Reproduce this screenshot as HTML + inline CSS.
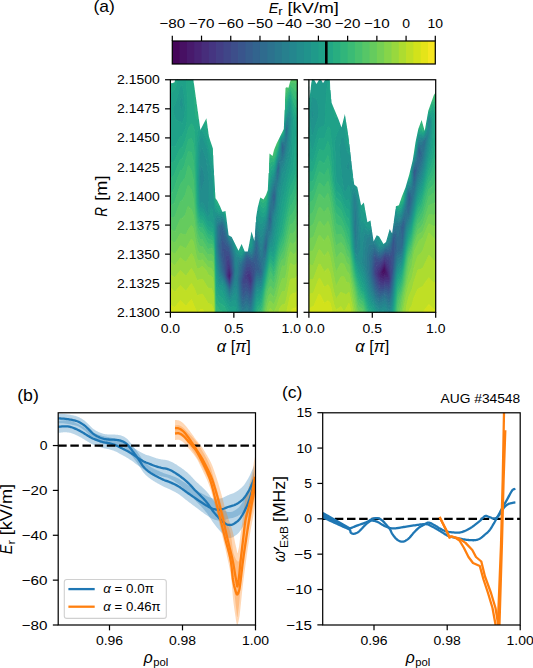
<!DOCTYPE html><html><head><meta charset="utf-8"><style>html,body{margin:0;padding:0;background:#fff;width:533px;height:668px;overflow:hidden}svg{display:block}text{font-family:"Liberation Sans", sans-serif;fill:#000}</style></head><body><svg width="533" height="668" viewBox="0 0 533 668"><defs><clipPath id="ca"><rect x="170.4" y="79.75" width="126.9" height="232.55"/></clipPath><clipPath id="cb"><rect x="308.9" y="79.75" width="126.8" height="232.55"/></clipPath><clipPath id="cpb"><rect x="58.2" y="412.8" width="197.3" height="212.2"/></clipPath><clipPath id="cpc"><rect x="322.7" y="412.8" width="197.5" height="212.2"/></clipPath></defs><g clip-path="url(#ca)"><path d="M229.4 274.8 229.4 277.3 229.4 274.8Z" fill="#471063" stroke="#471063" stroke-width="1"/><path d="M229.4 271.8 230.1 275.8 229.4 278.5 228.5 275.8 229.4 271.8ZM229.2 275.8 229.4 277.3 229.6 275.8 229.4 274.8 229.2 275.8Z" fill="#481a6c" stroke="#481a6c" stroke-width="1"/><path d="M229.4 268.8 230.6 275.8 229.4 279.7 228.2 276.8 228.0 274.8 229.4 268.8ZM229.1 272.8 228.5 275.8 229.4 278.5 230.1 275.8 229.4 271.8 229.1 272.8Z" fill="#482374" stroke="#482374" stroke-width="1"/><path d="M229.4 265.8 231.0 274.8 230.4 278.7 229.4 280.8 227.7 276.8 227.3 274.8 228.1 268.8 229.4 265.8ZM229.0 269.8 228.0 275.8 229.4 279.7 230.6 275.8 229.4 268.8 229.0 269.8ZM249.4 276.7 250.4 276.4 250.7 277.8 250.9 280.8 250.4 282.3 248.8 277.8 249.4 276.7Z" fill="#472d7b" stroke="#472d7b" stroke-width="1"/><path d="M229.4 262.7 231.5 274.8 230.4 280.0 229.4 281.9 227.1 276.8 226.7 274.8 227.4 266.2 228.4 263.4 229.4 262.7ZM228.8 266.8 227.9 269.8 227.3 274.8 227.7 276.8 229.4 280.8 230.4 278.7 231.0 274.8 229.4 265.8 228.8 266.8ZM248.4 273.6 250.4 273.0 251.2 276.8 251.7 280.8 250.4 285.1 246.5 275.8 246.6 274.8 248.4 273.6ZM249.2 276.8 248.8 277.8 249.0 278.8 250.4 282.3 251.0 279.8 250.5 276.8 250.4 276.4 249.2 276.8Z" fill="#453581" stroke="#453581" stroke-width="1"/><path d="M227.4 259.7 229.4 259.0 231.9 273.8 230.9 279.8 229.4 283.0 226.5 276.8 226.2 274.8 226.4 261.7 227.4 259.7ZM229.4 262.8 228.4 263.4 227.4 266.2 226.7 274.8 227.1 276.8 229.4 281.9 230.4 280.0 231.5 274.8 229.4 262.8ZM250.4 269.7 251.8 274.8 252.4 280.8 250.4 288.0 246.4 279.7 244.4 279.6 244.0 278.8 246.4 270.7 250.4 269.7ZM247.8 273.8 246.6 274.8 246.5 275.8 250.4 285.1 251.7 280.8 250.9 274.8 250.4 273.0 247.8 273.8Z" fill="#433e85" stroke="#433e85" stroke-width="1"/><path d="M226.4 255.4 229.4 255.2 232.3 272.8 231.2 279.8 230.4 282.6 229.4 284.2 226.4 277.7 225.6 274.8 225.1 258.8 225.4 257.0 226.4 255.4ZM227.3 259.8 226.4 261.7 226.2 275.8 229.4 283.0 230.9 279.8 231.9 273.8 229.4 259.0 227.3 259.8ZM248.4 266.7 250.4 266.4 252.9 272.8 253.0 280.8 251.4 288.4 250.4 290.8 246.4 283.5 243.4 284.4 242.4 280.8 243.4 275.9 246.4 267.2 248.4 266.7ZM250.1 269.8 246.4 270.7 244.0 278.8 244.4 279.6 246.4 279.7 250.4 288.0 252.4 280.8 251.6 273.8 250.4 269.7 250.1 269.8Z" fill="#404688" stroke="#404688" stroke-width="1"/><path d="M222.4 248.5 224.4 248.6 226.4 250.4 229.4 251.5 231.4 261.8 232.8 273.8 231.1 281.8 230.4 283.9 229.4 285.3 226.4 278.9 225.1 274.8 223.6 252.8 223.4 251.6 222.4 251.4 222.4 248.5ZM226.1 255.8 225.1 258.8 225.6 274.8 226.4 277.7 229.4 284.2 230.4 282.6 231.7 277.8 232.4 273.8 232.2 271.8 229.4 255.2 227.4 255.2 226.1 255.8ZM246.4 263.6 250.4 263.0 253.4 268.0 254.4 270.8 253.5 280.8 251.5 290.8 250.4 293.7 246.4 287.3 243.4 289.5 241.7 282.8 241.9 279.8 243.2 272.8 246.4 263.6ZM248.1 266.8 246.4 267.2 243.4 275.9 242.4 280.8 243.4 284.4 246.4 283.5 250.4 290.8 251.4 288.4 253.0 280.8 252.9 272.8 250.4 266.4 248.1 266.8Z" fill="#3d4e8a" stroke="#3d4e8a" stroke-width="1"/><path d="M222.4 239.0 226.4 245.5 229.4 247.9 232.2 262.8 233.2 273.8 231.6 281.8 230.4 285.2 229.4 286.4 226.4 280.2 224.9 275.8 221.2 252.8 221.3 244.8 222.4 239.0ZM222.4 248.8 222.4 251.4 223.4 251.6 223.6 252.8 225.1 274.8 226.4 278.9 229.4 285.3 230.4 283.9 231.1 281.8 232.8 273.8 231.9 264.8 229.4 251.5 226.4 250.4 224.4 248.6 222.4 248.8ZM246.4 260.1 250.4 259.9 252.4 262.1 253.4 262.0 254.4 262.6 255.3 264.8 256.1 268.8 252.4 290.0 250.4 296.6 246.4 291.1 243.4 294.5 242.4 292.1 240.9 282.8 242.8 270.8 246.4 260.1ZM246.4 263.8 243.2 272.8 241.9 279.8 241.7 282.8 243.4 289.5 246.4 287.3 250.4 293.7 251.5 290.8 253.5 280.8 254.4 270.8 253.4 268.0 250.4 263.0 246.4 263.8Z" fill="#39558c" stroke="#39558c" stroke-width="1"/><path d="M282.4 145.5 282.4 147.8 282.4 145.5ZM278.4 168.4 278.4 169.0 278.4 168.4ZM274.4 194.6 274.8 196.8 274.4 200.3 273.4 200.1 273.1 197.8 273.4 195.5 274.4 194.6ZM270.4 218.3 270.4 220.4 270.4 218.3ZM221.4 231.3 222.4 230.8 227.0 242.8 229.7 246.8 232.6 260.8 233.6 273.8 231.7 282.8 230.4 286.5 229.4 287.5 226.4 281.4 224.1 274.8 222.9 269.8 220.3 252.8 220.1 245.8 221.4 231.3ZM222.2 239.8 221.4 243.6 221.0 250.8 223.7 268.8 225.4 277.4 229.4 286.4 230.4 285.2 231.6 281.8 233.2 273.8 232.1 261.8 229.4 247.9 226.4 245.5 222.4 239.0 222.2 239.8ZM266.4 244.1 266.4 245.1 265.4 246.7 265.4 244.8 266.4 244.1ZM255.4 254.4 256.4 254.2 257.9 263.8 259.7 269.8 259.4 270.5 257.4 270.4 256.2 272.8 252.4 292.9 250.4 299.8 246.4 294.4 243.4 297.9 242.4 296.9 241.0 289.8 240.1 280.8 242.8 266.8 246.4 257.3 249.4 257.9 251.4 259.5 252.4 259.6 254.5 256.8 255.4 254.4ZM246.2 260.8 242.8 270.8 240.9 282.8 242.4 292.1 243.4 294.5 246.4 291.1 250.4 296.6 252.4 290.0 256.1 268.8 255.3 264.8 254.4 262.6 253.4 262.0 252.4 262.1 250.4 259.9 246.4 260.1 246.2 260.8Z" fill="#365d8d" stroke="#365d8d" stroke-width="1"/><path d="M286.4 129.6 286.4 131.0 286.4 129.6ZM282.4 144.4 283.5 147.8 282.4 151.2 281.6 145.8 282.4 144.4ZM282.2 145.8 282.4 147.8 282.6 146.8 282.2 145.8ZM278.4 166.0 278.9 167.8 278.4 172.5 277.4 172.2 277.2 169.7 278.4 166.0ZM278.3 168.8 278.4 168.4 278.3 168.8ZM274.4 191.7 275.3 196.8 274.4 203.2 273.4 203.6 272.5 196.8 273.4 192.8 274.4 191.7ZM274.3 194.8 273.4 195.5 273.1 197.8 273.4 200.1 274.4 200.3 274.8 196.8 274.3 194.8ZM270.4 213.5 271.0 219.8 270.4 223.8 269.4 222.3 269.0 218.8 269.4 215.3 270.4 213.5ZM270.1 218.8 270.4 220.4 270.4 218.3 270.1 218.8ZM222.4 224.7 223.4 229.4 225.4 233.6 227.0 239.8 230.7 247.8 233.3 260.8 234.1 270.8 233.8 275.8 231.9 283.8 230.4 287.7 229.4 288.7 226.0 281.8 221.9 269.8 219.4 252.8 218.9 246.8 219.8 228.8 220.9 225.8 221.4 225.0 222.4 224.7ZM221.3 231.8 220.1 245.8 220.3 252.8 222.9 269.8 224.1 274.8 226.4 281.4 229.4 287.5 230.4 286.5 231.7 282.8 233.6 273.8 232.6 260.8 229.7 246.8 227.0 242.8 222.4 230.8 221.3 231.8ZM266.4 239.8 266.9 244.8 266.4 248.1 265.4 250.0 264.4 246.8 265.4 241.3 266.4 239.8ZM265.6 244.8 265.4 246.7 266.4 244.8 266.4 244.1 265.6 244.8ZM256.4 242.9 258.5 257.8 261.5 271.8 260.4 273.6 257.4 273.3 256.4 275.2 252.4 295.9 250.4 303.1 246.4 297.7 243.4 301.1 242.4 300.3 241.0 295.8 239.3 279.8 241.8 266.8 243.3 261.8 246.4 255.4 249.4 256.5 251.4 258.0 252.4 257.6 254.5 252.8 256.4 242.9ZM255.3 254.8 253.9 257.8 252.4 259.6 251.4 259.5 249.4 257.9 246.4 257.3 242.8 266.8 240.1 280.8 241.0 289.8 242.4 296.9 243.4 297.9 246.4 294.4 250.4 299.8 252.4 292.9 256.2 272.8 257.4 270.4 259.4 270.5 259.7 269.8 257.9 263.8 256.4 254.2 255.3 254.8Z" fill="#32648e" stroke="#32648e" stroke-width="1"/><path d="M286.4 127.3 287.1 129.8 286.4 136.1 285.7 131.8 286.4 127.3ZM286.4 129.8 286.4 131.0 286.4 129.8ZM282.4 143.4 283.8 145.8 284.4 148.8 282.4 154.6 281.6 150.8 281.2 145.8 281.4 144.1 282.4 143.4ZM282.0 144.8 281.6 145.8 282.4 151.2 283.5 147.8 282.6 144.8 282.4 144.4 282.0 144.8ZM278.4 164.0 279.3 165.8 279.5 167.8 278.4 175.6 277.4 176.6 276.8 169.8 278.4 164.0ZM278.1 166.8 277.4 168.4 277.2 170.8 277.4 172.2 278.4 172.5 278.9 167.8 278.4 166.0 278.1 166.8ZM274.4 188.7 275.4 192.1 275.8 196.8 274.4 206.0 273.4 207.1 272.2 202.8 271.9 196.8 273.2 190.8 274.4 188.7ZM274.4 191.8 273.4 192.8 272.5 196.8 273.4 203.6 274.4 203.2 275.3 196.8 274.4 191.8ZM270.4 208.2 271.1 211.8 271.6 220.8 270.4 227.2 269.4 226.7 269.1 225.8 268.5 217.8 269.4 211.4 270.4 208.2ZM270.3 213.8 269.4 215.3 269.0 218.8 269.4 222.3 270.4 223.8 271.0 219.8 270.3 213.8ZM221.4 223.3 222.4 223.1 223.3 224.8 227.9 239.8 231.2 246.8 233.7 258.8 234.6 270.8 234.1 276.8 232.2 284.8 230.4 289.1 229.4 290.0 226.4 283.8 221.2 270.8 218.5 252.8 218.0 246.8 218.1 227.8 218.4 226.8 221.4 223.3ZM222.3 224.8 221.4 225.0 220.9 225.8 219.8 228.8 218.9 246.8 219.4 252.8 221.9 269.8 226.0 281.8 229.4 288.7 230.4 287.7 231.9 283.8 233.8 275.8 234.1 270.8 233.3 260.8 230.7 247.8 227.0 239.8 225.4 233.6 223.4 229.4 222.3 224.8ZM266.4 235.8 267.2 238.8 267.4 243.8 266.4 250.9 265.4 253.4 264.1 251.8 263.6 247.8 265.4 237.9 266.4 235.8ZM265.8 240.8 264.4 246.8 265.4 250.0 266.4 248.1 266.9 244.8 266.4 239.8 265.8 240.8ZM256.4 239.5 257.7 242.8 259.3 254.8 261.5 264.8 262.1 272.8 261.4 275.0 260.4 276.1 257.4 276.2 256.4 278.2 251.8 301.8 250.4 306.3 246.4 300.9 243.4 304.4 242.4 303.8 241.9 302.8 240.3 296.8 238.5 278.8 239.7 270.8 242.0 262.8 246.4 253.7 251.4 256.4 252.4 255.7 253.9 251.8 255.4 242.2 256.4 239.5ZM256.1 243.8 254.5 252.8 252.4 257.6 251.4 258.0 249.4 256.5 246.4 255.4 243.3 261.8 241.8 266.8 239.3 279.8 241.0 295.8 242.4 300.3 243.4 301.1 246.4 297.7 250.4 303.1 252.4 295.9 256.4 275.2 257.4 273.3 260.4 273.6 261.5 271.8 258.5 257.8 256.7 243.8 256.4 242.9 256.1 243.8Z" fill="#2f6b8e" stroke="#2f6b8e" stroke-width="1"/><path d="M286.4 125.0 287.5 126.8 287.7 129.8 286.4 141.2 285.6 141.8 285.4 143.2 285.3 130.8 286.4 125.0ZM286.3 127.8 285.7 131.8 286.4 136.1 287.1 129.8 286.7 127.8 286.4 127.3 286.3 127.8ZM282.4 142.3 285.3 145.8 285.3 147.8 284.4 152.8 282.4 157.9 281.3 154.8 280.9 145.8 281.4 143.0 282.4 142.3ZM281.8 143.8 281.2 144.8 281.3 147.8 282.4 154.6 284.1 149.8 284.3 147.8 282.7 143.8 282.4 143.4 281.8 143.8ZM278.4 162.0 279.4 162.8 280.0 168.8 278.4 178.8 277.4 180.9 276.5 178.8 276.3 170.7 277.4 164.7 278.4 162.0ZM278.1 164.8 276.8 169.8 277.4 176.6 278.4 175.6 279.5 167.8 278.9 164.8 278.4 164.0 278.1 164.8ZM274.4 185.6 275.4 185.5 275.8 187.8 276.4 194.8 275.8 200.8 274.4 208.9 272.4 212.0 272.1 221.8 270.9 228.8 270.4 230.6 269.4 231.2 268.4 230.9 268.1 231.8 267.8 244.8 266.4 253.7 265.4 256.7 263.6 258.8 263.0 260.8 262.6 273.8 261.4 277.6 260.4 278.7 257.4 279.1 256.4 281.3 252.3 302.8 250.4 309.6 246.4 304.2 243.4 307.7 242.4 307.2 241.0 303.8 239.4 295.8 237.7 279.8 238.9 267.8 240.0 263.8 241.4 262.3 246.4 252.4 251.4 254.9 252.4 253.8 253.9 248.8 255.4 238.5 256.4 236.0 257.4 237.7 258.1 240.8 260.4 254.3 261.4 257.4 262.4 257.1 262.7 247.8 264.0 240.7 265.4 234.4 267.8 228.8 268.1 216.8 269.4 207.5 270.9 200.8 271.4 194.8 273.0 188.8 274.4 185.6ZM274.3 188.8 273.2 190.8 271.9 196.8 272.2 202.8 273.4 207.1 274.4 206.0 275.8 196.8 275.4 192.1 274.3 188.8ZM270.3 208.8 269.4 211.4 268.5 218.8 269.1 225.8 269.4 226.7 270.4 227.2 271.6 219.8 271.0 210.8 270.6 208.8 270.4 208.2 270.3 208.8ZM266.0 236.8 265.0 239.8 263.6 247.8 264.1 251.8 265.4 253.4 266.4 250.9 267.4 243.8 267.0 237.8 266.4 235.8 266.0 236.8ZM256.3 239.8 255.4 242.2 253.9 251.8 252.4 255.7 251.4 256.4 246.4 253.7 242.0 262.8 239.7 270.8 238.5 278.8 240.3 296.8 241.9 302.8 242.4 303.8 243.4 304.4 246.4 300.9 250.4 306.3 251.8 301.8 256.4 278.2 257.4 276.2 260.4 276.1 261.4 275.0 262.1 272.8 261.5 264.8 259.3 254.8 257.7 242.8 256.3 239.8ZM221.4 221.7 222.4 221.5 223.9 223.8 228.6 239.8 231.7 245.7 234.3 257.8 235.0 270.8 234.5 277.8 232.8 284.8 230.4 290.9 229.4 291.9 220.4 271.8 218.1 255.8 217.3 246.8 217.3 226.8 218.2 224.8 219.4 224.0 221.4 221.7ZM221.1 223.8 218.4 226.8 218.1 227.8 218.0 246.8 218.5 252.8 221.2 270.8 226.4 283.8 229.4 290.0 230.4 289.1 232.2 284.8 234.1 276.8 234.6 270.8 233.7 258.8 231.2 246.7 227.9 239.8 223.3 224.8 222.4 223.1 221.1 223.8Z" fill="#2c728e" stroke="#2c728e" stroke-width="1"/><path d="M286.4 122.7 287.4 123.1 288.5 126.8 287.1 141.8 284.4 156.8 282.4 161.4 281.4 161.3 280.9 161.8 280.0 173.8 276.9 187.8 276.8 195.8 276.0 203.8 274.7 210.8 272.9 215.8 272.7 222.8 271.8 228.8 270.8 232.8 269.1 236.8 266.7 254.8 264.1 264.8 263.4 272.8 262.4 277.1 261.4 280.1 260.4 281.3 257.4 282.0 256.4 284.4 252.4 306.0 251.4 310.4 250.2 312.8 246.4 307.5 243.4 311.0 242.4 310.6 241.4 309.0 240.4 305.7 238.5 294.8 236.9 278.8 237.4 269.7 238.4 262.8 239.4 261.3 240.4 261.4 241.4 260.7 246.4 251.0 251.4 253.4 252.4 251.9 253.5 247.8 255.4 234.8 256.4 232.6 257.7 234.8 260.4 248.6 261.4 250.6 263.9 236.8 266.8 225.8 268.4 210.6 270.9 193.8 272.4 187.7 275.2 179.8 275.9 170.8 277.0 164.8 278.4 159.9 279.4 159.0 280.4 160.1 280.5 159.8 280.8 143.8 281.4 141.9 282.4 141.3 283.4 141.9 283.9 141.8 284.6 140.8 285.0 130.8 286.4 122.7ZM286.2 125.8 285.3 130.8 285.4 143.2 285.6 141.8 286.4 141.2 287.8 128.8 287.4 126.4 286.4 125.0 286.2 125.8ZM281.7 142.8 280.9 144.8 281.0 150.8 281.4 155.4 282.4 157.9 284.4 152.8 285.2 148.8 285.3 145.8 282.4 142.3 281.7 142.8ZM278.1 162.8 276.3 170.8 276.5 178.8 277.4 180.9 278.4 178.8 280.0 168.8 279.4 162.6 278.4 162.0 278.1 162.8ZM274.3 185.8 273.0 188.8 271.4 194.8 270.9 200.8 269.4 207.5 268.1 216.8 267.8 228.8 265.4 234.4 264.0 240.8 262.7 247.8 262.4 257.1 261.4 257.4 260.4 254.3 258.1 240.8 257.4 237.7 256.4 236.0 255.4 238.5 253.9 248.8 252.4 253.8 251.4 254.9 246.4 252.4 241.4 262.3 240.0 263.8 238.9 267.8 237.7 279.8 239.4 295.8 241.0 303.8 242.4 307.2 243.4 307.7 246.4 304.2 250.4 309.6 252.3 302.8 256.4 281.3 257.4 279.1 260.4 278.7 261.4 277.6 262.6 273.8 263.0 260.8 263.6 258.8 265.4 256.7 266.4 253.7 267.8 244.8 268.1 231.8 268.4 230.9 269.4 231.2 270.4 230.6 270.9 228.8 272.1 221.8 272.4 212.0 274.4 208.9 275.8 200.8 276.4 194.8 275.8 187.8 275.4 185.5 274.3 185.8ZM221.4 220.0 222.4 219.9 224.4 222.8 228.9 238.8 232.2 244.8 234.8 256.8 235.5 270.8 235.0 278.8 233.9 283.8 231.9 289.8 230.4 293.2 229.4 294.0 224.4 281.4 219.7 272.8 217.4 255.7 216.6 245.8 216.7 225.8 217.4 223.0 219.4 222.0 221.4 220.0ZM221.3 221.8 219.4 224.0 218.2 224.8 217.3 226.8 217.3 246.8 218.2 256.8 220.4 271.8 229.4 291.9 230.4 290.9 232.8 284.8 234.5 277.8 235.0 270.8 234.3 257.8 231.7 245.8 228.6 239.8 223.9 223.8 222.4 221.5 221.3 221.8Z" fill="#29798e" stroke="#29798e" stroke-width="1"/><path d="M286.4 120.4 287.4 120.0 288.4 120.3 289.1 124.8 287.9 142.8 284.4 160.8 281.4 167.1 280.4 176.8 277.6 188.8 276.6 203.8 275.5 210.8 273.4 217.8 272.2 231.8 269.4 240.0 266.5 258.8 264.8 265.8 262.4 279.8 261.4 282.7 260.4 283.8 257.4 285.0 256.4 287.4 251.9 311.8 251.7 312.8 250.5 312.8 252.4 306.0 256.4 284.4 257.4 282.0 260.4 281.3 261.4 280.1 263.2 273.8 264.1 264.8 266.4 256.4 269.1 236.8 270.8 232.8 272.0 227.8 272.9 215.8 274.7 210.8 275.9 204.8 276.8 195.8 276.9 187.8 280.0 173.8 280.9 161.8 281.4 161.3 282.4 161.4 284.7 155.8 287.1 141.8 288.4 128.8 288.1 124.8 287.4 123.1 286.4 122.7 285.0 130.8 285.0 136.8 284.4 141.5 283.4 141.9 282.4 141.3 281.4 141.9 280.8 143.8 280.5 159.8 280.4 160.1 279.4 159.0 278.4 159.9 277.0 164.8 275.9 170.8 275.2 179.8 272.4 187.7 270.9 193.8 268.4 210.6 266.8 225.8 263.9 236.8 261.4 250.6 260.4 248.6 257.4 233.8 256.4 232.6 255.4 234.8 255.4 231.1 256.4 229.1 257.4 229.9 260.4 242.4 261.4 243.8 266.4 223.6 270.6 191.8 272.1 185.8 274.6 178.8 276.8 163.8 279.8 153.8 280.4 143.7 281.4 140.8 282.4 140.2 283.4 140.3 284.4 138.2 284.9 128.8 286.4 120.4ZM221.4 218.4 222.4 218.3 224.4 221.0 229.1 237.8 232.4 242.7 235.6 256.8 236.4 267.9 237.4 259.3 238.4 258.9 240.4 259.6 241.4 259.1 246.4 249.7 250.4 251.8 251.4 251.8 252.9 247.8 254.1 237.5 254.4 237.8 254.9 237.2 253.5 247.8 251.9 252.7 251.4 253.4 250.4 253.1 246.4 251.0 241.4 260.7 240.4 261.4 239.4 261.3 238.4 262.5 236.9 275.8 238.7 295.8 240.2 304.8 241.4 309.0 242.4 310.6 243.4 311.0 246.4 307.5 250.2 312.8 241.4 312.8 240.2 308.8 238.5 299.8 236.4 281.4 235.4 280.8 232.6 290.8 230.4 295.5 229.4 296.0 224.4 282.9 219.4 275.1 217.9 266.8 216.2 250.8 216.0 225.8 216.4 222.6 217.4 220.2 219.4 220.0 221.4 218.4ZM220.6 220.8 219.4 222.0 217.4 223.0 216.6 226.8 216.7 246.8 218.2 262.8 219.7 272.8 224.4 281.4 229.4 294.0 230.4 293.2 231.9 289.8 233.9 283.8 235.0 278.8 235.5 270.8 234.8 256.8 232.2 244.8 228.9 238.8 224.4 222.8 222.4 219.9 221.4 220.0 220.6 220.8Z" fill="#27808e" stroke="#27808e" stroke-width="1"/><path d="M288.4 116.5 289.4 116.1 290.0 118.8 289.6 132.8 288.3 147.8 284.4 165.5 283.4 167.6 282.4 168.4 282.0 169.8 280.5 181.8 278.4 188.8 277.0 206.8 275.9 212.8 274.4 217.8 272.6 234.8 269.4 244.3 262.4 282.4 261.4 285.2 260.4 286.4 257.4 287.9 256.4 290.5 252.5 312.8 251.7 312.8 256.4 287.4 257.4 285.0 260.4 283.8 261.4 282.7 263.4 275.6 269.4 240.0 271.4 234.9 272.4 230.5 273.4 217.8 276.2 206.8 277.6 188.8 280.4 176.8 281.4 167.1 284.4 160.8 287.1 147.8 289.1 127.8 288.4 120.3 287.4 120.0 286.4 120.4 284.9 128.8 284.4 138.2 283.4 140.3 282.4 140.2 281.4 140.8 280.4 143.7 279.8 153.8 276.8 163.8 274.6 178.8 272.1 185.8 270.6 191.8 266.4 223.6 261.4 243.8 260.4 242.4 257.4 229.9 256.4 229.1 255.4 231.1 255.4 227.4 256.4 225.7 257.4 226.0 260.4 235.9 261.4 237.0 265.4 224.0 266.4 219.6 270.4 189.1 271.7 183.8 274.4 176.4 276.4 163.8 279.2 152.8 280.3 142.8 281.4 139.7 283.4 138.8 283.8 137.8 285.4 122.4 286.4 118.3 288.4 116.5ZM200.4 165.8 202.4 168.0 204.0 173.8 204.7 179.8 200.4 193.5 199.7 176.8 200.4 165.8ZM221.4 216.7 222.4 216.7 224.4 219.2 229.4 237.0 231.4 238.6 232.4 240.0 236.4 256.2 238.4 256.7 240.4 257.9 241.4 257.5 246.4 248.3 250.4 250.5 251.4 250.3 252.4 247.8 253.4 236.8 254.1 237.5 252.9 247.8 251.4 251.8 250.4 251.8 246.4 249.7 241.4 259.1 240.4 259.6 238.4 258.9 237.4 259.3 236.4 267.9 235.6 256.8 232.7 243.8 231.4 240.8 229.1 237.8 224.4 221.0 222.4 218.3 221.4 218.4 219.4 220.0 217.4 220.2 216.4 222.8 216.0 226.8 216.2 249.8 217.9 266.8 219.4 275.1 224.4 282.9 229.4 296.0 230.4 295.5 232.6 290.8 235.4 280.8 236.4 281.4 238.5 299.8 240.2 308.8 241.4 312.8 240.1 312.8 237.9 301.8 236.4 289.5 235.4 286.7 232.7 293.8 230.4 297.7 229.4 298.1 227.8 294.8 224.4 284.7 222.4 281.7 219.6 278.8 218.4 274.8 217.0 265.8 215.4 249.8 215.4 223.8 215.9 219.8 217.1 217.8 219.4 218.0 221.4 216.7Z" fill="#24868e" stroke="#24868e" stroke-width="1"/><path d="M289.4 111.3 290.4 112.1 291.1 118.8 289.9 142.8 288.7 153.8 286.4 161.6 284.9 169.8 284.4 171.2 283.0 172.8 282.4 174.6 281.4 183.8 279.4 192.7 277.7 208.8 272.9 239.8 271.7 242.8 270.4 244.0 269.4 247.8 262.4 285.1 261.4 287.7 257.4 291.1 256.4 293.7 253.1 312.8 252.5 312.8 256.4 290.5 257.4 287.9 260.4 286.4 261.4 285.2 262.4 282.4 269.4 244.3 272.4 235.8 274.4 217.8 275.9 212.8 277.0 206.8 278.4 188.8 280.5 181.8 282.0 169.8 282.4 168.4 283.4 167.6 284.4 165.5 287.9 149.8 289.0 140.8 289.9 126.8 289.8 116.8 289.4 116.1 288.4 116.5 286.3 118.8 284.9 125.8 284.1 136.8 283.4 138.8 281.4 139.7 280.3 142.8 279.2 152.8 276.4 163.8 274.4 176.4 271.7 183.8 270.4 189.1 266.4 219.6 261.4 237.0 260.4 235.9 257.4 226.0 256.4 225.7 255.4 227.4 255.4 223.7 256.4 222.3 257.4 222.1 260.4 229.4 261.4 230.3 265.4 220.5 266.4 216.2 270.4 185.3 274.4 173.3 276.1 162.8 278.9 151.8 280.4 140.7 281.4 138.6 283.4 137.2 283.8 135.8 284.7 124.8 285.9 117.7 286.4 116.1 289.4 111.3ZM200.4 148.2 202.4 148.6 205.8 157.8 208.3 172.8 209.1 181.8 209.0 200.8 208.1 211.8 207.4 213.0 206.3 211.8 204.8 206.8 202.8 202.8 202.4 202.2 200.4 203.7 199.4 200.8 198.8 176.8 199.4 159.6 200.4 148.2ZM200.3 166.8 199.7 176.8 200.4 193.5 204.7 179.8 204.0 173.8 202.4 168.0 200.4 165.8 200.3 166.8ZM213.4 207.0 213.4 208.1 213.4 207.0ZM216.4 215.3 217.4 214.8 219.4 215.9 222.4 215.1 224.4 217.4 227.2 225.8 227.4 228.8 227.9 229.3 229.4 235.5 230.4 236.3 231.8 236.8 233.0 238.8 236.4 253.3 240.4 256.2 241.4 255.9 242.4 254.6 245.9 247.8 247.4 247.8 247.9 247.3 250.4 249.2 251.4 248.8 252.9 233.3 253.4 233.8 252.4 247.8 251.4 250.3 250.4 250.5 246.4 248.3 242.4 256.0 241.4 257.5 240.4 257.9 238.4 256.7 236.4 256.2 232.7 240.8 231.4 238.6 229.4 237.0 224.4 219.2 222.4 216.7 221.4 216.7 219.4 218.0 217.4 217.5 216.4 218.6 215.6 220.8 215.4 249.8 217.2 266.8 218.9 276.8 219.6 278.8 222.4 281.7 224.4 284.7 227.8 294.8 229.4 298.1 230.4 297.7 232.7 293.8 235.4 286.7 236.4 289.5 237.9 301.8 240.1 312.8 238.9 312.8 235.4 293.2 230.6 299.8 229.4 300.2 226.6 294.8 224.3 286.8 222.4 283.7 219.4 281.8 218.3 278.8 216.6 268.8 215.4 257.5 214.7 219.8 214.9 217.8 216.4 215.3Z" fill="#228d8d" stroke="#228d8d" stroke-width="1"/><path d="M181.4 97.4 182.4 99.1 183.2 104.8 182.4 110.1 181.4 109.9 179.2 103.8 180.4 98.8 181.4 97.4ZM289.4 106.2 290.4 105.9 292.0 118.8 291.2 142.8 290.2 157.8 282.4 188.0 273.5 244.8 272.4 247.0 270.4 247.9 268.4 256.1 262.7 286.8 261.4 290.3 257.4 294.7 256.4 297.7 253.8 312.8 253.1 312.8 256.4 293.7 257.4 291.1 261.4 287.7 262.4 285.1 269.4 247.8 270.4 244.0 272.3 241.8 273.1 238.8 277.7 208.8 279.4 192.7 281.4 183.8 282.4 174.6 283.0 172.8 284.4 171.2 284.9 169.8 286.4 161.6 288.1 156.8 289.1 151.8 290.1 140.8 291.1 118.8 290.4 112.1 289.4 111.3 286.4 116.1 285.9 117.8 284.7 124.8 283.8 135.8 283.4 137.2 281.4 138.6 280.4 140.7 278.9 151.8 276.1 162.8 274.4 173.3 270.3 185.8 266.4 216.2 265.4 220.5 261.4 230.3 260.4 229.4 257.4 222.1 256.4 222.3 255.4 223.7 255.4 222.8 256.4 221.8 256.4 211.8 257.5 217.8 260.4 222.9 261.4 223.5 262.4 222.3 265.4 217.0 266.4 212.9 270.1 182.8 271.4 177.9 273.4 174.1 274.4 170.4 276.1 160.8 278.6 150.8 280.2 139.8 281.2 137.8 282.4 137.1 283.4 135.6 285.2 118.8 286.4 113.9 288.0 110.8 289.4 106.2ZM200.4 137.1 202.4 137.1 206.4 146.0 208.0 151.8 209.7 163.8 211.3 169.8 212.4 179.5 213.4 176.9 214.0 200.8 215.3 211.8 215.4 212.1 217.4 212.1 219.4 213.9 222.4 213.3 224.4 215.6 226.4 221.8 227.4 223.3 227.4 226.6 224.4 217.4 222.4 215.1 219.4 215.9 217.4 214.8 216.4 215.3 215.3 216.8 214.7 218.8 215.4 257.5 218.1 277.8 219.4 281.8 222.4 283.7 224.3 286.8 226.6 294.8 229.4 300.2 230.6 299.8 235.4 293.2 238.9 312.8 237.5 312.8 237.3 309.8 235.4 300.0 232.4 300.9 230.4 302.4 229.4 302.3 226.4 298.0 222.4 286.4 221.4 285.2 219.4 285.2 217.9 281.8 215.4 265.4 214.5 231.8 212.4 210.5 211.4 208.0 210.0 213.8 208.4 216.6 207.4 217.1 202.4 208.0 200.4 207.9 199.4 205.6 198.7 201.8 198.1 176.8 199.1 142.8 200.4 137.1ZM200.3 148.8 199.4 159.6 198.8 176.8 199.4 200.8 200.4 203.7 202.4 202.2 202.8 202.8 204.8 206.8 206.3 211.8 207.4 213.0 208.1 211.8 209.0 200.8 209.1 181.8 208.3 172.8 206.4 159.6 205.5 156.8 202.4 148.6 200.4 148.2 200.3 148.8ZM213.4 207.8 213.4 207.0 213.4 207.8ZM227.9 229.3 228.4 229.8 228.4 231.8 229.4 233.9 230.4 234.6 232.2 234.6 232.4 235.8 233.4 236.8 236.7 250.8 240.4 254.4 241.4 254.4 243.4 251.6 245.0 247.4 245.9 247.8 243.4 253.0 241.4 255.9 240.4 256.2 236.4 253.3 233.0 238.8 231.8 236.8 230.4 236.3 229.4 235.5 227.9 229.3ZM252.1 230.4 252.4 232.8 252.9 233.3 251.7 247.8 251.4 248.8 250.4 249.2 247.9 247.3 248.4 246.8 248.4 245.6 250.4 247.9 251.1 246.8 252.1 230.4Z" fill="#20938c" stroke="#20938c" stroke-width="1"/><path d="M181.4 84.7 182.4 85.7 183.7 91.8 185.4 107.7 184.2 117.8 182.4 123.2 181.4 123.2 180.4 121.4 178.4 121.6 176.1 119.8 174.4 116.3 173.4 111.8 173.5 106.8 175.4 103.5 180.4 85.6 181.4 84.7ZM181.1 97.8 180.4 98.8 179.2 103.8 181.4 109.9 182.4 110.1 183.2 104.8 182.4 99.1 181.4 97.4 181.1 97.8ZM290.4 99.6 293.2 119.8 292.2 153.8 291.4 163.3 282.4 201.4 274.4 249.8 273.4 252.9 270.4 251.7 269.4 254.7 262.8 288.8 260.4 295.5 257.4 298.8 256.4 302.0 254.5 312.8 253.8 312.8 256.4 297.7 257.4 294.8 261.4 290.3 263.2 284.8 269.4 251.2 270.4 247.9 272.4 247.0 273.5 244.8 282.4 188.0 290.2 157.8 291.2 142.8 292.0 119.8 290.4 105.9 289.4 106.2 288.0 110.8 286.4 113.9 284.4 123.8 284.4 120.4 285.3 115.8 289.4 100.4 290.4 99.6ZM284.1 126.8 283.6 134.8 282.7 136.8 281.2 137.8 280.2 139.8 278.6 150.8 276.1 160.8 274.4 170.4 273.4 174.1 271.4 177.9 269.9 183.8 266.4 212.9 265.4 217.0 263.4 220.9 261.4 223.5 260.4 222.9 257.5 217.8 256.6 211.6 257.4 210.8 257.4 205.8 258.1 205.1 259.5 212.8 261.4 216.8 262.4 217.1 263.4 216.5 265.4 213.6 266.4 209.5 268.9 185.8 270.3 177.8 271.4 174.1 273.4 171.2 274.4 167.7 275.8 159.8 278.4 149.8 279.8 139.8 280.4 137.7 282.4 136.1 283.4 134.0 283.7 126.8 284.2 126.0 284.1 126.8ZM201.4 130.6 202.4 130.5 206.6 138.8 213.4 166.8 214.3 194.8 215.4 207.6 219.4 211.9 222.4 211.6 223.4 212.1 226.4 219.1 226.4 221.4 224.4 215.6 222.4 213.3 219.4 213.9 217.4 212.1 215.4 212.1 215.3 211.7 214.0 200.8 213.4 176.9 212.4 179.5 211.3 169.8 209.4 162.4 207.4 149.1 202.4 137.1 200.4 137.1 199.4 140.4 199.1 143.8 198.1 177.8 199.0 203.8 200.4 207.9 202.4 208.0 207.4 217.1 208.4 216.6 210.0 213.8 211.4 208.0 212.4 210.5 214.5 231.8 215.4 265.4 217.9 281.8 219.4 285.2 221.4 285.2 222.4 286.4 226.4 298.0 229.4 302.3 230.4 302.4 232.4 300.9 235.4 300.0 237.3 309.8 237.5 312.8 235.8 312.8 235.4 307.2 233.4 306.7 230.4 307.2 229.4 306.6 226.4 302.0 222.4 292.2 221.4 290.5 219.4 289.5 217.9 286.8 216.5 281.8 215.4 274.2 214.4 238.8 213.4 226.4 210.8 221.8 207.4 221.3 202.4 212.0 200.4 212.0 199.4 209.9 198.7 206.8 198.1 202.8 197.3 178.8 197.8 143.8 199.4 133.2 200.4 130.8 201.4 130.6ZM226.9 222.3 227.4 223.3 226.9 222.3ZM251.4 229.8 252.1 230.4 251.1 246.8 250.4 247.9 248.4 245.6 248.4 244.8 249.4 243.8 249.4 239.8 250.4 238.8 250.4 233.8 251.4 232.8 251.4 229.8ZM228.9 232.3 229.4 232.8 230.4 232.8 232.2 234.6 230.4 234.6 229.4 233.9 228.9 232.3ZM234.0 238.3 235.0 240.3 236.4 247.4 240.4 251.9 241.4 251.8 242.4 250.8 243.3 244.7 243.4 245.8 245.0 247.4 243.4 251.6 241.4 254.4 240.4 254.4 236.4 250.4 234.0 238.3Z" fill="#1f9a8a" stroke="#1f9a8a" stroke-width="1"/><path d="M178.4 78.8 186.5 78.8 187.6 105.8 187.3 120.8 185.4 128.5 182.4 135.6 181.4 136.4 180.4 136.1 175.4 146.2 174.4 146.8 172.4 146.3 169.4 149.1 169.4 94.3 174.4 89.5 175.4 87.6 177.2 81.8 177.5 78.8 178.4 78.8ZM181.3 84.8 180.4 85.6 175.4 103.5 173.5 106.8 173.4 111.8 174.4 116.3 176.1 119.8 178.4 121.6 180.4 121.4 181.4 123.2 182.4 123.2 184.2 117.8 185.4 107.8 183.7 91.8 182.4 85.7 181.3 84.8ZM290.4 95.4 293.4 114.3 295.5 121.8 296.4 131.8 294.7 149.8 293.5 169.8 290.4 177.0 287.8 187.8 279.4 230.2 278.2 238.8 274.4 256.1 273.4 257.7 270.4 255.5 269.4 258.2 263.7 287.8 261.4 297.3 260.4 299.4 257.4 303.0 255.2 312.8 254.5 312.8 256.4 302.0 257.4 298.8 260.4 295.5 263.4 286.8 269.4 254.7 270.4 251.7 273.4 252.9 274.4 249.8 282.4 201.4 291.4 163.3 292.2 153.8 293.2 119.8 290.4 99.6 289.4 100.4 285.3 115.8 284.4 120.4 284.4 117.0 286.4 107.3 289.0 97.8 290.4 95.4ZM202.4 123.9 206.4 130.9 208.5 136.8 213.4 158.3 213.4 166.8 206.4 138.3 202.4 130.5 200.4 130.8 199.6 132.8 197.9 141.8 197.6 149.8 197.3 178.8 198.4 205.3 199.4 209.9 200.4 212.0 202.4 212.0 207.4 221.3 210.8 221.8 213.4 226.4 214.4 238.8 215.4 274.2 216.5 281.8 217.9 286.8 219.4 289.5 221.4 290.5 222.4 292.2 226.4 302.0 229.4 306.6 230.4 307.2 233.4 306.7 235.4 307.2 235.8 312.8 231.7 312.8 230.4 312.5 229.4 311.6 222.4 298.6 221.4 297.3 219.4 296.3 217.4 292.4 215.4 284.6 214.3 244.8 213.4 231.3 212.4 229.0 211.4 228.0 208.4 226.7 207.4 225.5 202.4 215.9 200.4 215.9 199.4 214.2 198.1 208.7 197.4 203.8 196.6 178.8 196.4 142.5 197.1 134.8 198.7 127.8 199.5 125.8 200.4 126.8 201.4 125.8 201.4 124.8 202.4 123.9ZM283.7 126.8 283.4 134.0 282.4 136.1 281.1 136.8 280.0 138.8 278.4 149.8 275.8 159.8 274.4 167.7 273.4 171.2 271.1 174.8 269.6 180.7 266.4 209.8 265.4 213.6 263.4 216.5 262.4 217.1 261.4 216.8 260.4 215.3 259.0 210.8 258.1 205.1 258.4 204.8 258.4 200.8 258.8 200.4 260.0 207.8 261.4 211.7 262.4 212.5 263.4 212.3 265.4 209.9 266.4 205.1 268.4 183.7 269.8 174.8 271.1 170.8 273.4 168.0 274.4 164.9 278.4 147.8 279.8 137.8 280.4 136.1 282.4 135.0 283.0 133.8 283.4 126.8 283.8 126.4 283.7 126.8ZM213.9 175.2 214.4 175.8 214.4 191.8 215.4 203.1 217.4 206.7 220.0 209.8 221.4 210.1 223.4 209.7 224.4 210.3 225.4 214.8 226.4 216.8 226.4 219.1 223.4 212.1 222.4 211.6 219.4 211.9 215.4 207.6 214.3 194.8 213.9 175.2ZM235.0 240.3 236.4 244.0 237.4 244.8 237.4 245.8 238.4 246.8 240.4 244.8 240.4 242.8 241.4 241.8 242.4 242.8 242.4 243.8 243.3 244.8 242.4 250.7 241.4 251.8 240.4 251.9 236.4 247.4 235.0 240.3Z" fill="#1fa188" stroke="#1fa188" stroke-width="1"/><path d="M170.4 78.8 171.4 79.8 172.4 79.8 173.4 78.8 177.5 78.8 177.5 80.8 175.4 87.6 174.4 89.5 169.4 94.3 169.4 78.8 170.4 78.8ZM187.4 78.8 193.4 78.8 193.4 82.8 194.1 83.5 195.3 112.8 196.7 118.8 197.4 119.8 198.8 119.2 199.4 119.8 199.5 125.8 198.1 129.8 197.2 133.8 196.4 143.8 196.6 179.8 197.4 203.8 198.3 209.8 199.4 214.2 200.4 215.9 202.4 215.9 207.4 225.5 208.4 226.7 211.4 228.0 212.4 229.0 213.4 231.3 214.2 241.8 215.4 284.6 215.8 286.8 218.4 294.9 219.4 296.3 221.4 297.3 222.4 298.6 229.4 311.6 230.4 312.5 231.7 312.8 227.5 312.8 224.4 306.8 221.4 304.0 219.4 303.0 218.4 301.7 215.4 294.5 214.6 258.8 213.4 235.4 212.4 233.0 211.4 231.9 208.4 230.6 207.4 229.5 202.4 219.9 200.4 219.9 199.6 218.8 197.8 212.8 196.7 203.8 194.7 134.8 194.4 130.7 193.4 126.5 191.4 123.7 188.4 128.5 185.4 140.2 182.4 147.1 181.4 148.0 180.4 147.9 174.4 161.0 171.4 163.1 169.4 165.5 169.4 149.1 172.4 146.3 174.4 146.8 175.4 146.2 180.4 136.1 181.4 136.4 182.4 135.6 185.4 128.5 186.9 122.8 187.6 105.8 186.5 78.8 187.4 78.8ZM290.4 92.7 291.8 97.8 293.4 107.8 297.4 118.2 297.4 153.9 295.9 171.8 293.4 180.7 290.4 186.8 287.2 201.8 282.0 229.8 279.4 238.5 274.4 261.2 273.4 262.4 270.4 259.3 269.4 261.7 261.4 301.4 260.4 303.4 257.4 307.2 256.2 312.8 255.2 312.8 257.4 303.0 260.4 299.4 261.4 297.3 263.7 287.8 269.4 258.2 270.4 255.5 273.4 257.7 274.4 256.1 278.2 238.8 279.4 230.2 287.8 187.8 290.4 177.0 293.5 169.8 294.7 149.8 296.4 131.8 295.5 121.8 293.4 114.3 290.4 95.4 289.4 96.6 288.4 99.8 284.4 117.0 284.4 113.5 286.3 103.8 288.7 95.8 290.4 92.7ZM204.4 120.3 207.4 125.1 207.4 127.8 208.4 128.8 208.4 133.8 209.4 134.8 209.4 136.8 210.4 137.8 210.4 139.8 211.4 140.8 211.4 142.8 212.4 143.8 212.4 154.2 207.9 134.8 206.4 130.9 202.2 123.9 202.4 122.8 203.4 121.8 203.4 120.8 204.2 119.9 204.4 120.3ZM283.3 128.8 283.0 133.8 282.4 135.0 280.4 136.1 279.8 137.8 278.4 147.8 274.4 164.9 273.4 168.0 271.7 169.8 270.4 172.4 268.4 183.7 268.4 176.9 268.9 173.3 269.4 172.8 269.4 170.5 270.4 167.5 271.7 165.8 273.4 164.7 274.4 162.1 278.4 145.8 279.4 136.8 280.4 134.6 282.4 134.0 282.9 131.8 283.0 128.2 283.3 127.8 283.3 128.8ZM212.6 154.9 213.4 155.8 213.4 158.3 212.6 154.9ZM268.1 187.8 266.4 205.1 265.4 209.9 263.4 212.3 262.4 212.5 261.4 211.7 260.4 209.3 258.8 200.4 259.4 199.8 259.6 197.5 260.5 203.7 261.4 206.5 262.4 207.4 263.4 207.4 265.4 205.4 266.4 200.7 267.6 187.6 268.1 187.0 268.1 187.8ZM214.7 192.1 215.2 192.5 215.4 198.1 217.4 204.0 218.4 205.5 219.4 205.5 220.4 204.7 221.4 205.8 221.4 207.8 222.4 208.8 223.4 207.8 225.4 207.8 225.4 213.8 226.4 214.8 226.4 216.8 225.4 214.8 224.4 210.3 223.4 209.7 221.4 210.1 220.0 209.8 218.4 208.2 215.7 203.8 214.7 192.1ZM236.0 242.4 236.4 243.8 237.1 244.4 236.4 244.0 236.0 242.4Z" fill="#22a785" stroke="#22a785" stroke-width="1"/><path d="M194.1 83.5 194.4 89.0 194.1 83.5ZM194.4 89.8 195.4 90.8 195.4 96.8 196.4 97.8 196.4 103.8 197.4 104.8 197.4 110.8 198.4 111.8 198.4 118.8 198.8 119.2 197.4 119.8 196.3 117.8 195.2 111.8 194.4 89.8ZM290.4 90.0 291.7 93.8 293.4 101.4 295.4 105.9 297.4 108.5 297.4 118.2 293.4 107.8 291.8 97.8 290.4 92.7 289.4 93.9 288.0 97.8 285.4 107.7 285.4 103.0 286.0 100.8 288.8 92.8 290.4 90.0ZM284.8 110.8 284.4 113.5 284.4 110.8 284.9 110.2 284.8 110.8ZM206.4 115.8 206.4 120.8 207.4 121.8 207.4 125.1 204.2 119.9 204.4 118.8 205.4 117.8 205.4 116.8 206.4 115.8ZM191.4 123.7 193.4 126.5 194.6 132.8 196.7 203.8 197.7 211.8 199.6 218.8 200.4 219.9 202.4 219.9 207.4 229.5 208.4 230.6 211.4 231.9 212.4 233.0 213.4 235.4 214.6 258.8 215.4 294.5 218.4 301.7 219.4 303.0 221.4 304.0 224.4 306.8 227.5 312.8 223.0 312.8 222.4 311.3 219.4 309.8 215.4 303.3 214.4 258.8 213.4 239.5 212.4 237.0 211.4 235.8 208.4 234.5 207.4 233.4 202.4 223.8 200.4 223.8 199.4 222.7 197.4 216.2 196.0 203.8 194.4 153.9 193.4 144.0 191.4 138.1 188.4 139.9 185.4 151.4 182.4 158.3 181.4 159.2 180.4 159.3 174.4 174.3 171.6 177.8 169.4 181.9 169.4 165.5 171.4 163.1 174.4 161.0 180.4 147.9 181.4 148.0 182.4 147.1 185.4 140.2 188.4 128.5 191.4 123.7ZM283.0 128.8 282.5 133.8 280.4 134.6 279.4 136.9 278.4 145.8 274.4 162.1 273.4 164.7 271.7 165.8 270.4 167.5 269.4 170.5 269.4 164.1 271.4 161.8 273.4 161.5 274.4 159.3 278.4 143.8 279.4 134.8 280.4 133.8 280.4 133.1 282.4 132.9 282.7 128.5 283.0 128.2 283.0 128.8ZM297.4 153.9 297.4 175.8 294.6 187.8 292.4 193.3 290.4 196.4 283.3 232.8 279.4 244.0 274.4 266.2 273.4 267.2 270.4 263.0 269.4 265.2 262.2 302.8 260.7 306.8 257.9 310.8 257.8 312.8 256.2 312.8 257.4 307.2 260.4 303.4 261.8 299.8 269.4 261.7 270.4 259.3 273.4 262.4 274.4 261.2 279.4 238.5 282.0 229.8 287.2 201.7 290.4 186.7 293.4 180.7 295.7 172.8 297.4 153.9ZM268.8 173.8 268.4 176.9 268.4 173.8 268.9 173.3 268.8 173.8ZM267.6 187.8 266.4 200.7 265.4 205.4 263.4 207.4 262.4 207.4 261.2 205.8 259.8 199.8 259.6 197.5 260.4 196.8 260.4 193.8 260.9 194.3 261.4 201.2 262.4 202.4 263.4 202.5 265.4 200.8 267.6 187.8ZM215.2 192.5 215.4 194.8 217.4 197.7 218.4 202.5 218.7 201.0 219.4 201.8 219.4 202.8 220.4 203.8 220.4 204.7 219.4 205.5 218.4 205.5 216.0 200.8 215.4 198.1 215.2 192.5Z" fill="#28ae80" stroke="#28ae80" stroke-width="1"/><path d="M290.4 87.2 293.4 95.0 295.4 98.4 296.4 99.3 297.4 99.5 297.4 108.5 295.4 105.9 293.4 101.4 291.7 93.8 290.4 90.0 288.0 94.8 285.4 103.0 285.6 97.8 288.9 89.8 290.4 87.2ZM282.6 128.8 282.4 132.9 280.4 133.1 281.1 132.1 282.1 131.8 282.6 128.8ZM279.0 136.8 278.4 143.8 274.4 159.3 273.4 161.5 271.4 161.8 269.4 164.1 269.4 157.8 271.4 157.6 273.4 158.3 274.4 156.5 275.7 149.8 277.9 143.8 278.6 136.8 279.1 136.0 279.0 136.8ZM190.4 138.6 191.4 138.1 193.4 144.0 194.2 151.8 196.0 203.8 197.4 216.2 199.4 222.7 200.4 223.8 202.4 223.8 207.4 233.4 208.4 234.5 211.4 235.8 212.4 237.0 213.4 239.5 214.4 258.8 215.4 303.3 219.4 309.8 222.4 311.3 223.0 312.8 215.4 312.8 214.2 259.8 213.4 243.6 212.4 240.9 211.4 239.9 208.4 238.9 207.4 237.5 202.4 227.7 200.4 227.8 199.4 226.9 197.4 221.8 195.5 205.8 194.4 175.6 193.4 161.8 191.4 152.5 188.4 151.4 184.4 165.5 182.4 169.7 180.4 170.8 176.4 181.5 174.4 188.4 172.4 191.9 169.4 194.7 169.4 181.9 171.6 177.8 174.4 174.3 180.4 159.3 181.4 159.2 182.4 158.3 185.4 151.4 188.4 139.9 190.4 138.6ZM297.4 175.8 297.4 187.6 296.4 192.7 293.4 201.8 290.4 206.1 286.4 224.1 284.4 235.6 279.4 249.5 274.4 271.2 273.4 271.9 270.4 266.8 269.5 268.8 264.9 290.8 262.4 306.4 261.4 309.5 259.6 312.8 257.8 312.8 257.9 310.8 261.4 305.5 262.4 302.0 269.4 265.2 270.4 263.0 273.4 267.2 274.4 266.2 279.4 244.0 283.4 232.2 290.4 196.4 292.4 193.3 294.6 187.8 297.4 175.8ZM266.9 190.8 266.4 196.3 265.4 200.8 263.4 202.5 262.4 202.4 261.4 201.2 261.1 199.8 260.9 194.3 262.4 195.8 263.8 195.3 265.4 195.9 266.4 190.7 267.0 190.2 266.9 190.8ZM217.7 199.1 218.4 199.8 218.7 201.0 218.4 202.5 217.7 199.1Z" fill="#31b57b" stroke="#31b57b" stroke-width="1"/><path d="M290.4 84.5 295.4 90.9 296.4 91.2 297.4 90.5 297.4 99.5 296.4 99.3 295.4 98.4 293.4 95.0 290.4 87.2 287.9 91.8 285.4 98.4 285.4 93.8 290.4 84.5ZM282.3 130.8 282.1 131.8 281.1 132.1 281.5 130.7 282.3 129.9 282.3 130.8ZM278.6 136.8 278.1 142.8 277.4 145.9 275.7 149.8 274.4 156.5 273.4 158.3 271.4 157.6 269.4 157.8 269.6 151.6 273.1 154.8 273.6 154.8 274.7 147.8 277.4 143.8 277.6 138.5 278.4 137.8 278.6 136.8ZM188.4 151.4 191.4 152.5 193.4 161.8 194.4 175.6 195.5 205.8 197.4 221.8 199.4 226.9 200.4 227.8 202.4 227.7 207.4 237.5 208.4 238.9 211.4 239.9 212.4 240.9 213.4 243.6 214.2 259.8 215.4 312.8 213.4 247.7 212.4 244.9 211.4 244.0 208.4 244.1 207.4 243.1 202.4 233.2 200.4 232.6 197.4 227.4 195.2 211.8 193.4 180.6 191.4 170.9 188.4 165.1 185.4 177.3 180.4 184.6 174.4 203.2 172.4 204.8 169.4 206.0 169.4 194.7 172.4 191.9 174.4 188.4 176.4 181.5 180.4 170.8 182.4 169.7 184.4 165.5 188.4 151.4ZM297.4 187.6 297.4 199.5 295.4 207.7 293.4 212.3 292.4 213.7 290.4 215.3 284.4 242.7 279.4 255.0 274.4 276.4 273.4 277.1 270.4 271.5 265.6 290.8 263.8 303.8 262.4 310.9 261.7 312.8 259.6 312.8 261.4 309.5 262.4 306.4 264.9 290.8 269.4 268.9 270.4 266.8 273.4 271.9 274.4 271.2 279.4 249.5 284.4 235.6 286.4 224.1 290.4 206.1 292.4 203.6 294.6 198.8 297.4 187.6ZM266.4 190.8 266.4 191.4 266.4 190.8ZM266.1 192.8 265.4 195.9 264.4 195.8 263.8 195.3 265.4 193.8 265.4 192.8 266.4 191.8 266.1 192.8Z" fill="#3bbb75" stroke="#3bbb75" stroke-width="1"/><path d="M297.4 81.5 297.4 90.5 296.4 91.2 295.4 90.9 290.4 84.5 285.4 93.8 285.4 86.8 286.4 85.8 286.4 83.8 287.3 83.8 288.4 84.8 290.4 81.8 291.4 82.2 293.4 82.1 295.4 83.4 296.4 83.0 297.4 81.5ZM277.6 138.8 277.4 143.8 274.7 147.8 273.4 155.0 269.6 151.6 270.4 150.8 272.4 152.8 273.4 151.8 273.4 148.8 274.4 147.8 274.4 145.8 275.4 144.8 275.4 142.8 276.4 141.8 276.4 140.8 277.4 139.8 277.6 138.8ZM188.4 165.1 191.4 170.9 193.4 180.6 195.2 211.8 197.4 227.4 200.4 232.6 202.4 233.2 207.4 243.1 208.4 244.1 211.4 244.0 212.4 244.9 213.4 247.7 215.1 312.8 213.4 252.2 212.4 248.9 211.4 248.0 208.4 249.2 207.4 248.7 202.4 239.8 200.4 239.6 199.4 238.2 197.4 233.0 195.5 222.8 193.4 199.5 191.4 190.1 188.4 185.0 187.4 187.1 185.4 194.8 182.4 200.0 180.4 201.8 174.8 216.8 174.4 217.5 173.4 217.7 169.4 217.3 169.4 206.0 172.4 204.8 174.4 203.2 180.4 184.6 185.4 177.3 188.4 165.1ZM297.4 199.5 297.4 211.4 295.8 217.8 293.4 222.8 292.4 223.8 290.4 224.4 284.4 249.8 281.4 255.5 279.4 260.6 274.4 281.7 273.4 282.4 270.4 278.7 269.4 281.2 266.4 291.2 263.1 312.8 261.7 312.8 263.4 306.4 265.6 290.8 270.4 271.5 273.4 277.1 274.4 276.4 279.4 255.0 284.4 242.7 290.4 215.3 292.4 213.7 294.4 210.1 296.0 205.8 297.4 199.5Z" fill="#48c16e" stroke="#48c16e" stroke-width="1"/><path d="M291.4 78.8 297.4 78.8 297.4 81.5 296.4 83.0 295.4 83.4 293.4 82.1 291.4 82.2 290.4 81.8 289.4 83.0 289.4 80.8 290.4 79.8 290.4 78.9 291.4 78.8ZM188.4 185.0 191.4 190.1 193.4 199.5 195.5 222.8 197.4 233.0 199.4 238.2 200.4 239.6 202.4 239.8 207.4 248.7 208.4 249.2 211.4 248.0 212.4 248.9 213.4 252.2 214.9 312.8 213.4 256.8 211.4 253.9 208.4 254.8 207.4 254.5 202.4 246.4 200.4 246.6 199.4 245.7 198.4 243.8 196.4 236.5 193.4 215.6 191.4 209.4 189.4 207.9 188.4 206.1 187.4 208.1 185.4 215.1 182.4 218.2 180.4 219.0 175.4 230.9 174.4 231.8 169.4 228.5 169.4 217.3 173.4 217.7 174.4 217.5 174.8 216.8 180.4 201.8 182.4 200.0 185.4 194.8 187.4 187.1 188.4 185.0ZM297.4 211.4 297.4 223.5 296.3 227.8 295.4 230.4 293.4 233.4 292.4 233.9 290.4 233.5 284.4 257.8 282.4 259.6 281.4 261.3 279.4 266.9 277.4 277.8 274.4 288.8 273.4 289.6 270.4 286.1 268.4 289.6 266.4 298.1 264.1 312.8 263.1 312.8 266.4 291.2 268.4 284.1 270.4 278.7 273.4 282.4 274.4 281.7 279.4 260.6 281.4 255.5 284.4 249.8 290.4 224.4 292.4 223.8 294.0 221.8 295.4 218.9 297.4 211.4Z" fill="#56c667" stroke="#56c667" stroke-width="1"/><path d="M188.4 206.1 189.4 207.9 191.4 209.4 193.4 215.6 196.4 236.5 197.4 241.2 198.9 244.8 200.4 246.6 202.4 246.4 207.4 254.5 208.4 254.8 211.4 253.9 213.4 256.8 214.6 312.8 213.4 264.4 212.4 262.1 211.4 261.2 208.4 261.1 207.4 260.4 202.4 253.1 200.4 253.7 199.4 253.3 197.7 250.8 196.4 246.3 193.4 228.7 191.4 225.3 188.4 229.6 186.4 234.0 185.4 235.1 180.4 233.6 175.4 242.6 174.4 243.1 169.4 239.2 169.4 228.5 174.4 231.8 175.4 230.9 180.4 219.0 182.4 218.2 185.4 215.1 187.4 208.1 188.4 206.1ZM297.4 223.5 297.4 236.2 296.4 239.7 295.4 242.0 293.4 244.0 292.4 244.0 290.4 242.6 288.4 249.8 285.4 264.9 284.4 266.5 282.4 265.8 277.3 286.8 274.4 296.3 273.4 296.9 270.4 293.6 269.4 294.6 268.4 296.9 266.4 305.1 265.1 312.8 264.1 312.8 266.4 298.1 268.4 289.6 270.4 286.1 273.4 289.6 274.4 288.8 277.4 277.8 279.4 266.9 281.4 261.3 282.4 259.6 284.4 257.8 290.4 233.5 292.4 233.9 293.9 232.8 295.4 230.4 297.4 223.5Z" fill="#65cb5e" stroke="#65cb5e" stroke-width="1"/><path d="M191.4 225.3 193.4 228.7 196.4 246.3 197.7 250.8 199.4 253.3 200.4 253.7 202.4 253.1 207.4 260.4 208.4 261.1 211.4 261.2 212.4 262.1 213.4 264.4 214.4 312.8 213.4 273.3 212.7 270.8 211.4 268.4 208.4 267.3 207.4 266.4 202.4 259.7 199.4 260.8 197.4 259.5 196.4 256.7 193.4 241.9 191.4 238.9 186.4 247.8 185.4 248.5 180.4 245.7 175.4 253.7 174.4 254.1 169.4 249.9 169.4 239.2 174.4 243.1 175.4 242.6 180.4 233.6 185.4 235.1 186.4 234.0 188.4 229.6 191.4 225.3ZM297.4 236.2 297.4 249.0 296.4 251.8 295.4 253.5 293.4 254.6 290.4 251.7 288.8 257.8 286.4 273.4 285.4 277.3 284.4 278.5 282.4 278.6 279.4 287.6 277.4 295.8 274.4 303.7 273.4 304.2 270.4 301.1 269.4 302.0 268.4 304.1 266.5 312.8 265.1 312.8 266.4 305.1 268.4 296.9 269.4 294.6 270.4 293.6 273.4 296.9 274.4 296.3 277.3 286.8 282.4 265.8 284.4 266.5 285.4 264.9 288.4 249.8 290.4 242.6 292.4 244.0 293.4 244.0 295.4 242.0 297.4 236.2Z" fill="#75d054" stroke="#75d054" stroke-width="1"/><path d="M191.4 238.9 193.4 241.9 196.4 256.7 197.4 259.5 199.4 260.8 202.4 259.7 207.4 266.4 208.4 267.3 211.4 268.4 212.7 270.8 213.4 273.3 214.2 312.8 213.4 282.8 212.4 277.8 211.4 276.3 208.4 274.9 206.4 271.0 202.4 266.3 199.4 268.3 197.4 268.7 196.4 267.1 193.4 256.8 191.4 253.6 186.4 261.6 185.4 262.0 180.4 257.8 175.4 264.8 174.4 265.2 169.4 261.3 169.4 249.9 174.4 254.1 175.4 253.7 180.4 245.7 185.4 248.5 186.4 247.8 191.4 238.9ZM297.4 249.0 297.4 261.7 295.4 265.1 293.4 265.2 290.4 263.3 286.6 285.8 285.4 290.2 284.4 291.5 282.4 291.6 279.4 298.1 277.4 304.8 274.4 311.2 273.4 311.5 270.4 308.6 269.2 309.8 269.0 312.8 266.5 312.8 268.4 304.1 269.4 302.0 270.4 301.1 273.4 304.2 274.4 303.7 277.4 295.8 279.4 287.6 282.4 278.6 284.4 278.5 285.4 277.3 286.4 273.4 288.8 257.8 290.4 251.7 293.4 254.6 295.4 253.5 297.4 249.0Z" fill="#86d549" stroke="#86d549" stroke-width="1"/><path d="M191.4 253.6 193.4 256.8 196.4 267.1 197.4 268.7 199.4 268.3 202.4 266.3 206.4 271.0 208.4 274.9 211.4 276.3 212.4 277.8 213.4 282.8 213.9 312.8 213.4 294.9 212.4 290.8 211.4 288.8 208.4 288.1 207.4 287.2 202.4 279.1 197.4 280.4 196.4 279.2 194.4 273.8 191.4 268.4 186.4 275.6 185.4 275.8 180.4 270.5 175.4 276.8 174.4 277.5 169.4 273.9 169.4 261.3 174.4 265.2 175.4 264.8 180.4 257.8 185.4 262.0 186.4 261.6 191.4 253.6ZM297.4 261.7 297.4 275.2 295.4 278.2 290.4 279.2 286.8 297.8 285.4 303.1 284.4 304.4 282.4 304.7 279.4 308.7 279.0 312.8 269.0 312.8 269.2 309.7 270.4 308.6 273.4 311.5 274.4 311.2 277.4 304.7 279.4 298.1 282.4 291.6 284.4 291.5 285.4 290.2 286.6 285.8 290.4 263.3 293.4 265.2 295.4 265.1 297.4 261.7Z" fill="#98d83e" stroke="#98d83e" stroke-width="1"/><path d="M191.4 268.4 194.4 273.8 196.4 279.2 197.4 280.4 202.4 279.1 207.4 287.2 208.4 288.1 211.4 288.8 212.4 290.8 213.4 294.9 213.7 312.8 213.4 309.1 211.4 304.6 208.4 303.4 207.4 302.3 202.4 294.1 197.4 295.4 196.4 294.2 194.4 288.8 191.4 283.4 186.4 290.6 185.4 290.8 180.4 285.5 175.4 291.6 174.4 291.8 169.4 286.6 169.4 273.9 174.4 277.5 175.4 276.8 180.4 270.5 185.4 275.8 186.4 275.6 191.4 268.4ZM297.4 275.2 297.4 290.2 295.4 293.2 293.4 293.3 290.4 295.2 286.5 312.8 279.0 312.8 279.4 308.7 282.4 304.7 284.4 304.4 285.4 303.1 286.8 297.8 290.4 279.2 295.4 278.2 297.4 275.2Z" fill="#addc30" stroke="#addc30" stroke-width="1"/><path d="M191.4 283.4 194.4 288.8 196.4 294.2 197.4 295.4 202.4 294.1 207.4 302.3 208.4 303.4 211.4 304.6 213.4 309.1 213.4 312.8 203.5 312.8 203.3 310.8 202.4 309.1 200.4 309.8 197.4 312.2 196.0 310.8 191.4 299.6 186.4 305.6 185.4 305.8 180.4 300.5 175.4 306.8 174.4 307.3 169.4 304.5 169.4 286.6 174.4 291.8 175.4 291.6 180.4 285.5 185.4 290.8 186.4 290.6 191.4 283.4ZM297.4 290.2 297.4 305.2 295.4 308.2 293.4 308.3 291.8 309.8 291.5 312.8 286.5 312.8 290.4 295.2 293.4 293.3 295.4 293.2 297.4 290.2Z" fill="#c0df25" stroke="#c0df25" stroke-width="1"/><path d="M191.4 299.6 196.4 311.5 197.4 312.2 200.4 309.8 202.4 309.1 203.3 310.8 203.5 312.8 169.4 312.8 169.4 304.5 174.4 307.3 175.4 306.8 180.4 300.5 185.4 305.8 186.4 305.6 191.4 299.6ZM297.4 305.2 297.4 312.8 291.5 312.8 291.8 309.8 293.4 308.3 295.4 308.2 297.4 305.2Z" fill="#d2e21b" stroke="#d2e21b" stroke-width="1"/></g><g clip-path="url(#ca)" fill="#fff"><path d="M171,79 175.2,79 174.6,82.2 172,83.2 171,83Z"/><path d="M193.4,79 193.4,79.75 197.5,109 200.4,130 206.4,118.2 208.9,136.2 210,140 213,148.7 213.6,164.8 215.5,198.2 217.3,200.7 220,206.2 222.3,211.8 223,211.8 225.5,211.1 226.8,221 228.6,235.3 231.7,237.1 238.5,250.8 241.6,244 244.7,251.4 247.8,251.4 251.5,231.6 254.4,240.9 255.9,218.6 257.7,207.4 259.6,200 260.4,197.4 263.5,199.6 266,195 267.8,190 269.5,153.5 272.5,156 274,150 276.5,143.7 283.8,129 285.5,88 286.5,87.3 288.5,87.8 290,82 291,79.75 291,79Z"/></g><g clip-path="url(#cb)"><path d="M383.9 268.6 384.9 269.8 383.9 272.4 382.9 270.8 383.9 268.6Z" fill="#450559" stroke="#450559" stroke-width="1"/><path d="M383.9 266.9 384.9 267.1 386.0 270.8 385.9 272.2 384.9 273.0 383.9 274.8 381.9 273.2 381.6 271.8 383.9 266.9ZM383.8 268.8 382.9 270.8 383.9 272.4 384.9 269.8 383.8 268.8Z" fill="#471063" stroke="#471063" stroke-width="1"/><path d="M383.9 265.1 384.9 265.1 385.6 266.8 387.1 271.8 387.2 273.8 386.9 275.3 384.9 275.3 383.9 277.1 381.4 275.8 380.3 273.8 380.6 271.8 383.9 265.1ZM383.4 267.8 381.6 271.8 381.9 273.2 383.9 274.8 384.9 273.0 385.9 272.2 386.0 270.8 384.9 267.1 383.9 266.9 383.4 267.8Z" fill="#481a6c" stroke="#481a6c" stroke-width="1"/><path d="M383.9 263.3 384.9 263.1 386.5 266.8 388.2 272.8 388.7 276.8 388.2 277.8 384.9 277.7 383.9 279.4 379.9 277.3 379.1 275.8 378.9 273.8 381.4 267.8 383.9 263.3ZM383.5 265.8 380.6 271.8 380.3 273.8 381.4 275.8 383.9 277.1 384.9 275.3 386.9 275.3 387.2 272.8 384.9 265.1 383.9 265.1 383.5 265.8Z" fill="#482374" stroke="#482374" stroke-width="1"/><path d="M383.9 261.6 384.9 261.1 387.7 266.8 388.9 271.1 389.6 277.8 388.9 280.2 384.9 280.0 383.9 281.8 379.9 280.0 378.1 276.8 377.4 273.8 377.9 271.3 383.9 261.6ZM383.6 263.8 381.4 267.8 378.9 273.8 379.1 275.8 379.9 277.3 383.9 279.4 384.9 277.7 388.2 277.8 388.7 276.8 388.2 272.8 386.5 266.8 384.9 263.1 383.6 263.8Z" fill="#472d7b" stroke="#472d7b" stroke-width="1"/><path d="M384.9 259.0 388.9 265.2 390.2 273.8 390.3 278.8 388.9 282.6 384.9 282.3 383.9 283.9 379.9 282.6 378.9 281.2 375.8 273.8 376.9 269.3 379.9 265.9 383.9 259.8 384.9 259.0ZM383.8 261.8 377.9 271.3 377.4 273.8 378.1 276.8 379.9 280.0 383.9 281.8 384.9 280.0 388.9 280.2 389.6 277.8 388.9 271.1 387.7 266.8 384.9 261.1 383.8 261.8Z" fill="#453581" stroke="#453581" stroke-width="1"/><path d="M384.9 257.0 386.9 258.9 387.9 259.5 388.9 259.3 389.1 259.8 390.9 270.8 390.9 278.8 389.9 283.1 388.9 284.9 384.9 284.2 383.9 285.7 381.9 285.7 379.9 285.2 378.9 284.0 374.9 274.4 374.7 271.8 375.2 268.8 376.6 265.8 379.9 263.3 384.9 257.0ZM384.0 259.8 379.9 265.9 376.9 269.3 375.8 273.8 378.9 281.2 379.9 282.6 383.9 283.9 384.9 282.3 388.9 282.6 390.3 278.8 390.2 273.8 388.9 265.2 384.9 259.0 384.0 259.8Z" fill="#433e85" stroke="#433e85" stroke-width="1"/><path d="M384.9 255.2 386.9 256.5 388.9 256.4 391.2 259.8 392.1 270.8 391.5 278.8 389.9 285.6 388.9 287.3 384.9 286.1 383.9 287.5 379.9 287.6 378.5 285.8 374.9 277.6 373.9 271.8 374.6 265.8 374.9 263.6 375.9 261.8 376.9 261.2 378.9 261.3 379.9 260.9 384.9 255.2ZM384.2 257.8 379.9 263.3 376.6 265.8 375.2 268.8 374.7 271.8 374.9 274.4 378.9 284.0 379.9 285.2 381.9 285.7 383.9 285.7 384.9 284.2 388.9 284.9 389.9 283.1 390.9 278.8 390.8 269.8 388.9 259.3 387.9 259.5 384.9 257.0 384.2 257.8Z" fill="#404688" stroke="#404688" stroke-width="1"/><path d="M392.9 242.0 393.0 270.8 390.6 285.8 389.9 288.2 388.9 289.6 384.9 288.0 383.9 289.3 379.9 289.8 378.8 288.8 375.7 282.8 373.4 273.8 373.4 267.8 374.6 258.8 374.9 257.7 378.9 259.3 379.9 259.1 384.9 253.8 386.9 254.5 388.9 254.6 389.9 255.6 390.9 255.4 392.5 251.8 392.9 242.0ZM384.5 255.8 379.9 260.9 378.9 261.3 376.9 261.2 375.9 261.8 374.9 263.6 374.4 266.8 373.9 271.8 374.9 277.6 378.5 285.8 379.9 287.6 383.9 287.5 384.9 286.1 388.9 287.3 389.9 285.6 391.5 278.8 392.1 270.8 391.2 259.8 388.9 256.4 386.9 256.5 384.9 255.2 384.5 255.8Z" fill="#3d4e8a" stroke="#3d4e8a" stroke-width="1"/><path d="M418.9 149.7 418.9 150.8 418.9 149.7ZM414.9 170.5 414.9 172.8 413.9 176.3 413.7 171.8 413.9 170.8 414.9 170.5ZM408.9 194.7 409.4 196.8 408.9 199.3 408.9 194.7ZM392.9 239.3 393.9 239.0 394.4 239.8 394.9 248.8 393.5 271.8 390.9 287.5 389.9 290.7 388.9 292.0 384.9 289.8 383.9 291.1 379.9 292.1 378.5 290.8 374.9 283.9 372.7 274.8 372.6 267.8 373.8 256.8 374.9 255.5 378.9 257.7 379.9 257.5 383.9 253.9 384.9 252.5 386.9 253.1 388.9 252.7 389.9 253.2 390.9 251.9 391.5 249.8 392.9 239.3ZM392.9 242.8 392.5 251.8 390.9 255.4 389.9 255.6 388.9 254.6 386.9 254.5 384.9 253.8 379.9 259.1 378.9 259.3 374.9 257.7 374.6 258.8 373.4 267.8 373.4 273.8 375.7 282.8 378.8 288.8 379.9 289.8 383.9 289.3 384.9 288.0 388.9 289.6 389.9 288.2 390.6 285.8 393.0 270.8 392.9 242.8Z" fill="#39558c" stroke="#39558c" stroke-width="1"/><path d="M418.9 148.1 420.0 150.8 420.2 152.8 418.9 156.5 418.5 150.8 418.9 148.1ZM418.9 149.8 418.9 150.8 418.9 149.8ZM414.9 168.5 415.9 169.0 416.2 170.8 413.9 181.0 413.3 172.8 413.9 169.2 414.9 168.5ZM413.9 170.8 413.9 176.3 415.1 171.8 414.9 170.5 413.9 170.8ZM408.9 193.3 410.1 195.8 410.5 197.8 408.9 205.9 408.3 195.8 408.9 193.3ZM408.9 194.8 408.9 199.3 409.4 196.8 408.9 194.8ZM402.9 223.7 403.9 224.8 402.9 232.7 401.9 227.8 402.9 223.7ZM393.9 236.5 394.9 236.9 395.8 238.8 396.4 247.8 395.1 254.8 393.1 277.8 390.9 290.3 389.9 293.3 388.9 294.4 384.9 291.8 383.9 292.9 379.9 294.3 378.2 292.8 374.9 287.0 371.9 275.3 371.7 268.8 372.6 257.8 373.9 253.7 374.9 253.3 378.9 256.1 379.9 256.1 383.9 252.8 384.9 251.2 386.9 251.6 389.9 250.8 390.9 248.3 392.9 237.1 393.9 236.5ZM392.8 239.8 391.5 249.8 390.9 251.9 389.9 253.2 388.9 252.7 386.9 253.1 384.9 252.5 383.9 253.9 379.9 257.5 378.9 257.7 374.9 255.5 373.8 256.8 372.6 267.8 372.7 274.8 374.9 283.9 378.5 290.8 379.9 292.1 383.9 291.1 384.9 289.8 388.9 292.0 389.9 290.7 390.9 287.5 393.5 271.8 394.9 248.8 394.4 239.8 393.9 239.0 392.9 239.3 392.8 239.8Z" fill="#365d8d" stroke="#365d8d" stroke-width="1"/><path d="M418.9 146.4 420.5 149.8 421.3 153.8 418.9 162.3 418.3 158.8 418.0 149.8 418.9 146.4ZM418.7 148.8 418.9 156.5 420.0 153.8 420.2 151.8 419.3 148.8 418.9 148.1 418.7 148.8ZM414.9 166.5 415.9 166.0 416.9 166.2 417.4 168.8 413.9 185.8 413.0 172.8 413.9 167.6 414.9 166.5ZM414.6 168.8 413.9 169.2 413.3 172.8 413.9 181.0 416.2 170.8 415.9 169.0 414.6 168.8ZM408.9 191.8 410.6 194.8 411.3 197.8 408.9 212.1 408.0 206.8 407.8 195.7 408.0 193.8 408.9 191.8ZM408.7 193.8 408.3 196.8 408.9 205.9 410.5 197.8 409.7 194.8 408.9 193.3 408.7 193.8ZM403.9 220.6 404.9 222.8 402.9 240.1 401.9 239.6 401.4 237.8 400.6 227.8 402.9 221.2 403.9 220.6ZM402.9 223.8 401.9 227.8 402.9 232.7 403.9 224.8 402.9 223.8ZM394.9 233.7 395.9 234.1 396.8 237.8 397.9 249.8 395.9 255.0 393.1 281.8 390.9 293.1 388.9 297.3 384.9 293.7 383.9 294.7 379.9 296.5 378.7 295.8 374.9 290.2 371.3 276.8 370.8 270.8 371.6 257.8 373.9 251.0 374.9 251.1 378.9 254.5 379.9 254.6 383.9 251.6 384.9 249.9 386.9 250.1 389.9 248.4 392.9 234.9 393.9 233.9 394.9 233.7ZM393.5 236.8 392.9 237.1 390.9 248.3 389.9 250.8 386.9 251.6 384.9 251.2 383.9 252.8 379.9 256.1 378.9 256.1 374.9 253.3 373.9 253.7 372.6 257.8 371.7 268.8 371.9 275.3 374.9 287.0 378.2 292.8 379.9 294.3 383.9 292.9 384.9 291.8 388.9 294.4 389.9 293.3 390.9 290.3 393.1 277.8 395.1 254.8 396.4 247.8 395.5 237.8 394.9 236.9 393.5 236.8Z" fill="#32648e" stroke="#32648e" stroke-width="1"/><path d="M423.9 141.2 424.9 141.8 423.9 147.5 423.2 142.8 423.9 141.2ZM418.9 144.8 421.6 149.8 422.3 152.8 422.3 155.8 417.9 171.3 413.9 190.6 413.2 187.8 412.6 172.8 413.9 166.1 416.0 162.8 416.8 160.8 417.8 147.8 418.9 144.8ZM418.8 146.8 418.0 150.8 418.3 158.8 418.9 162.3 421.3 153.8 420.5 149.8 419.1 146.8 418.9 146.4 418.8 146.8ZM414.7 166.8 413.9 167.6 413.0 172.8 413.9 185.8 417.4 168.8 416.9 166.2 415.9 166.0 414.7 166.8ZM408.9 190.4 411.5 193.8 412.3 198.8 408.9 215.0 406.2 211.8 407.5 193.8 408.9 190.4ZM408.4 192.8 407.8 194.8 407.9 204.8 408.9 212.1 411.3 197.8 409.6 192.8 408.9 191.8 408.4 192.8ZM405.9 214.2 405.9 221.8 404.4 231.8 402.9 246.5 399.6 251.8 397.9 253.1 396.6 256.8 392.9 286.5 390.9 295.9 389.9 299.0 388.9 300.4 384.9 295.6 379.9 298.6 378.9 298.3 374.9 293.2 370.8 278.8 369.9 271.8 369.9 261.8 370.7 255.8 373.9 248.5 374.9 248.9 378.9 252.9 379.9 253.1 383.9 250.4 384.9 248.7 386.9 248.6 389.4 246.8 390.9 242.5 392.9 232.7 395.9 229.9 397.1 232.8 397.9 236.5 398.9 232.8 399.2 226.8 400.9 224.5 402.9 218.7 405.9 214.2ZM403.7 220.8 402.9 221.2 400.6 227.8 401.4 237.8 401.9 239.6 402.9 240.1 404.9 222.8 404.1 220.8 403.7 220.8ZM394.7 233.8 392.9 234.9 389.9 248.4 386.9 250.1 384.9 249.9 383.9 251.6 379.9 254.6 378.9 254.5 374.9 251.1 373.9 251.0 371.6 257.8 370.8 270.8 371.3 276.8 374.9 290.2 378.7 295.8 379.9 296.5 383.9 294.7 384.9 293.7 388.9 297.3 391.0 292.8 393.2 280.8 395.9 255.0 397.9 249.8 396.6 236.8 395.9 234.1 394.7 233.8Z" fill="#2f6b8e" stroke="#2f6b8e" stroke-width="1"/><path d="M424.9 139.3 425.9 139.5 425.9 140.8 422.9 159.0 419.1 172.8 417.9 175.3 410.0 214.8 408.9 217.6 407.9 217.8 406.9 220.4 405.1 230.8 402.9 249.3 400.9 253.9 397.9 256.3 396.9 259.6 392.9 290.0 390.9 299.1 389.9 302.3 388.9 303.5 384.9 297.7 379.9 300.7 378.9 300.5 374.9 295.9 371.3 284.8 369.0 273.8 368.2 258.8 368.9 254.3 370.4 250.8 373.9 245.9 378.9 251.4 379.9 251.6 383.9 249.2 384.9 247.4 387.9 246.5 390.2 242.8 392.9 230.5 395.9 225.7 396.9 226.0 397.9 225.4 400.9 222.1 405.3 208.8 407.4 191.8 408.9 188.9 410.9 190.0 411.9 189.0 412.5 180.8 412.2 172.8 413.9 164.5 416.2 158.8 417.9 145.5 418.9 143.1 420.9 145.0 421.9 144.6 422.4 141.8 424.9 139.3ZM423.5 141.8 423.3 143.8 423.9 147.5 424.9 141.7 423.9 141.2 423.5 141.8ZM418.5 145.8 417.7 148.8 416.8 160.8 416.0 162.8 413.9 166.1 412.6 172.8 413.2 187.8 413.9 190.6 417.9 171.3 422.3 155.8 422.3 152.8 421.2 148.8 418.9 144.8 418.5 145.8ZM408.7 190.8 407.5 193.8 406.2 211.8 408.9 215.0 412.3 198.8 411.5 193.8 409.3 190.8 408.9 190.4 408.7 190.8ZM405.8 214.8 402.9 218.7 400.9 224.5 399.2 226.8 398.9 232.8 397.9 236.5 397.1 232.8 395.9 229.9 392.9 232.7 390.9 242.5 389.4 246.8 386.9 248.6 384.9 248.7 383.9 250.4 379.9 253.1 378.9 252.9 374.9 248.9 373.9 248.5 370.7 255.8 369.9 261.8 369.9 271.8 370.8 278.8 374.9 293.2 378.9 298.3 379.9 298.6 384.9 295.6 388.9 300.4 389.9 299.0 390.9 295.9 392.9 286.5 396.6 256.8 397.9 253.1 399.6 251.8 402.9 246.5 404.4 231.8 405.9 221.8 405.8 214.8ZM354.9 220.8 355.3 230.8 354.9 232.7 354.9 220.8Z" fill="#2c728e" stroke="#2c728e" stroke-width="1"/><path d="M428.9 119.3 428.9 122.5 428.9 119.3ZM425.9 137.3 426.9 137.5 427.0 138.8 423.0 163.8 419.8 174.8 417.9 179.2 410.8 214.8 408.9 220.2 406.9 223.8 402.9 252.1 400.9 256.8 397.9 259.5 397.3 261.8 392.9 293.4 390.9 302.7 389.9 305.6 388.9 306.6 384.9 300.6 379.9 303.3 378.9 303.0 374.9 298.6 373.9 295.1 371.6 289.8 367.4 273.8 366.3 265.8 366.3 255.8 368.9 241.7 369.9 244.4 370.9 245.1 373.9 243.3 378.9 249.8 379.9 250.2 383.9 248.1 384.9 246.2 386.9 245.6 389.9 241.8 392.9 228.2 395.9 222.2 397.9 222.6 398.9 221.8 400.9 219.8 401.9 217.4 405.3 204.8 406.9 191.3 408.6 187.8 410.9 187.2 411.4 185.8 412.1 179.8 412.0 171.8 413.7 163.8 415.7 157.7 417.9 143.4 418.9 141.5 419.9 142.0 420.9 141.8 421.9 140.2 422.9 140.2 425.9 137.3ZM424.4 139.8 422.4 141.8 421.9 144.6 420.9 145.0 418.9 143.1 417.9 145.5 416.2 158.8 413.9 164.5 412.2 172.8 412.5 180.8 411.9 189.0 410.9 190.0 408.9 188.9 407.4 191.8 405.3 208.7 400.9 222.1 397.9 225.4 396.9 226.0 395.9 225.7 392.9 230.5 390.2 242.8 387.9 246.5 384.9 247.4 383.9 249.2 379.9 251.6 378.9 251.4 373.9 245.9 370.4 250.8 368.9 254.3 368.2 258.8 369.0 273.8 371.3 284.8 374.9 295.9 378.9 300.5 379.9 300.7 384.9 297.7 388.9 303.5 389.9 302.3 390.9 299.1 392.9 290.0 396.9 259.6 397.9 256.3 400.9 253.9 402.9 249.3 405.1 230.8 406.9 220.4 407.9 217.8 408.9 217.6 410.0 214.8 417.9 175.3 419.1 172.8 422.9 159.0 425.9 140.8 425.9 139.5 424.9 139.3 424.4 139.8ZM354.9 198.8 355.6 202.8 357.0 232.8 355.9 240.0 354.9 241.0 354.1 228.8 354.3 201.8 354.9 198.8ZM354.9 221.8 354.9 232.7 355.3 230.8 354.9 221.8Z" fill="#29798e" stroke="#29798e" stroke-width="1"/><path d="M428.9 117.9 430.0 121.8 428.9 130.4 428.2 120.8 428.9 117.9ZM428.8 119.8 428.9 122.5 428.8 119.8ZM427.9 133.7 428.1 137.8 423.9 164.8 420.9 175.8 417.9 183.2 411.4 215.8 409.9 220.3 406.9 227.0 402.9 254.8 400.9 259.7 397.9 262.8 395.9 273.2 392.9 297.0 390.9 306.3 389.9 308.9 388.9 309.7 384.9 303.7 379.9 306.1 378.9 305.8 374.9 301.3 373.9 298.0 370.9 291.6 366.4 274.8 364.0 262.8 364.3 252.8 366.0 240.8 366.9 237.8 369.9 236.2 370.7 236.8 371.6 240.8 372.9 241.2 373.9 240.8 378.9 248.2 379.9 248.7 381.9 247.9 383.9 246.9 384.9 244.9 386.9 244.0 389.9 239.9 391.7 229.5 391.9 229.8 392.6 229.0 389.9 241.8 386.9 245.6 384.9 246.2 383.9 248.1 381.9 249.2 379.9 250.2 378.9 249.8 373.9 243.3 370.9 245.1 369.9 244.4 368.9 241.7 366.2 256.8 366.3 265.8 367.4 273.8 371.6 289.8 373.9 295.1 374.9 298.6 378.9 303.0 379.9 303.3 384.9 300.6 388.9 306.6 389.9 305.6 392.9 293.4 397.3 261.8 397.9 259.5 400.9 256.8 402.9 252.1 406.9 223.8 408.9 220.2 410.8 214.8 417.9 179.2 419.8 174.8 422.9 164.4 427.0 138.8 426.9 137.5 425.9 137.3 422.9 140.2 421.9 140.2 420.9 141.8 419.9 142.0 418.9 141.5 417.9 143.4 415.7 157.8 413.7 163.8 412.0 171.8 412.1 179.8 411.6 184.8 410.9 187.2 409.9 187.7 408.9 187.5 406.9 191.3 405.3 204.8 401.9 217.4 400.9 219.8 398.9 221.8 397.9 222.6 395.9 222.2 392.9 228.2 392.9 226.0 395.9 220.0 397.9 220.4 398.9 219.6 400.9 217.4 401.9 215.0 404.7 204.8 406.9 189.1 407.9 187.0 408.9 186.0 410.0 185.8 411.0 183.8 411.7 178.8 411.8 170.8 413.2 163.8 415.6 155.8 417.9 141.3 418.9 139.8 419.9 139.8 420.9 138.9 422.9 139.0 426.9 134.2 427.9 133.7ZM354.9 195.2 356.7 202.8 358.4 232.8 357.8 243.8 356.9 248.3 355.9 250.1 354.9 249.3 353.5 228.8 353.3 199.8 353.9 197.0 354.9 195.2ZM354.5 199.8 354.1 228.8 354.9 241.0 355.9 240.0 357.0 232.8 355.6 201.8 354.9 198.8 354.5 199.8Z" fill="#27808e" stroke="#27808e" stroke-width="1"/><path d="M428.9 116.6 430.7 121.8 430.3 126.8 427.4 148.8 424.6 165.8 421.9 176.8 417.9 187.1 411.9 216.8 406.9 230.4 405.3 243.8 402.9 257.5 400.9 262.6 397.9 265.8 395.9 277.0 392.9 301.1 390.9 309.8 389.9 312.2 388.9 312.8 384.9 306.7 379.9 309.0 378.9 308.6 374.9 303.9 373.9 300.8 371.9 297.7 370.3 293.8 367.3 283.8 362.9 265.2 361.8 262.8 362.5 247.8 363.6 236.8 364.9 233.5 365.9 233.4 367.9 234.4 370.9 232.4 371.9 232.4 372.8 233.8 373.3 237.8 378.9 246.6 379.9 247.2 383.9 245.7 384.9 243.7 386.3 242.8 387.1 240.8 387.9 239.8 388.9 239.7 389.6 237.8 390.5 229.8 390.9 228.6 391.7 229.5 390.2 238.7 388.9 241.6 387.9 242.2 386.9 244.0 384.9 244.9 383.9 246.9 379.9 248.7 378.5 247.8 373.9 240.8 372.9 241.2 371.6 240.8 370.7 236.8 369.9 236.2 366.9 237.8 365.9 241.3 364.6 249.8 363.9 261.8 365.4 270.8 367.9 281.0 370.9 291.7 373.9 298.0 374.9 301.3 378.9 305.8 379.9 306.1 384.9 303.7 388.9 309.7 389.9 308.9 390.9 306.3 392.9 297.0 395.9 273.2 397.6 263.8 398.6 261.8 400.9 259.7 402.9 254.8 406.9 227.0 409.9 220.3 411.4 215.8 417.9 183.2 420.5 176.8 422.9 168.9 425.2 156.8 428.1 136.8 427.9 133.7 426.9 134.2 422.9 139.0 420.9 138.9 419.9 139.8 418.9 139.8 417.9 141.3 415.6 155.8 413.2 163.8 411.8 170.8 411.7 178.8 411.0 183.8 410.0 185.8 408.9 186.0 407.9 187.0 406.9 189.1 404.7 204.8 401.9 215.0 400.9 217.4 398.9 219.6 397.9 220.4 395.9 220.0 392.9 226.0 392.9 223.8 393.9 222.8 393.9 221.8 395.9 217.7 397.9 218.2 398.9 217.4 400.9 215.1 401.9 212.6 404.4 203.8 406.9 186.9 407.9 185.2 409.9 183.9 410.9 181.4 411.6 168.8 415.3 154.8 417.9 139.3 418.9 138.2 420.9 137.5 422.9 137.8 424.0 136.8 426.3 132.8 427.4 128.8 427.8 120.7 428.9 116.6ZM428.6 118.8 428.3 121.8 428.9 130.4 430.0 121.8 429.3 118.8 428.9 117.9 428.6 118.8ZM354.9 191.5 357.8 202.8 360.5 239.8 360.4 249.8 358.3 254.8 356.9 255.6 354.9 253.3 354.5 250.8 352.9 228.8 352.3 197.8 353.2 193.8 354.9 191.5ZM354.5 195.8 353.3 199.8 353.5 228.8 354.9 249.3 355.9 250.1 356.9 248.3 357.9 243.3 358.4 231.8 356.7 202.8 355.1 195.8 354.9 195.2 354.5 195.8Z" fill="#24868e" stroke="#24868e" stroke-width="1"/><path d="M311.9 108.3 313.8 113.8 312.9 117.7 311.9 118.5 311.4 112.8 311.9 108.3ZM428.9 115.3 430.2 117.8 431.1 120.8 431.1 126.8 429.9 139.4 425.5 165.8 422.9 178.0 417.9 191.0 411.9 219.7 407.5 231.8 402.9 260.2 400.9 265.4 397.9 269.0 392.1 308.8 391.1 312.8 389.0 312.8 389.9 312.2 390.9 309.8 392.9 301.1 395.9 277.0 397.9 265.8 400.9 262.6 402.9 257.5 405.3 243.8 406.9 230.4 411.9 216.8 417.9 187.1 421.6 177.8 423.9 169.0 427.4 148.8 430.7 122.8 430.3 119.8 428.9 116.6 427.8 120.8 427.4 128.8 426.3 132.8 424.0 136.8 422.9 137.8 420.9 137.5 418.9 138.2 417.9 139.3 415.3 154.8 411.6 168.8 410.9 181.4 409.9 183.9 407.9 185.2 406.9 186.9 404.4 203.8 401.9 212.6 400.9 215.1 398.9 217.4 397.9 218.2 395.9 217.7 393.9 221.8 393.9 216.8 395.9 214.1 397.9 216.0 400.9 212.8 401.9 210.7 404.4 201.8 406.9 184.7 409.9 182.1 410.6 179.8 410.8 171.8 411.5 166.8 414.9 154.7 417.9 137.2 419.9 136.2 422.9 136.7 424.5 134.8 426.5 129.8 427.2 125.8 427.4 120.8 428.9 115.3ZM348.9 161.8 349.9 163.8 348.9 170.6 347.0 168.8 346.3 166.8 346.4 165.8 348.9 161.8ZM353.9 187.7 354.9 187.9 355.7 189.8 358.8 200.8 359.9 216.7 361.9 232.4 362.9 228.7 363.9 228.3 364.9 228.6 367.9 231.3 368.9 231.1 371.9 227.2 371.9 231.8 372.9 232.8 372.9 234.3 371.9 232.4 370.9 232.4 367.9 234.4 365.9 233.4 364.9 233.5 363.6 236.8 362.9 242.4 361.8 262.8 362.9 265.2 367.9 286.1 371.0 295.8 375.9 305.2 378.9 308.6 379.9 309.0 384.9 306.7 388.9 312.8 384.1 312.8 383.8 310.8 382.9 310.6 379.9 311.8 378.9 311.4 374.9 306.6 373.9 303.7 370.9 299.1 367.9 291.3 362.9 271.3 358.9 261.7 356.9 260.1 354.9 256.5 353.7 248.8 352.3 229.8 351.2 198.8 351.9 190.5 352.9 188.2 353.9 187.7ZM354.6 191.8 353.2 193.8 352.3 197.8 352.9 228.8 354.5 250.8 354.9 253.3 356.9 255.6 358.3 254.8 360.4 249.8 360.5 239.8 357.8 202.8 355.9 194.4 354.9 191.5 354.6 191.8ZM389.9 226.8 390.9 227.8 390.9 228.6 390.1 231.8 389.4 238.8 388.9 239.7 387.9 239.8 387.1 240.8 386.3 242.8 384.9 243.7 383.9 245.7 379.9 247.2 378.3 245.8 373.2 237.0 373.9 237.8 374.9 236.8 375.1 235.5 375.1 237.8 378.9 244.6 379.9 245.6 383.9 244.6 386.9 237.8 388.9 237.1 389.0 228.8 389.9 227.8 389.9 226.8Z" fill="#228d8d" stroke="#228d8d" stroke-width="1"/><path d="M311.9 95.8 313.9 97.8 315.9 98.5 316.9 99.9 318.0 103.8 318.6 108.8 318.2 117.8 313.9 131.9 312.9 134.5 311.9 135.4 309.8 120.8 309.7 111.8 311.9 95.8ZM311.8 108.8 311.4 112.8 311.9 118.5 312.9 117.7 313.8 113.8 311.8 108.8ZM428.9 114.1 431.4 118.8 432.0 124.8 430.7 142.8 426.7 164.8 422.9 182.3 417.9 194.7 411.9 222.6 408.1 232.8 402.9 263.0 400.9 268.3 397.9 272.2 395.9 284.7 392.9 309.6 392.1 312.8 391.1 312.8 392.9 305.4 395.9 280.8 397.9 269.0 400.9 265.4 402.9 260.2 407.5 231.8 411.9 219.7 417.9 191.0 422.7 178.8 425.1 167.8 430.0 138.8 431.4 122.8 430.6 118.8 428.9 115.3 427.4 120.8 427.2 125.8 426.5 129.8 424.5 134.8 422.9 136.7 419.9 136.2 417.9 137.2 414.9 154.8 411.5 166.8 410.8 171.8 410.6 179.8 409.9 182.1 406.9 184.7 404.4 201.8 401.9 210.7 400.9 212.8 397.9 216.0 395.9 214.1 394.9 215.3 394.9 209.8 395.9 210.3 397.9 213.8 400.9 210.9 401.9 209.0 404.1 200.8 405.6 188.8 406.8 182.8 407.9 181.7 408.9 181.7 410.3 178.8 411.1 165.8 414.7 153.8 417.7 135.8 417.9 135.1 419.5 134.8 420.9 134.7 422.9 135.5 423.9 134.7 426.1 128.8 426.8 121.8 428.9 114.1ZM342.9 137.4 343.9 137.1 346.9 150.3 348.0 152.8 350.9 156.0 350.9 160.8 351.9 161.8 351.9 169.3 350.8 177.8 350.9 179.8 354.9 184.2 358.9 193.0 358.9 194.8 359.4 195.2 359.9 198.6 360.2 205.8 361.9 221.3 362.9 220.8 367.9 228.3 368.9 228.4 370.9 224.5 370.9 225.8 371.9 226.8 368.9 231.1 367.9 231.3 364.9 228.6 363.9 228.3 362.9 228.7 361.9 232.4 359.9 216.7 358.7 199.8 354.9 187.9 353.8 187.8 352.6 188.8 351.7 191.8 351.2 198.8 352.3 229.8 353.7 248.8 354.9 256.5 356.9 260.1 358.9 261.7 362.9 271.3 367.9 291.3 371.8 300.8 373.9 303.7 374.9 306.6 378.9 311.4 379.9 311.8 382.9 310.6 383.8 310.8 384.1 312.8 376.5 312.8 373.9 306.5 371.0 302.8 367.9 295.9 362.9 277.4 354.9 259.6 353.1 248.8 352.3 237.8 349.8 187.8 348.9 185.3 345.9 191.1 344.9 191.2 343.9 190.6 341.6 175.8 339.3 148.8 340.9 139.2 341.9 137.9 342.9 137.4ZM348.1 162.8 346.4 165.8 346.3 166.8 347.0 168.8 348.9 170.6 349.9 163.8 348.9 161.8 348.1 162.8ZM389.0 228.8 388.9 237.1 386.9 237.8 383.9 244.6 379.9 245.6 378.9 244.6 375.1 237.8 375.1 235.5 375.9 234.8 375.9 233.8 376.9 232.8 376.9 231.8 377.9 232.8 378.9 232.8 378.9 233.8 379.5 234.4 379.5 240.8 379.9 241.6 381.8 243.8 382.9 243.7 383.9 243.4 384.8 239.7 386.9 237.8 386.9 235.8 387.9 234.8 387.9 231.8 388.9 230.8 389.0 228.8Z" fill="#20938c" stroke="#20938c" stroke-width="1"/><path d="M312.9 78.8 314.9 78.8 315.9 79.8 316.9 79.8 317.9 78.8 321.9 78.8 322.9 79.8 323.9 78.8 327.9 78.8 326.4 93.8 325.0 123.8 323.9 126.1 318.9 127.9 313.9 146.8 311.9 152.2 309.7 140.8 307.9 127.0 307.9 109.8 310.0 93.8 312.4 81.8 312.4 78.8 312.9 78.8ZM311.7 96.8 309.7 111.8 309.8 120.8 311.9 135.4 312.9 134.5 313.9 131.9 318.2 117.8 318.6 108.8 317.9 103.1 316.8 99.8 315.9 98.5 313.9 97.8 311.9 95.8 311.7 96.8ZM428.9 112.8 431.6 115.8 432.6 118.8 432.3 135.8 431.2 149.8 428.9 158.2 426.6 170.8 422.9 186.5 417.9 198.4 411.9 225.5 408.7 233.8 402.9 265.7 400.9 271.2 397.9 275.5 395.9 288.5 393.1 312.8 392.1 312.8 392.9 309.6 395.9 284.7 397.9 272.2 400.9 268.3 402.9 263.0 407.9 233.6 411.9 222.6 417.9 194.7 422.9 182.3 426.5 165.8 430.7 142.8 432.1 122.8 431.1 117.8 428.9 114.1 426.8 121.8 426.1 128.8 423.9 134.7 422.9 135.5 420.9 134.7 417.9 135.1 416.6 140.8 414.4 154.8 411.9 162.1 411.9 159.8 412.9 158.8 412.9 157.4 414.5 152.8 416.2 139.8 417.6 133.8 417.9 133.0 420.9 133.4 422.9 134.3 423.9 133.6 425.6 128.8 426.5 120.8 428.9 112.8ZM340.9 124.2 343.9 124.5 344.3 125.8 345.6 130.8 347.2 141.8 348.9 145.8 349.9 145.3 349.9 151.8 350.9 152.8 350.9 156.0 347.9 152.6 345.9 147.0 343.9 137.1 341.9 137.9 340.9 139.2 339.6 145.8 339.4 149.8 341.7 176.8 343.6 189.8 343.9 190.6 344.9 191.2 345.9 191.1 348.9 185.3 349.8 187.8 352.3 237.8 353.1 248.8 354.9 259.6 362.9 277.4 367.9 295.9 371.0 302.8 373.9 306.5 376.5 312.8 373.8 312.8 373.7 309.8 370.9 306.2 367.9 299.9 362.9 283.5 361.9 281.9 359.9 275.6 357.9 271.6 354.9 262.8 352.5 247.8 348.9 199.7 346.9 200.3 345.9 199.9 343.9 197.5 340.9 188.3 338.9 184.7 336.2 181.8 334.7 141.8 336.0 135.8 340.9 124.2ZM411.2 164.8 410.9 166.7 410.9 164.8 411.3 164.3 411.2 164.8ZM410.7 168.8 410.3 178.8 408.9 181.7 407.9 181.7 406.8 182.8 405.6 188.8 404.3 199.8 403.0 205.8 400.9 210.9 397.9 213.8 395.9 210.3 395.0 209.7 395.9 208.8 395.9 206.6 397.9 211.6 400.9 209.0 401.9 207.2 404.1 198.8 406.2 182.8 406.9 181.8 406.9 180.3 408.9 180.2 410.0 177.8 410.3 168.8 410.8 167.9 410.7 168.8ZM351.9 169.3 352.9 170.8 352.9 177.8 353.9 178.8 353.9 180.8 356.4 182.8 356.9 183.8 356.9 185.8 357.9 186.8 357.9 190.7 354.9 184.2 351.9 180.5 350.9 179.8 350.8 177.8 351.9 169.3ZM357.9 190.8 358.9 191.8 358.9 193.0 357.9 190.8ZM359.4 195.2 359.9 195.8 359.9 198.6 359.4 195.2ZM360.0 199.9 361.1 200.8 361.9 210.2 362.9 209.9 365.6 213.8 366.9 215.8 366.9 217.8 367.9 218.8 368.9 217.8 369.9 217.8 369.9 218.8 370.9 219.8 370.9 224.5 368.9 228.4 367.9 228.3 362.9 220.8 361.9 221.3 360.2 205.8 360.0 199.9ZM379.5 234.4 380.9 235.8 380.9 236.8 381.9 237.8 381.9 238.8 382.9 239.8 384.8 239.7 383.9 243.4 381.8 243.8 379.9 241.6 379.5 240.8 379.5 234.4Z" fill="#1f9a8a" stroke="#1f9a8a" stroke-width="1"/><path d="M312.4 79.8 312.2 82.8 310.9 88.5 310.9 82.8 311.9 81.8 311.9 78.8 312.4 78.8 312.4 79.8ZM327.9 78.8 329.9 78.8 329.9 89.8 330.9 90.8 330.9 98.8 331.9 99.8 333.3 109.8 334.9 116.3 335.9 118.1 337.9 114.8 337.9 115.8 338.9 116.8 338.9 118.8 339.9 119.8 339.9 121.8 340.9 122.8 341.9 122.8 342.9 121.8 342.9 118.8 343.9 117.8 343.9 114.8 344.9 113.8 344.9 115.8 345.9 116.8 345.9 121.8 346.9 122.8 346.9 127.8 347.9 128.8 347.9 134.8 348.9 135.8 348.9 143.8 349.9 144.8 349.9 145.3 348.9 145.8 347.2 141.8 345.6 130.8 343.9 124.5 340.9 124.2 336.4 134.8 335.2 138.8 334.6 142.8 336.2 181.8 338.9 184.7 340.9 188.3 343.9 197.5 345.9 199.9 346.9 200.3 348.9 199.7 352.5 247.8 354.9 262.8 357.9 271.6 359.9 275.6 361.9 281.9 362.9 283.5 367.9 299.9 370.9 306.2 373.7 309.8 373.8 312.8 372.3 312.8 371.9 310.9 369.9 308.1 367.9 304.0 362.9 288.1 361.9 287.7 359.9 280.9 356.9 273.3 354.9 266.0 351.8 246.8 348.9 209.7 346.9 208.8 345.9 207.8 343.9 204.3 340.9 195.4 335.9 189.9 334.4 181.8 332.6 151.8 329.9 128.1 328.9 126.8 327.9 127.1 324.9 136.9 323.9 138.5 319.9 138.5 318.9 139.5 314.5 156.8 312.9 161.4 311.9 162.2 311.6 161.8 309.5 157.8 307.9 153.0 307.9 127.0 309.7 140.8 311.9 152.2 313.9 146.8 318.9 127.9 323.9 126.1 325.0 123.8 326.4 93.8 327.9 78.8ZM308.9 86.5 308.9 89.8 309.9 90.8 310.6 90.0 307.9 109.8 307.9 93.5 308.9 86.5ZM432.9 109.2 434.1 113.8 434.1 131.8 432.7 151.8 430.9 158.9 428.9 164.4 422.9 190.8 417.9 202.0 411.9 228.8 408.9 236.6 406.9 245.5 402.9 268.4 400.9 274.5 397.9 279.7 395.9 292.4 393.7 312.8 393.1 312.8 395.9 288.5 397.9 275.5 400.9 271.2 402.9 265.7 408.7 233.8 411.9 225.5 417.9 198.4 422.9 186.5 426.6 170.8 428.9 158.2 431.2 149.8 432.4 133.8 432.5 117.8 431.6 115.8 428.9 112.8 426.9 118.9 426.9 116.8 428.9 111.5 430.9 112.5 432.9 109.2ZM426.5 120.8 425.9 127.8 423.9 133.6 422.9 134.3 420.9 133.4 417.9 133.0 417.6 133.8 416.2 139.8 415.1 149.8 413.9 155.2 412.9 157.4 412.9 155.8 413.9 154.8 414.9 148.8 415.3 142.3 415.9 141.8 415.9 137.7 416.1 136.5 416.9 135.8 417.1 132.8 417.9 131.0 422.9 133.0 423.9 132.5 425.9 125.8 425.9 121.5 426.0 120.6 426.7 120.0 426.5 120.8ZM410.3 168.8 409.9 178.3 408.9 180.2 406.9 180.3 406.9 178.8 407.4 178.2 408.9 178.7 409.7 176.8 409.8 170.9 409.9 168.8 410.3 168.3 410.3 168.8ZM406.2 182.8 405.9 184.1 406.2 182.8ZM356.9 182.8 356.9 183.8 356.4 182.8 356.9 182.8ZM405.6 185.8 404.2 197.8 402.9 204.4 400.9 209.0 397.9 211.6 395.9 206.6 395.9 202.8 397.9 209.3 400.9 206.9 403.1 201.8 404.9 185.8 405.7 184.9 405.6 185.8ZM363.9 198.8 363.9 203.8 364.9 204.8 364.9 209.8 365.9 210.8 365.9 214.3 362.9 209.9 361.9 210.2 361.1 200.8 361.9 200.8 363.9 198.8Z" fill="#1fa188" stroke="#1fa188" stroke-width="1"/><path d="M308.9 78.8 308.9 86.5 307.9 93.5 307.9 78.8 308.9 78.8ZM332.5 102.3 332.9 103.8 333.9 104.8 333.9 105.8 334.9 106.8 334.9 108.8 335.9 109.8 335.9 110.8 337.9 113.8 337.9 114.8 335.9 118.1 334.9 116.3 333.5 110.8 332.5 102.3ZM432.9 106.2 435.3 112.7 435.9 123.0 435.9 137.6 433.9 155.7 431.4 164.8 428.9 170.6 422.9 195.0 420.7 200.8 417.9 205.7 413.9 221.7 411.9 232.1 408.9 240.1 401.9 275.4 397.9 283.8 396.4 293.8 394.4 312.8 393.7 312.8 395.9 292.4 397.9 279.7 400.9 274.5 402.9 268.4 406.9 245.5 408.9 236.6 411.9 228.8 417.9 202.0 422.9 190.8 428.9 164.4 430.9 158.9 432.7 151.8 434.1 132.8 434.1 112.8 432.9 109.2 430.9 112.5 428.9 111.5 426.9 116.8 426.9 114.8 427.9 113.8 427.9 112.2 428.9 110.2 429.9 110.5 430.9 109.9 431.9 107.2 432.9 106.2ZM426.0 120.8 425.9 121.5 426.0 120.8ZM425.6 126.8 423.9 132.5 422.9 133.0 417.9 131.0 416.9 133.5 416.9 131.8 417.9 130.8 417.9 128.9 418.9 129.9 421.9 130.6 422.9 131.6 423.9 131.4 425.1 126.6 425.6 126.0 425.6 126.8ZM327.9 127.1 328.9 126.8 329.7 127.8 330.3 130.8 332.6 152.8 334.4 181.8 335.9 189.9 340.9 195.4 343.9 204.3 345.9 207.8 346.9 208.8 348.9 209.7 351.8 246.8 354.9 266.0 356.9 273.3 359.9 280.9 361.9 287.7 362.9 288.1 367.9 304.0 369.9 308.1 371.9 310.9 372.3 312.8 370.4 312.8 367.9 308.1 362.9 291.6 361.9 291.3 360.9 289.4 357.9 280.8 354.9 269.9 351.2 247.8 348.9 219.6 345.9 215.5 340.9 202.4 335.9 197.4 332.7 179.8 329.9 148.0 327.9 141.3 324.9 149.8 323.9 151.0 319.9 149.6 318.9 150.9 313.9 169.0 312.9 171.1 311.9 171.9 307.9 171.7 307.9 153.0 309.5 157.8 311.6 161.8 311.9 162.2 312.9 161.4 314.5 156.8 318.9 139.5 319.9 138.5 323.9 138.5 324.9 136.9 327.9 127.1ZM416.1 136.8 415.9 137.7 416.1 136.8ZM415.3 142.8 414.9 148.8 413.9 153.6 414.5 149.2 414.9 148.8 414.9 142.8 415.3 142.3 415.3 142.8ZM409.8 171.8 409.7 176.8 408.9 178.7 407.4 178.2 407.9 177.8 407.9 176.5 408.9 177.3 409.1 176.8 409.4 171.3 409.8 170.9 409.8 171.8ZM404.6 187.8 403.9 197.8 402.9 202.7 400.9 206.9 397.9 209.3 395.9 202.8 396.8 202.8 397.9 207.1 398.9 206.5 401.9 202.9 403.2 199.8 404.0 187.8 404.8 186.9 404.6 187.8Z" fill="#22a785" stroke="#22a785" stroke-width="1"/><path d="M431.9 103.2 432.9 103.2 435.9 108.2 435.9 123.0 435.3 112.8 432.9 106.2 431.9 107.2 430.9 109.9 429.9 110.5 428.9 110.2 427.9 112.2 427.9 110.6 428.9 109.0 429.9 108.7 430.9 104.2 431.9 103.2ZM419.9 126.5 422.9 130.2 423.9 130.2 424.5 126.3 425.1 126.6 423.9 131.4 422.9 131.6 421.9 130.6 418.9 129.9 417.9 128.9 417.9 127.8 418.6 127.1 418.9 128.1 419.9 126.5ZM435.9 137.6 435.9 153.3 433.9 165.2 431.2 172.8 428.9 176.8 421.9 202.7 420.9 205.0 418.9 207.5 417.9 210.2 413.9 225.0 411.9 235.5 408.9 243.5 406.9 251.8 404.7 265.8 401.9 279.5 400.9 282.4 397.9 288.0 395.1 312.8 394.4 312.8 396.4 293.8 397.9 283.8 401.9 275.4 404.3 264.8 406.9 248.6 408.9 240.1 411.9 232.1 413.9 221.7 417.9 205.7 420.7 200.8 422.9 195.0 428.9 170.6 431.4 164.8 433.6 156.8 434.4 152.8 435.9 137.6ZM327.9 141.3 329.9 148.0 332.7 179.8 335.7 196.8 336.9 198.6 340.9 202.4 345.9 215.5 348.9 219.6 351.2 247.8 354.9 269.9 356.9 277.7 360.6 288.8 361.9 291.3 362.9 291.6 367.9 308.1 370.4 312.8 368.1 312.8 362.9 295.1 361.9 294.7 360.2 291.8 356.9 282.0 354.5 271.8 350.9 250.4 348.9 229.5 345.9 223.3 340.9 209.9 335.9 204.9 335.6 203.8 331.7 181.8 329.9 164.7 327.9 155.6 324.9 162.6 323.9 163.4 319.9 160.7 318.9 161.8 313.9 178.9 312.9 180.9 307.9 182.7 307.9 171.7 311.9 171.9 312.9 171.1 313.9 169.0 318.9 150.9 319.9 149.6 323.9 151.0 324.9 149.8 327.9 141.3ZM414.4 149.8 413.9 152.0 414.0 149.7 414.5 149.2 414.4 149.8ZM409.4 171.8 409.3 175.8 408.9 177.3 407.9 176.5 407.9 175.8 408.6 175.0 408.9 175.6 409.0 171.7 409.4 171.3 409.4 171.8ZM404.0 187.8 403.9 188.9 404.0 187.8ZM403.8 190.8 402.9 201.0 401.9 202.9 398.9 206.5 397.9 207.1 396.8 202.8 397.8 201.8 397.9 204.7 398.3 201.8 398.9 201.8 399.9 200.5 400.9 201.1 401.9 200.7 402.9 199.1 403.1 190.6 403.8 189.8 403.8 190.8Z" fill="#28ae80" stroke="#28ae80" stroke-width="1"/><path d="M431.9 99.2 433.9 101.5 434.9 101.9 435.9 101.5 435.9 108.2 432.9 103.2 431.9 103.2 430.9 104.2 429.9 108.7 428.9 109.0 427.9 110.6 427.9 109.8 428.9 108.8 428.9 105.8 429.9 104.8 429.9 102.8 430.9 101.8 430.9 99.8 431.9 99.2ZM421.9 117.8 421.9 119.8 422.9 120.8 422.9 123.8 423.9 124.8 423.9 125.8 424.5 126.3 423.9 130.2 422.9 130.2 419.9 126.5 419.4 127.8 418.9 128.1 418.6 127.8 418.9 123.8 419.9 122.8 419.9 120.8 421.9 117.8ZM414.0 149.8 413.9 150.3 414.0 149.8ZM435.9 153.3 435.9 165.2 434.7 171.8 433.9 174.6 431.9 178.8 428.9 183.0 423.9 199.7 422.7 205.8 417.9 214.9 413.9 229.3 411.9 239.4 408.9 247.0 407.0 254.8 404.0 273.8 401.9 283.6 400.9 286.5 397.9 292.1 395.8 312.8 395.1 312.8 397.9 288.0 400.9 282.4 401.9 279.5 404.7 265.8 406.9 251.8 408.9 243.5 411.9 235.5 413.9 225.0 417.9 210.2 418.9 207.5 420.9 205.0 421.9 202.7 428.9 176.8 431.2 172.8 433.9 165.2 435.9 153.3ZM327.9 155.6 329.9 164.7 331.4 179.8 335.0 201.8 335.9 204.9 340.9 209.9 345.9 223.3 348.9 229.5 350.7 248.8 354.9 273.9 357.9 285.4 360.7 292.8 361.9 294.7 362.9 295.1 368.1 312.8 367.0 312.8 362.9 298.7 361.9 298.2 359.9 295.3 356.9 286.4 353.4 269.8 350.5 252.8 348.9 239.4 343.9 224.9 340.9 217.9 338.9 216.6 336.9 214.2 335.9 212.5 334.9 209.2 327.9 168.4 324.9 174.6 323.9 175.2 319.9 171.8 318.9 172.7 313.9 188.8 312.9 190.7 307.9 193.7 307.9 182.7 312.9 180.9 313.9 178.9 318.9 161.8 319.9 160.7 323.9 163.4 324.9 162.6 327.9 155.6ZM409.0 171.8 408.9 175.6 409.0 171.8ZM403.0 190.8 402.9 199.1 401.9 200.7 400.9 201.1 399.9 200.5 399.9 198.8 400.9 197.8 400.9 195.8 401.9 194.8 401.9 192.8 402.9 191.8 403.0 190.8ZM397.9 201.8 398.3 201.8 397.9 204.7 397.9 201.8Z" fill="#31b57b" stroke="#31b57b" stroke-width="1"/><path d="M435.9 88.8 435.9 101.5 434.9 101.9 433.9 101.5 431.6 99.0 431.9 96.8 433.9 93.8 433.9 91.8 435.9 88.8ZM435.9 165.2 435.9 177.1 434.9 181.5 433.9 184.0 430.9 187.7 428.9 189.2 422.9 211.3 417.9 219.6 413.9 233.7 411.9 243.4 408.9 250.5 407.4 256.8 402.9 283.7 400.9 290.7 398.9 294.1 397.9 297.3 396.5 312.8 395.8 312.8 397.9 292.1 400.9 286.5 402.9 279.5 406.9 255.0 408.9 247.0 411.9 239.4 413.9 229.3 417.9 214.9 422.7 205.8 423.9 199.8 428.9 183.0 430.9 180.5 433.9 174.6 435.9 165.2ZM327.9 168.4 334.9 209.2 335.9 212.5 336.9 214.2 338.9 216.6 340.9 217.9 343.9 224.9 348.9 239.4 350.5 252.8 353.4 269.8 356.9 286.4 359.9 295.3 361.9 298.2 362.9 298.7 367.0 312.8 365.8 312.8 362.9 302.2 359.9 299.4 357.9 294.9 353.4 274.8 348.9 245.9 346.9 242.2 343.9 231.9 340.9 226.0 337.9 225.3 335.9 223.5 329.9 189.5 327.9 180.9 324.9 186.5 323.9 186.9 319.9 182.9 318.9 183.5 313.9 198.8 312.9 200.4 310.9 201.7 307.9 205.0 307.9 193.7 312.9 190.7 313.9 188.8 318.9 172.7 319.9 171.8 323.9 175.2 324.9 174.6 327.9 168.4Z" fill="#3bbb75" stroke="#3bbb75" stroke-width="1"/><path d="M435.9 177.1 435.9 188.5 434.9 191.7 433.9 193.3 432.9 193.6 428.9 196.6 422.9 217.6 420.9 221.0 417.9 224.6 413.9 238.1 411.9 247.3 408.9 253.9 403.8 283.8 401.9 292.0 398.9 300.2 397.9 304.3 397.2 312.8 396.5 312.8 397.9 297.3 398.9 294.1 400.9 290.7 402.9 283.7 407.4 256.8 408.9 250.5 411.9 243.4 413.9 233.7 417.9 219.6 422.9 211.3 428.9 189.2 430.9 187.7 433.9 184.0 435.9 177.1ZM327.9 180.9 329.9 189.5 335.9 223.5 337.9 225.3 340.9 226.0 343.9 231.9 346.9 242.2 348.9 245.9 353.4 274.8 357.9 294.9 359.9 299.4 362.9 302.2 365.8 312.8 364.1 312.8 364.0 309.8 362.9 305.7 359.9 303.6 357.9 300.0 353.1 277.8 348.9 252.1 346.9 248.9 343.9 238.9 340.9 234.1 337.9 235.0 335.9 234.6 334.2 226.8 329.9 200.8 327.9 193.3 324.9 198.4 323.9 198.7 319.9 194.0 318.9 194.4 313.9 210.2 312.9 212.1 307.9 216.6 307.9 205.0 310.9 201.7 312.9 200.4 313.9 198.8 318.9 183.5 319.9 182.9 323.9 186.9 324.9 186.5 327.9 180.9Z" fill="#48c16e" stroke="#48c16e" stroke-width="1"/><path d="M435.9 188.5 435.6 200.8 433.9 203.7 432.9 203.7 428.9 205.6 422.9 224.3 420.9 227.0 417.9 229.7 413.9 242.6 411.6 252.8 410.8 254.8 408.9 257.5 404.4 285.8 397.9 312.8 397.2 312.8 397.9 304.3 399.9 296.8 401.9 292.0 404.2 281.8 408.4 255.8 411.9 247.3 413.9 238.1 417.9 224.6 420.9 221.0 422.9 217.6 428.9 196.6 432.9 193.6 433.9 193.3 435.9 188.5ZM327.9 193.3 329.9 200.8 334.2 226.8 335.9 234.6 337.9 235.0 340.9 234.1 343.9 238.9 346.9 248.9 348.9 252.1 352.7 275.8 357.6 298.8 359.9 303.6 362.9 305.7 364.0 309.8 364.1 312.8 362.3 312.8 362.0 308.8 358.9 306.8 357.5 303.8 354.9 289.8 351.0 271.8 348.9 258.4 346.9 256.1 346.3 254.8 343.9 246.2 340.9 242.4 335.9 245.8 333.7 235.8 329.9 213.6 327.9 206.9 324.9 211.8 323.9 212.0 319.9 207.0 318.9 207.7 313.9 223.1 312.9 224.8 307.9 227.9 307.9 216.6 312.9 212.1 313.9 210.2 318.9 194.4 319.9 194.0 323.9 198.7 324.9 198.4 327.9 193.3Z" fill="#56c667" stroke="#56c667" stroke-width="1"/><path d="M435.9 200.0 435.9 212.0 434.9 214.2 433.9 215.1 428.9 214.7 422.9 230.9 420.9 232.9 417.9 234.8 413.9 247.0 411.9 257.7 410.8 259.8 408.9 266.1 407.8 273.8 402.9 296.5 400.9 308.1 399.6 312.8 397.9 312.8 405.0 282.8 408.9 257.5 410.8 254.8 411.6 252.8 413.9 242.6 417.9 229.7 420.9 227.0 422.9 224.3 428.9 205.6 432.9 203.7 433.9 203.7 434.9 202.5 435.9 200.0ZM318.9 207.7 319.9 207.0 323.9 212.0 324.9 211.8 327.9 206.9 329.9 213.6 333.7 235.8 335.9 245.8 340.9 242.4 343.9 246.2 346.3 254.8 346.9 256.1 348.9 258.4 351.0 271.7 355.1 290.8 356.9 301.7 357.9 305.2 358.9 306.7 362.0 308.8 362.3 312.8 360.0 312.8 359.7 311.8 357.9 310.3 356.9 307.5 353.7 289.8 350.5 275.8 348.9 264.8 346.9 263.2 346.1 261.8 343.9 255.2 340.9 252.5 335.9 258.1 329.9 227.0 327.9 221.2 324.9 226.1 323.9 226.2 319.9 221.3 318.9 221.7 313.9 236.0 312.9 237.5 307.9 239.3 307.9 227.9 312.9 224.8 313.9 223.1 318.9 207.7Z" fill="#65cb5e" stroke="#65cb5e" stroke-width="1"/><path d="M435.9 212.0 435.9 224.1 435.6 224.8 434.9 226.0 433.9 226.5 428.9 223.7 422.9 237.6 420.9 239.5 419.9 239.7 419.2 240.8 414.9 250.3 413.9 254.1 411.9 266.5 408.9 275.2 406.9 284.3 401.6 312.8 399.6 312.8 400.9 308.1 402.9 296.5 405.7 284.8 408.9 266.1 410.8 259.8 411.9 257.7 413.9 247.0 417.9 234.8 420.9 232.9 422.9 230.9 428.9 214.7 433.9 215.1 434.9 214.2 435.9 212.0ZM318.9 221.7 319.9 221.3 323.9 226.2 324.9 226.1 327.9 221.2 329.9 227.0 335.9 258.1 340.9 252.5 343.9 255.2 346.1 261.8 346.9 263.2 348.9 264.8 350.5 275.8 353.7 289.8 356.7 306.8 357.9 310.3 359.7 311.8 360.0 312.8 356.7 312.8 348.9 273.6 346.9 271.5 343.9 264.2 340.9 262.9 335.9 272.4 329.9 240.9 327.9 235.5 324.9 240.4 323.9 240.5 319.9 235.5 318.9 235.7 313.9 249.4 312.9 251.0 310.9 251.3 307.9 250.9 307.9 239.3 312.9 237.5 313.9 236.0 318.9 221.7Z" fill="#75d054" stroke="#75d054" stroke-width="1"/><path d="M428.9 223.7 433.9 226.5 434.9 226.0 435.9 224.1 435.9 238.7 434.9 239.3 433.9 238.7 432.9 237.0 428.9 233.1 422.9 250.5 420.6 253.8 417.9 255.7 413.9 267.9 411.9 278.2 408.9 284.4 406.9 292.5 403.1 312.8 401.6 312.8 406.9 284.3 408.9 275.2 411.9 266.5 413.9 254.1 414.9 250.3 419.2 240.8 419.9 239.7 420.9 239.5 422.9 237.6 428.9 223.7ZM318.9 235.7 319.9 235.5 323.9 240.5 324.9 240.4 327.9 235.5 329.9 240.9 335.9 272.4 340.9 262.9 343.9 264.2 346.9 271.5 348.9 273.6 356.7 312.8 354.9 312.8 348.9 282.6 346.9 282.6 346.1 281.8 343.9 276.6 340.9 276.9 335.9 286.7 329.9 256.7 327.9 251.6 324.9 255.7 323.9 255.7 319.9 249.8 318.9 250.0 313.9 263.7 312.9 265.3 311.9 265.5 307.9 264.0 307.9 250.9 310.9 251.3 312.9 251.0 313.9 249.4 318.9 235.7Z" fill="#86d549" stroke="#86d549" stroke-width="1"/><path d="M428.9 233.1 432.9 237.0 433.9 238.7 434.9 239.3 435.9 238.7 435.9 259.9 434.9 261.0 433.9 260.8 428.9 255.3 422.9 268.1 420.9 269.2 417.9 270.0 413.9 282.0 412.3 288.8 408.9 296.4 406.4 306.8 406.0 312.8 403.1 312.8 406.9 292.5 408.9 284.4 411.9 278.2 414.9 264.6 417.9 255.7 420.6 253.8 422.9 250.5 428.9 233.1ZM318.9 250.0 319.9 249.8 323.9 255.7 324.9 255.7 327.9 251.6 329.9 256.7 335.9 286.7 340.9 276.9 343.9 276.6 346.1 281.8 346.9 282.6 348.9 282.6 354.9 312.8 352.9 312.8 351.9 305.4 348.9 292.1 346.9 294.3 345.9 294.7 340.9 292.3 335.9 299.2 333.5 290.8 329.9 272.7 327.9 268.3 324.9 271.4 323.9 271.0 319.9 264.1 318.9 264.3 313.9 278.0 312.9 279.5 307.9 279.8 307.9 264.0 311.9 265.5 312.9 265.3 313.9 263.7 318.9 250.0Z" fill="#98d83e" stroke="#98d83e" stroke-width="1"/><path d="M428.9 255.3 433.9 260.8 434.9 261.0 435.9 259.9 435.9 281.3 434.9 282.7 433.9 282.9 428.9 277.7 424.9 282.9 422.9 286.4 417.9 289.0 413.9 297.9 411.9 305.5 409.3 309.8 409.1 312.8 406.0 312.8 406.4 306.8 408.9 296.4 412.3 288.8 413.9 282.0 417.9 270.0 420.9 269.2 422.9 268.1 428.9 255.3ZM318.9 264.3 319.9 264.1 323.9 271.0 324.9 271.4 327.9 268.3 329.9 272.7 333.5 290.8 335.9 299.2 340.9 292.3 345.9 294.7 346.9 294.3 348.9 292.1 351.9 305.4 352.9 312.8 350.7 312.8 350.5 309.8 348.9 303.2 346.9 307.3 343.9 312.0 340.9 306.5 335.9 310.2 333.7 303.8 329.9 288.1 327.9 284.7 324.9 287.1 323.9 286.5 319.9 278.4 318.9 278.7 313.9 292.0 312.9 293.3 310.9 293.7 307.9 295.5 307.9 279.8 312.9 279.5 313.9 278.0 318.9 264.3Z" fill="#addc30" stroke="#addc30" stroke-width="1"/><path d="M428.9 277.7 433.9 282.9 434.9 282.7 435.9 281.3 435.9 307.9 434.9 309.3 433.9 309.6 428.9 304.4 424.9 309.5 423.1 312.8 409.1 312.8 409.3 309.8 411.9 305.5 413.9 297.9 417.9 289.0 422.9 286.4 424.9 282.9 428.9 277.7ZM318.9 278.7 319.9 278.4 323.9 286.5 324.9 287.1 327.9 284.7 329.9 288.1 333.7 303.8 335.9 310.2 340.9 306.5 343.9 312.0 346.9 307.3 348.9 303.2 350.5 309.8 350.7 312.8 332.0 312.8 331.8 309.8 329.9 302.5 327.9 300.7 324.9 303.1 323.9 302.5 319.9 294.4 318.9 294.3 313.9 305.9 312.9 306.9 311.9 306.8 309.8 308.8 308.4 310.8 308.2 312.8 307.9 312.8 307.9 295.5 310.9 293.7 312.9 293.3 313.9 292.0 318.9 278.7Z" fill="#c0df25" stroke="#c0df25" stroke-width="1"/><path d="M318.9 294.3 319.9 294.4 323.9 302.5 324.9 303.1 327.9 300.7 329.9 302.5 331.8 309.8 332.0 312.8 308.2 312.8 308.4 310.8 308.9 309.8 311.9 306.8 312.9 306.9 313.9 305.9 318.9 294.3ZM428.9 304.4 433.9 309.6 434.9 309.3 435.9 307.9 435.9 312.8 423.1 312.8 424.9 309.5 428.9 304.4Z" fill="#d2e21b" stroke="#d2e21b" stroke-width="1"/></g><g clip-path="url(#cb)" fill="#fff"><path d="M309.3,79 311.8,79 309.5,98 309.3,98Z"/><path d="M313.8,79 316.5,83.9 319.5,79Z"/><path d="M320.8,79 323,83.3 325.6,79Z"/><path d="M329.8,79 329.8,79.75 331.6,102.8 334.7,110.2 338.4,118.9 341.5,127.5 344.9,113.9 347.7,131.2 349,140 351.3,160 351.8,164.8 354.2,184.6 357.3,187 361.1,205.6 363.9,202.5 367.4,222.3 370.5,220.4 373.6,241.5 376.7,235.3 379.1,236.5 383.5,244 386,242.1 389.7,229.1 392.1,233.4 395.9,206.2 398.9,205.3 401.9,196.5 405.5,187.4 409.2,174.7 412.8,160 415.6,141.8 418.3,129 421.6,120 424.7,130.9 428.3,110.8 433.8,95.3 436.5,91 436.5,79Z"/></g><rect x="170.4" y="79.75" width="126.9" height="232.55" fill="none" stroke="#000" stroke-width="1.22"/><line x1="165.05" y1="312.3" x2="170.4" y2="312.3" stroke="#000" stroke-width="1.22"/><line x1="165.05" y1="283.23" x2="170.4" y2="283.23" stroke="#000" stroke-width="1.22"/><line x1="165.05" y1="254.16" x2="170.4" y2="254.16" stroke="#000" stroke-width="1.22"/><line x1="165.05" y1="225.09" x2="170.4" y2="225.09" stroke="#000" stroke-width="1.22"/><line x1="165.05" y1="196.03" x2="170.4" y2="196.03" stroke="#000" stroke-width="1.22"/><line x1="165.05" y1="166.96" x2="170.4" y2="166.96" stroke="#000" stroke-width="1.22"/><line x1="165.05" y1="137.89" x2="170.4" y2="137.89" stroke="#000" stroke-width="1.22"/><line x1="165.05" y1="108.82" x2="170.4" y2="108.82" stroke="#000" stroke-width="1.22"/><line x1="165.05" y1="79.75" x2="170.4" y2="79.75" stroke="#000" stroke-width="1.22"/><line x1="170.4" y1="312.3" x2="170.4" y2="317.65" stroke="#000" stroke-width="1.22"/><text x="170.4" y="332.6" font-size="13.05" text-anchor="middle" textLength="19.4" lengthAdjust="spacingAndGlyphs">0.0</text><line x1="233.85" y1="312.3" x2="233.85" y2="317.65" stroke="#000" stroke-width="1.22"/><text x="233.85" y="332.6" font-size="13.05" text-anchor="middle" textLength="19.4" lengthAdjust="spacingAndGlyphs">0.5</text><line x1="297.3" y1="312.3" x2="297.3" y2="317.65" stroke="#000" stroke-width="1.22"/><text x="291.3" y="332.6" font-size="13.05" text-anchor="middle" textLength="19.4" lengthAdjust="spacingAndGlyphs">1.0</text><rect x="308.9" y="79.75" width="126.8" height="232.55" fill="none" stroke="#000" stroke-width="1.22"/><line x1="303.55" y1="312.3" x2="308.9" y2="312.3" stroke="#000" stroke-width="1.22"/><line x1="303.55" y1="283.23" x2="308.9" y2="283.23" stroke="#000" stroke-width="1.22"/><line x1="303.55" y1="254.16" x2="308.9" y2="254.16" stroke="#000" stroke-width="1.22"/><line x1="303.55" y1="225.09" x2="308.9" y2="225.09" stroke="#000" stroke-width="1.22"/><line x1="303.55" y1="196.03" x2="308.9" y2="196.03" stroke="#000" stroke-width="1.22"/><line x1="303.55" y1="166.96" x2="308.9" y2="166.96" stroke="#000" stroke-width="1.22"/><line x1="303.55" y1="137.89" x2="308.9" y2="137.89" stroke="#000" stroke-width="1.22"/><line x1="303.55" y1="108.82" x2="308.9" y2="108.82" stroke="#000" stroke-width="1.22"/><line x1="303.55" y1="79.75" x2="308.9" y2="79.75" stroke="#000" stroke-width="1.22"/><line x1="308.9" y1="312.3" x2="308.9" y2="317.65" stroke="#000" stroke-width="1.22"/><text x="315" y="332.6" font-size="13.05" text-anchor="middle" textLength="19.4" lengthAdjust="spacingAndGlyphs">0.0</text><line x1="372.3" y1="312.3" x2="372.3" y2="317.65" stroke="#000" stroke-width="1.22"/><text x="372.3" y="332.6" font-size="13.05" text-anchor="middle" textLength="19.4" lengthAdjust="spacingAndGlyphs">0.5</text><line x1="435.7" y1="312.3" x2="435.7" y2="317.65" stroke="#000" stroke-width="1.22"/><text x="435.7" y="332.6" font-size="13.05" text-anchor="middle" textLength="19.4" lengthAdjust="spacingAndGlyphs">1.0</text><text x="159.8" y="316.9" font-size="13.05" text-anchor="end" textLength="42.69" lengthAdjust="spacingAndGlyphs">2.1300</text><text x="159.8" y="287.83" font-size="13.05" text-anchor="end" textLength="42.69" lengthAdjust="spacingAndGlyphs">2.1325</text><text x="159.8" y="258.76" font-size="13.05" text-anchor="end" textLength="42.69" lengthAdjust="spacingAndGlyphs">2.1350</text><text x="159.8" y="229.69" font-size="13.05" text-anchor="end" textLength="42.69" lengthAdjust="spacingAndGlyphs">2.1375</text><text x="159.8" y="200.63" font-size="13.05" text-anchor="end" textLength="42.69" lengthAdjust="spacingAndGlyphs">2.1400</text><text x="159.8" y="171.56" font-size="13.05" text-anchor="end" textLength="42.69" lengthAdjust="spacingAndGlyphs">2.1425</text><text x="159.8" y="142.49" font-size="13.05" text-anchor="end" textLength="42.69" lengthAdjust="spacingAndGlyphs">2.1450</text><text x="159.8" y="113.42" font-size="13.05" text-anchor="end" textLength="42.69" lengthAdjust="spacingAndGlyphs">2.1475</text><text x="159.8" y="84.35" font-size="13.05" text-anchor="end" textLength="42.69" lengthAdjust="spacingAndGlyphs">2.1500</text><text x="233.85" y="352.2" font-size="16.2" text-anchor="middle" textLength="34" lengthAdjust="spacingAndGlyphs"><tspan font-style="italic">α</tspan> [<tspan font-style="italic">π</tspan>]</text><text x="372.3" y="352.2" font-size="16.2" text-anchor="middle" textLength="34" lengthAdjust="spacingAndGlyphs"><tspan font-style="italic">α</tspan> [<tspan font-style="italic">π</tspan>]</text><g transform="translate(107.3 196.1) rotate(-90)"><text x="-20.6" y="0" font-size="15.6" font-style="italic" textLength="9.6" lengthAdjust="spacingAndGlyphs">R</text><text x="-4.6" y="0" font-size="15.6" textLength="25.2" lengthAdjust="spacingAndGlyphs">[m]</text></g><text x="93.4" y="12.1" font-size="16.37" text-anchor="start" textLength="21.31" lengthAdjust="spacingAndGlyphs">(a)</text><rect x="172.3" y="41" width="8.11" height="23" fill="#450559"/><rect x="179.61" y="41" width="8.11" height="23" fill="#471063"/><rect x="186.91" y="41" width="8.11" height="23" fill="#481a6c"/><rect x="194.22" y="41" width="8.11" height="23" fill="#482374"/><rect x="201.52" y="41" width="8.11" height="23" fill="#472d7b"/><rect x="208.83" y="41" width="8.11" height="23" fill="#453581"/><rect x="216.13" y="41" width="8.11" height="23" fill="#433e85"/><rect x="223.44" y="41" width="8.11" height="23" fill="#404688"/><rect x="230.74" y="41" width="8.11" height="23" fill="#3d4e8a"/><rect x="238.05" y="41" width="8.11" height="23" fill="#39558c"/><rect x="245.36" y="41" width="8.11" height="23" fill="#365d8d"/><rect x="252.66" y="41" width="8.11" height="23" fill="#32648e"/><rect x="259.97" y="41" width="8.11" height="23" fill="#2f6b8e"/><rect x="267.27" y="41" width="8.11" height="23" fill="#2c728e"/><rect x="274.58" y="41" width="8.11" height="23" fill="#29798e"/><rect x="281.88" y="41" width="8.11" height="23" fill="#27808e"/><rect x="289.19" y="41" width="8.11" height="23" fill="#24868e"/><rect x="296.49" y="41" width="8.11" height="23" fill="#228d8d"/><rect x="303.8" y="41" width="8.11" height="23" fill="#20938c"/><rect x="311.11" y="41" width="8.11" height="23" fill="#1f9a8a"/><rect x="318.41" y="41" width="8.11" height="23" fill="#1fa188"/><rect x="325.72" y="41" width="8.11" height="23" fill="#22a785"/><rect x="333.02" y="41" width="8.11" height="23" fill="#28ae80"/><rect x="340.33" y="41" width="8.11" height="23" fill="#31b57b"/><rect x="347.63" y="41" width="8.11" height="23" fill="#3bbb75"/><rect x="354.94" y="41" width="8.11" height="23" fill="#48c16e"/><rect x="362.24" y="41" width="8.11" height="23" fill="#56c667"/><rect x="369.55" y="41" width="8.11" height="23" fill="#65cb5e"/><rect x="376.86" y="41" width="8.11" height="23" fill="#75d054"/><rect x="384.16" y="41" width="8.11" height="23" fill="#86d549"/><rect x="391.47" y="41" width="8.11" height="23" fill="#98d83e"/><rect x="398.77" y="41" width="8.11" height="23" fill="#addc30"/><rect x="406.08" y="41" width="8.11" height="23" fill="#c0df25"/><rect x="413.38" y="41" width="8.11" height="23" fill="#d2e21b"/><rect x="420.69" y="41" width="8.11" height="23" fill="#e5e419"/><rect x="427.99" y="41" width="7.31" height="23" fill="#f6e620"/><line x1="326.3" y1="41" x2="326.3" y2="64" stroke="#000" stroke-width="2.6"/><rect x="172.3" y="41" width="263" height="23" fill="none" stroke="#000" stroke-width="1.22"/><line x1="172.3" y1="35.65" x2="172.3" y2="41" stroke="#000" stroke-width="1.22"/><text x="172.3" y="27.6" font-size="13.05" text-anchor="middle" textLength="25.75" lengthAdjust="spacingAndGlyphs">−80</text><line x1="201.52" y1="35.65" x2="201.52" y2="41" stroke="#000" stroke-width="1.22"/><text x="201.52" y="27.6" font-size="13.05" text-anchor="middle" textLength="25.75" lengthAdjust="spacingAndGlyphs">−70</text><line x1="230.74" y1="35.65" x2="230.74" y2="41" stroke="#000" stroke-width="1.22"/><text x="230.74" y="27.6" font-size="13.05" text-anchor="middle" textLength="25.75" lengthAdjust="spacingAndGlyphs">−60</text><line x1="259.97" y1="35.65" x2="259.97" y2="41" stroke="#000" stroke-width="1.22"/><text x="259.97" y="27.6" font-size="13.05" text-anchor="middle" textLength="25.75" lengthAdjust="spacingAndGlyphs">−50</text><line x1="289.19" y1="35.65" x2="289.19" y2="41" stroke="#000" stroke-width="1.22"/><text x="289.19" y="27.6" font-size="13.05" text-anchor="middle" textLength="25.75" lengthAdjust="spacingAndGlyphs">−40</text><line x1="318.41" y1="35.65" x2="318.41" y2="41" stroke="#000" stroke-width="1.22"/><text x="318.41" y="27.6" font-size="13.05" text-anchor="middle" textLength="25.75" lengthAdjust="spacingAndGlyphs">−30</text><line x1="347.63" y1="35.65" x2="347.63" y2="41" stroke="#000" stroke-width="1.22"/><text x="347.63" y="27.6" font-size="13.05" text-anchor="middle" textLength="25.75" lengthAdjust="spacingAndGlyphs">−20</text><line x1="376.86" y1="35.65" x2="376.86" y2="41" stroke="#000" stroke-width="1.22"/><text x="376.86" y="27.6" font-size="13.05" text-anchor="middle" textLength="25.75" lengthAdjust="spacingAndGlyphs">−10</text><line x1="406.08" y1="35.65" x2="406.08" y2="41" stroke="#000" stroke-width="1.22"/><text x="406.08" y="27.6" font-size="13.05" text-anchor="middle" textLength="7.76" lengthAdjust="spacingAndGlyphs">0</text><line x1="435.3" y1="35.65" x2="435.3" y2="41" stroke="#000" stroke-width="1.22"/><text x="435.3" y="27.6" font-size="13.05" text-anchor="middle" textLength="15.52" lengthAdjust="spacingAndGlyphs">10</text><text x="268.8" y="12.5" font-size="15" font-style="italic" textLength="9.7" lengthAdjust="spacingAndGlyphs">E</text><text x="278.3" y="15.2" font-size="10.8" textLength="4.4" lengthAdjust="spacingAndGlyphs">r</text><text x="287.6" y="12.5" font-size="15.2" textLength="51.3" lengthAdjust="spacingAndGlyphs">[kV/m]</text><g clip-path="url(#cpb)"><path d="M58.2,413.7 59.04,413.74 59.87,413.77 60.7,413.79 61.53,413.82 62.37,413.86 63.22,413.91 64.1,413.97 65,414.06 65.95,414.17 66.95,414.3 67.98,414.45 69.02,414.61 70.06,414.77 71.06,414.95 72.02,415.13 72.9,415.31 73.71,415.49 74.46,415.66 75.17,415.83 75.84,416.02 76.5,416.21 77.15,416.44 77.82,416.69 78.5,416.98 79.22,417.32 79.95,417.71 80.7,418.14 81.44,418.58 82.16,419.04 82.85,419.49 83.51,419.94 84.1,420.35 84.62,420.72 85.05,421.07 85.44,421.39 85.8,421.71 86.16,422.05 86.55,422.43 86.98,422.85 87.5,423.33 88.1,423.9 88.77,424.56 89.48,425.28 90.22,426.02 90.98,426.76 91.72,427.47 92.43,428.13 93.1,428.7 93.72,429.18 94.3,429.61 94.85,429.99 95.4,430.33 95.95,430.65 96.5,430.96 97.08,431.26 97.7,431.57 98.35,431.89 99.03,432.2 99.73,432.5 100.44,432.79 101.16,433.06 101.88,433.31 102.59,433.54 103.3,433.74 103.98,433.9 104.65,434.04 105.3,434.15 105.96,434.24 106.63,434.31 107.34,434.38 108.09,434.44 108.9,434.51 109.79,434.56 110.77,434.59 111.8,434.59 112.85,434.59 113.9,434.6 114.93,434.62 115.91,434.66 116.8,434.73 117.62,434.83 118.39,434.94 119.12,435.06 119.81,435.2 120.48,435.37 121.13,435.55 121.77,435.76 122.4,435.99 123.02,436.25 123.63,436.54 124.22,436.84 124.79,437.17 125.34,437.52 125.88,437.89 126.4,438.28 126.9,438.68 127.38,439.1 127.83,439.54 128.26,440 128.68,440.48 129.08,440.97 129.48,441.47 129.89,441.98 130.3,442.49 130.72,443.02 131.13,443.55 131.54,444.11 131.95,444.66 132.36,445.23 132.77,445.79 133.18,446.35 133.6,446.91 134.02,447.46 134.44,448 134.87,448.54 135.29,449.08 135.72,449.63 136.15,450.18 136.57,450.74 137,451.32 137.43,451.92 137.85,452.54 138.28,453.17 138.7,453.8 139.12,454.44 139.55,455.08 139.97,455.71 140.4,456.34 140.82,456.96 141.22,457.6 141.63,458.23 142.03,458.86 142.44,459.48 142.87,460.09 143.32,460.68 143.8,461.25 144.31,461.81 144.85,462.36 145.41,462.9 145.98,463.43 146.56,463.93 147.15,464.42 147.73,464.89 148.3,465.34 148.85,465.76 149.4,466.15 149.94,466.51 150.48,466.85 151.03,467.17 151.6,467.48 152.18,467.8 152.8,468.13 153.45,468.47 154.12,468.81 154.82,469.15 155.53,469.49 156.25,469.82 156.97,470.15 157.69,470.48 158.4,470.8 159.09,471.11 159.78,471.41 160.46,471.72 161.14,472.01 161.83,472.31 162.53,472.59 163.25,472.88 164,473.16 164.77,473.43 165.54,473.67 166.33,473.9 167.14,474.13 167.96,474.38 168.81,474.64 169.69,474.93 170.6,475.26 171.54,475.63 172.51,476 173.51,476.4 174.53,476.82 175.57,477.27 176.64,477.76 177.71,478.29 178.8,478.87 179.91,479.51 181.05,480.21 182.2,480.96 183.38,481.75 184.56,482.55 185.74,483.35 186.93,484.15 188.1,484.91 189.29,485.67 190.51,486.45 191.75,487.24 192.97,488.02 194.18,488.78 195.35,489.51 196.46,490.21 197.5,490.85 198.45,491.44 199.34,491.99 200.17,492.49 200.96,492.94 201.73,493.37 202.48,493.78 203.23,494.19 204,494.6 204.77,495.01 205.54,495.41 206.29,495.81 207.03,496.19 207.77,496.56 208.51,496.9 209.25,497.21 210,497.5 210.75,497.76 211.5,498.01 212.25,498.24 213,498.44 213.75,498.61 214.5,498.75 215.25,498.85 216,498.9 216.75,498.91 217.5,498.88 218.25,498.81 219,498.71 219.75,498.58 220.5,498.41 221.25,498.22 222,498 222.75,497.74 223.5,497.42 224.25,497.07 225,496.69 225.75,496.3 226.5,495.92 227.25,495.54 228,495.2 228.76,494.89 229.52,494.59 230.29,494.31 231.06,494.05 231.82,493.78 232.57,493.5 233.3,493.2 234,492.88 234.67,492.54 235.32,492.2 235.96,491.84 236.58,491.47 237.18,491.09 237.79,490.68 238.39,490.24 239,489.78 239.61,489.3 240.21,488.81 240.81,488.31 241.41,487.77 242,487.21 242.6,486.6 243.2,485.93 243.8,485.2 244.42,484.38 245.05,483.5 245.69,482.55 246.33,481.56 246.95,480.54 247.56,479.51 248.15,478.5 248.7,477.5 249.23,476.5 249.74,475.46 250.23,474.39 250.7,473.33 251.15,472.3 251.56,471.32 251.95,470.42 252.3,469.62 252.6,468.93 252.86,468.34 253.08,467.82 253.27,467.36 253.45,466.92 253.62,466.5 253.8,466.06 254,465.58 254,493.42 253.8,493.87 253.62,494.28 253.45,494.68 253.27,495.08 253.08,495.51 252.86,495.99 252.6,496.54 252.3,497.18 251.95,497.93 251.56,498.77 251.15,499.68 250.7,500.64 250.23,501.63 249.74,502.61 249.23,503.58 248.7,504.5 248.15,505.4 247.56,506.32 246.95,507.25 246.33,508.17 245.69,509.06 245.05,509.9 244.42,510.69 243.8,511.4 243.2,512.04 242.6,512.61 242,513.13 241.41,513.6 240.81,514.04 240.21,514.45 239.61,514.84 239,515.22 238.39,515.59 237.79,515.92 237.18,516.24 236.58,516.53 235.96,516.8 235.32,517.05 234.67,517.29 234,517.52 233.3,517.73 232.57,517.91 231.82,518.07 231.06,518.22 230.29,518.36 229.52,518.5 228.76,518.64 228,518.8 227.25,518.99 226.5,519.22 225.75,519.45 225,519.69 224.25,519.92 223.5,520.12 222.75,520.29 222,520.4 221.25,520.47 220.5,520.51 219.75,520.53 219,520.51 218.25,520.46 217.5,520.38 216.75,520.26 216,520.1 215.25,519.9 214.5,519.65 213.75,519.36 213,519.04 212.25,518.69 211.5,518.31 210.75,517.91 210,517.5 209.25,517.07 208.51,516.6 207.77,516.11 207.03,515.6 206.29,515.07 205.54,514.52 204.77,513.96 204,513.4 203.23,512.84 202.48,512.28 201.73,511.72 200.96,511.13 200.17,510.53 199.34,509.91 198.45,509.26 197.5,508.55 196.46,507.78 195.35,506.95 194.18,506.08 192.97,505.17 191.75,504.25 190.51,503.31 189.29,502.39 188.1,501.49 186.93,500.58 185.74,499.64 184.56,498.7 183.38,497.75 182.2,496.83 181.05,495.94 179.91,495.1 178.8,494.33 177.71,493.62 176.64,492.96 175.57,492.34 174.53,491.77 173.51,491.22 172.51,490.7 171.54,490.21 170.6,489.74 169.69,489.29 168.81,488.9 167.96,488.53 167.14,488.19 166.33,487.86 165.54,487.53 164.77,487.2 164,486.84 163.25,486.47 162.53,486.1 161.83,485.72 161.14,485.35 160.46,484.97 159.78,484.59 159.09,484.2 158.4,483.8 157.69,483.4 156.97,482.99 156.25,482.57 155.53,482.15 154.82,481.73 154.12,481.3 153.45,480.88 152.8,480.47 152.18,480.06 151.6,479.67 151.03,479.29 150.48,478.9 149.94,478.51 149.4,478.12 148.85,477.7 148.3,477.26 147.73,476.78 147.15,476.28 146.56,475.76 145.98,475.22 145.41,474.67 144.85,474.11 144.31,473.53 143.8,472.95 143.32,472.35 142.87,471.73 142.44,471.1 142.03,470.46 141.63,469.81 141.22,469.16 140.82,468.51 140.4,467.86 139.97,467.21 139.55,466.56 139.12,465.9 138.7,465.24 138.28,464.58 137.85,463.93 137.43,463.3 137,462.68 136.57,462.07 136.15,461.49 135.72,460.91 135.29,460.34 134.87,459.78 134.44,459.22 134.02,458.66 133.6,458.09 133.18,457.51 132.77,456.93 132.36,456.35 131.95,455.76 131.54,455.18 131.13,454.61 130.72,454.05 130.3,453.51 129.89,452.97 129.48,452.44 129.08,451.92 128.68,451.41 128.26,450.91 127.83,450.43 127.38,449.97 126.9,449.52 126.4,449.1 125.88,448.69 125.34,448.29 124.79,447.91 124.22,447.55 123.63,447.22 123.02,446.9 122.4,446.61 121.77,446.35 121.13,446.11 120.48,445.89 119.81,445.7 119.12,445.52 118.39,445.36 117.62,445.21 116.8,445.07 115.91,444.95 114.93,444.86 113.9,444.79 112.85,444.73 111.8,444.68 110.77,444.62 109.79,444.56 108.9,444.49 108.09,444.42 107.34,444.35 106.63,444.27 105.96,444.19 105.3,444.09 104.65,443.98 103.98,443.84 103.3,443.66 102.59,443.45 101.88,443.22 101.16,442.96 100.44,442.68 99.73,442.38 99.03,442.07 98.35,441.75 97.7,441.43 97.08,441.11 96.5,440.8 95.95,440.49 95.4,440.17 94.85,439.81 94.3,439.43 93.72,438.99 93.1,438.5 92.43,437.93 91.72,437.26 90.98,436.54 90.22,435.79 89.48,435.04 88.77,434.32 88.1,433.65 87.5,433.07 86.98,432.58 86.55,432.16 86.16,431.78 85.8,431.44 85.44,431.11 85.05,430.78 84.62,430.43 84.1,430.05 83.51,429.63 82.85,429.18 82.16,428.72 81.44,428.25 80.7,427.8 79.95,427.37 79.22,426.97 78.5,426.62 77.82,426.32 77.15,426.06 76.5,425.83 75.84,425.62 75.17,425.43 74.46,425.25 73.71,425.07 72.9,424.89 72.02,424.69 71.06,424.5 70.06,424.31 69.02,424.13 67.98,423.96 66.95,423.8 65.95,423.66 65,423.54 64.1,423.44 63.22,423.37 62.37,423.31 61.53,423.26 60.7,423.23 59.87,423.19 59.04,423.15 58.2,423.1Z" fill="#1f77b4" fill-opacity="0.3"/><path d="M58.2,420.9 58.91,420.82 59.63,420.73 60.34,420.63 61.06,420.54 61.77,420.45 62.48,420.38 63.19,420.33 63.9,420.3 64.6,420.29 65.31,420.29 66.01,420.31 66.71,420.34 67.4,420.4 68.1,420.47 68.8,420.57 69.5,420.7 70.2,420.86 70.9,421.05 71.6,421.26 72.29,421.5 72.99,421.76 73.69,422.03 74.4,422.31 75.1,422.6 75.81,422.9 76.52,423.22 77.23,423.56 77.95,423.91 78.67,424.27 79.38,424.64 80.09,425.02 80.8,425.4 81.5,425.8 82.21,426.21 82.91,426.64 83.61,427.07 84.3,427.51 85,427.94 85.7,428.38 86.4,428.8 87.1,429.22 87.8,429.66 88.5,430.09 89.19,430.52 89.89,430.94 90.59,431.35 91.3,431.74 92,432.1 92.71,432.44 93.42,432.76 94.13,433.06 94.85,433.35 95.57,433.63 96.28,433.89 96.99,434.15 97.7,434.4 98.4,434.65 99.11,434.88 99.81,435.11 100.51,435.32 101.2,435.53 101.9,435.73 102.6,435.92 103.3,436.1 103.99,436.26 104.67,436.4 105.35,436.52 106.03,436.63 106.72,436.75 107.42,436.88 108.15,437.02 108.9,437.2 109.69,437.4 110.52,437.59 111.38,437.78 112.24,437.98 113.11,438.2 113.97,438.42 114.8,438.67 115.6,438.92 116.36,439.19 117.1,439.49 117.82,439.8 118.52,440.12 119.21,440.45 119.91,440.79 120.6,441.11 121.3,441.44 122,441.75 122.71,442.05 123.41,442.35 124.11,442.66 124.8,442.97 125.5,443.28 126.2,443.61 126.9,443.95 127.6,444.31 128.3,444.68 129,445.06 129.7,445.45 130.4,445.84 131.1,446.25 131.8,446.66 132.5,447.07 133.2,447.51 133.9,447.96 134.6,448.42 135.29,448.89 135.99,449.35 136.69,449.81 137.4,450.26 138.1,450.7 138.81,451.12 139.52,451.53 140.23,451.95 140.95,452.35 141.67,452.74 142.38,453.12 143.09,453.48 143.8,453.81 144.5,454.12 145.21,454.39 145.91,454.65 146.61,454.89 147.3,455.13 148,455.36 148.7,455.59 149.4,455.83 150.1,456.08 150.8,456.34 151.5,456.59 152.19,456.85 152.89,457.1 153.59,457.34 154.3,457.58 155,457.8 155.69,458.01 156.35,458.2 157,458.38 157.66,458.56 158.34,458.73 159.06,458.9 159.84,459.08 160.7,459.27 161.64,459.45 162.65,459.59 163.71,459.72 164.82,459.86 165.95,460.03 167.11,460.26 168.26,460.55 169.4,460.92 170.54,461.39 171.7,461.93 172.88,462.54 174.06,463.19 175.25,463.89 176.44,464.62 177.62,465.38 178.8,466.15 179.98,466.95 181.19,467.8 182.4,468.68 183.61,469.59 184.79,470.52 185.95,471.45 187.05,472.37 188.1,473.28 189.08,474.18 190.01,475.09 190.9,476.01 191.75,476.92 192.58,477.83 193.39,478.72 194.19,479.57 195,480.4 195.8,481.18 196.58,481.92 197.35,482.63 198.1,483.32 198.85,484.01 199.59,484.7 200.34,485.39 201.1,486.09 201.86,486.8 202.62,487.52 203.39,488.24 204.15,488.97 204.91,489.73 205.67,490.51 206.44,491.32 207.2,492.18 207.96,493.1 208.72,494.08 209.49,495.11 210.25,496.16 211.01,497.21 211.78,498.25 212.54,499.24 213.3,500.17 214.06,501.05 214.83,501.9 215.59,502.73 216.35,503.53 217.11,504.3 217.88,505.05 218.64,505.77 219.4,506.46 220.18,507.14 220.97,507.81 221.78,508.46 222.58,509.09 223.37,509.67 224.12,510.19 224.84,510.66 225.5,511.05 226.1,511.37 226.64,511.62 227.13,511.81 227.6,511.95 228.06,512.03 228.51,512.08 228.99,512.08 229.5,512.05 230.03,511.99 230.55,511.98 231.08,511.92 231.62,511.83 232.17,511.68 232.75,511.47 233.36,511.2 234,510.86 234.69,510.46 235.41,510.02 236.17,509.53 236.95,508.98 237.74,508.35 238.54,507.63 239.33,506.82 240.1,505.9 240.87,504.86 241.65,503.7 242.44,502.43 243.22,501.08 244,499.67 244.76,498.21 245.49,496.73 246.2,495.25 246.88,493.72 247.56,492.11 248.22,490.45 248.86,488.76 249.48,487.07 250.06,485.4 250.6,483.78 251.1,482.24 251.54,480.78 251.93,479.37 252.27,478 252.59,476.67 252.88,475.34 253.18,474.03 253.48,472.7 253.8,471.35 253.8,495.45 253.48,496.82 253.18,498.17 252.88,499.51 252.59,500.86 252.27,502.22 251.93,503.62 251.54,505.06 251.1,506.56 250.6,508.14 250.06,509.8 249.48,511.51 248.86,513.25 248.22,514.99 247.56,516.71 246.88,518.37 246.2,519.95 245.49,521.49 244.76,523.03 244,524.55 243.22,526.02 242.44,527.43 241.65,528.76 240.87,529.99 240.1,531.1 239.33,532.08 238.54,532.95 237.74,533.73 236.95,534.42 236.17,535.04 235.41,535.59 234.69,536.09 234,536.54 233.36,536.93 232.75,537.25 232.17,537.5 231.62,537.7 231.08,537.84 230.55,537.93 230.03,537.99 229.5,537.95 228.99,537.88 228.51,537.78 228.06,537.65 227.6,537.47 227.13,537.24 226.64,536.94 226.1,536.59 225.5,536.15 224.84,535.63 224.12,535.02 223.37,534.34 222.58,533.6 221.78,532.82 220.97,532.01 220.18,531.18 219.4,530.34 218.64,529.49 217.88,528.62 217.11,527.72 216.35,526.8 215.59,525.85 214.83,524.87 214.06,523.86 213.3,522.83 212.54,521.75 211.78,520.6 211.01,519.42 210.25,518.21 209.49,517.01 208.72,515.83 207.96,514.69 207.2,513.62 206.44,512.61 205.67,511.64 204.91,510.71 204.15,509.8 203.39,508.92 202.62,508.04 201.86,507.18 201.1,506.31 200.34,505.46 199.59,504.67 198.85,503.91 198.1,503.17 197.35,502.42 196.58,501.65 195.8,500.84 195,500 194.19,499.11 193.39,498.19 192.58,497.23 191.75,496.26 190.9,495.28 190.01,494.29 189.08,493.3 188.1,492.32 187.05,491.34 185.95,490.33 184.79,489.3 183.61,488.28 182.4,487.27 181.19,486.29 179.98,485.35 178.8,484.45 177.62,483.59 176.44,482.74 175.25,481.91 174.06,481.12 172.88,480.37 171.7,479.67 170.54,479.04 169.4,478.48 168.26,478.01 167.11,477.62 165.95,477.31 164.82,477.05 163.71,476.82 162.65,476.6 161.64,476.38 160.7,476.13 159.84,475.87 159.06,475.63 158.34,475.4 157.66,475.17 157,474.94 156.35,474.71 155.69,474.46 155,474.2 154.3,473.92 153.59,473.63 152.89,473.33 152.19,473.03 151.5,472.71 150.8,472.4 150.1,472.09 149.4,471.77 148.7,471.46 148,471.16 147.3,470.86 146.61,470.56 145.91,470.24 145.21,469.92 144.5,469.57 143.8,469.19 143.09,468.79 142.38,468.36 141.67,467.91 140.95,467.45 140.23,466.97 139.52,466.49 138.81,466 138.1,465.5 137.4,465 136.69,464.48 135.99,463.95 135.29,463.41 134.6,462.88 133.9,462.35 133.2,461.83 132.5,461.32 131.8,460.84 131.1,460.36 130.4,459.88 129.7,459.42 129,458.96 128.3,458.51 127.6,458.07 126.9,457.65 126.2,457.23 125.5,456.83 124.8,456.45 124.11,456.07 123.41,455.69 122.71,455.32 122,454.95 121.3,454.56 120.6,454.17 119.91,453.78 119.21,453.38 118.52,452.98 117.82,452.58 117.1,452.2 116.36,451.83 115.6,451.48 114.8,451.15 113.97,450.82 113.11,450.51 112.24,450.21 111.38,449.92 110.52,449.64 109.69,449.4 108.9,449.2 108.15,449.02 107.42,448.88 106.72,448.75 106.03,448.63 105.35,448.52 104.67,448.4 103.99,448.26 103.3,448.1 102.6,447.92 101.9,447.73 101.2,447.53 100.51,447.32 99.81,447.11 99.11,446.88 98.4,446.65 97.7,446.4 96.99,446.15 96.28,445.89 95.57,445.63 94.85,445.35 94.13,445.06 93.42,444.76 92.71,444.44 92,444.1 91.3,443.74 90.59,443.35 89.89,442.94 89.19,442.52 88.5,442.09 87.8,441.66 87.1,441.22 86.4,440.8 85.7,440.38 85,439.94 84.3,439.51 83.61,439.07 82.91,438.64 82.21,438.21 81.5,437.8 80.8,437.4 80.09,437.02 79.38,436.64 78.67,436.27 77.95,435.91 77.23,435.56 76.52,435.22 75.81,434.9 75.1,434.6 74.4,434.31 73.69,434.03 72.99,433.76 72.29,433.5 71.6,433.26 70.9,433.05 70.2,432.86 69.5,432.7 68.8,432.57 68.1,432.47 67.4,432.4 66.71,432.34 66.01,432.31 65.31,432.29 64.6,432.29 63.9,432.3 63.19,432.33 62.48,432.38 61.77,432.45 61.06,432.54 60.34,432.63 59.63,432.73 58.91,432.82 58.2,432.9Z" fill="#1f77b4" fill-opacity="0.3"/><path d="M175,420 175.5,420.05 175.99,420.07 176.48,420.08 176.97,420.09 177.46,420.13 177.96,420.2 178.48,420.32 179,420.5 179.54,420.74 180.09,421.02 180.65,421.33 181.22,421.69 181.79,422.08 182.36,422.52 182.93,422.99 183.5,423.5 184.06,424.06 184.62,424.68 185.19,425.32 185.75,425.96 186.31,426.62 186.88,427.31 187.44,428 188,428.7 188.56,429.4 189.12,430.13 189.69,430.87 190.25,431.63 190.81,432.4 191.38,433.18 191.94,433.96 192.5,434.75 193.06,435.54 193.62,436.35 194.19,437.17 194.75,437.99 195.31,438.76 195.88,439.48 196.44,440.19 197,440.9 197.57,441.61 198.15,442.32 198.73,443.03 199.31,443.74 199.89,444.45 200.45,445.15 200.99,445.85 201.5,446.55 201.99,447.24 202.45,447.91 202.89,448.59 203.31,449.26 203.73,449.93 204.15,450.61 204.57,451.3 205,452 205.44,452.71 205.88,453.43 206.31,454.15 206.75,454.88 207.19,455.62 207.62,456.38 208.06,457.15 208.5,457.95 208.94,458.75 209.38,459.55 209.81,460.35 210.25,461.18 210.69,462.03 211.12,462.93 211.56,463.88 212,464.9 212.44,466.01 212.89,467.2 213.34,468.45 213.79,469.74 214.24,471.04 214.67,472.35 215.1,473.6 215.5,474.75 215.89,475.86 216.26,476.94 216.61,478.02 216.96,479.08 217.3,480.14 217.64,481.2 217.97,482.27 218.3,483.35 218.63,484.44 218.95,485.53 219.26,486.62 219.57,487.71 219.88,488.81 220.19,489.91 220.49,491 220.8,492.1 221.09,493.14 221.36,494.09 221.61,495.01 221.87,495.94 222.14,496.95 222.45,498.07 222.8,499.37 223.2,500.9 223.67,502.69 224.19,504.7 224.76,506.89 225.35,508.98 225.96,510.96 226.58,512.95 227.2,514.92 227.8,516.8 228.41,518.64 229.04,520.5 229.68,522.37 230.32,524.23 230.95,526.06 231.55,527.87 232.1,529.61 232.6,531.28 233.04,532.92 233.44,534.57 233.79,536.19 234.12,537.77 234.42,539.28 234.69,540.7 234.95,542 235.2,543.16 235.43,544.16 235.63,545.02 235.8,545.76 235.96,546.4 236.11,546.98 236.24,547.52 236.37,548.05 236.5,548.6 236.62,549.2 236.73,549.83 236.83,550.47 236.93,551.06 237.01,551.61 237.1,552.28 237.2,552.78 237.3,553.1 237.41,553.2 237.52,553.1 237.63,552.83 237.74,552.44 237.85,551.97 237.97,551.44 238.08,550.91 238.2,550.4 238.32,549.93 238.43,549.48 238.55,549 238.66,548.48 238.78,547.89 238.91,547.2 239.05,546.38 239.2,545.4 239.36,544.26 239.52,542.97 239.69,541.56 239.87,540.05 240.06,538.46 240.26,536.8 240.47,535.11 240.7,533.4 240.95,531.63 241.21,529.78 241.5,527.86 241.79,525.89 242.09,523.78 242.39,521.38 242.7,519 243,516.67 243.3,514.31 243.6,511.87 243.91,509.41 244.21,506.96 244.52,504.58 244.84,502.31 245.17,500.21 245.5,498.33 245.84,496.71 246.19,495.32 246.54,494.11 246.89,493.01 247.26,491.96 247.63,490.91 248.01,489.79 248.4,488.3 248.81,486.7 249.24,485.05 249.69,483.37 250.14,481.66 250.59,479.94 251.02,478.22 251.43,476.5 251.8,474.8 252.14,473.05 252.47,471.21 252.77,469.34 253.06,467.49 253.33,465.7 253.58,464.04 253.8,462.56 254,461.3 254.17,460.31 254.3,459.54 254.4,458.95 254.49,458.49 254.56,458.09 254.63,457.71 254.71,457.3 254.8,456.8 254.8,496.8 254.71,497.3 254.63,497.71 254.56,498.09 254.49,498.49 254.4,498.95 254.3,499.54 254.17,500.31 254,501.3 253.8,502.56 253.58,504.04 253.33,505.7 253.06,507.49 252.77,509.34 252.47,511.21 252.14,513.05 251.8,514.8 251.43,516.5 251.02,518.22 250.59,519.94 250.14,521.66 249.69,523.37 249.24,525.05 248.81,526.7 248.4,528.3 248.01,529.79 247.63,531.4 247.26,532.95 246.89,534.48 246.54,536.06 246.19,537.74 245.84,539.59 245.5,541.67 245.17,543.99 244.84,546.52 244.52,549.21 244.21,552.01 243.91,554.87 243.6,557.74 243.3,560.58 243,563.33 242.7,566.07 242.39,568.86 242.09,571.66 241.79,574.61 241.5,577.57 241.21,580.45 240.95,583.21 240.7,585.82 240.47,588.31 240.26,590.73 240.06,593.06 239.87,595.3 239.69,597.41 239.52,599.4 239.36,601.24 239.2,602.92 239.05,604.4 238.91,605.69 238.78,606.82 238.66,607.83 238.55,608.75 238.43,609.61 238.32,610.46 238.2,611.32 238.08,612.23 237.97,613.16 237.85,614.08 237.74,614.94 237.63,615.71 237.52,616.34 237.41,616.82 237.3,617.08 237.2,617.11 237.1,616.92 237.01,616.56 236.93,615.73 236.83,614.73 236.73,613.66 236.62,612.54 236.5,611.4 236.37,610.28 236.24,609.18 236.11,608.05 235.96,606.84 235.8,605.5 235.63,603.98 235.43,602.24 235.2,600.24 234.95,597.99 234.69,595.55 234.42,592.91 234.12,590.09 233.79,587.08 233.44,583.88 233.04,580.49 232.6,576.92 232.1,573.07 231.55,569.97 230.95,566.97 230.32,563.88 229.68,560.73 229.04,557.58 228.41,554.45 227.8,551.4 227.2,548.32 226.58,545.12 225.96,541.89 225.35,538.67 224.76,535.74 224.19,533.22 223.67,530.89 223.2,528.82 222.8,527.05 222.45,525.54 222.14,524.23 221.87,523.06 221.61,521.97 221.36,520.9 221.09,519.79 220.8,518.58 220.49,517.3 220.19,516.02 219.88,514.74 219.57,513.46 219.26,512.18 218.95,510.89 218.63,509.61 218.3,508.33 217.97,507.05 217.64,505.79 217.3,504.52 216.96,503.26 216.61,501.98 216.26,500.7 215.89,499.39 215.5,498.05 215.1,496.66 214.67,495.25 214.24,493.82 213.79,492.38 213.34,490.95 212.89,489.56 212.44,488.24 212,487 211.56,485.85 211.12,484.77 210.69,483.74 210.25,482.75 209.81,481.79 209.38,480.86 208.94,479.93 208.5,479 208.06,478.07 207.62,477.17 207.19,476.28 206.75,475.41 206.31,474.54 205.88,473.69 205.44,472.84 205,472 204.57,471.12 204.15,470.27 203.73,469.42 203.31,468.58 202.89,467.74 202.45,466.89 201.99,466.03 201.5,465.15 200.99,464.25 200.45,463.33 199.89,462.4 199.31,461.46 198.73,460.52 198.15,459.58 197.57,458.64 197,457.7 196.44,456.77 195.88,455.83 195.31,454.88 194.75,453.96 194.19,453.05 193.62,452.15 193.06,451.25 192.5,450.38 191.94,449.5 191.38,448.64 190.81,447.77 190.25,446.92 189.69,446.08 189.12,445.25 188.56,444.44 188,443.65 187.44,442.87 186.88,442.09 186.31,441.32 185.75,440.57 185.19,439.84 184.62,439.18 184.06,438.56 183.5,438 182.93,437.49 182.36,437.02 181.79,436.58 181.22,436.19 180.65,435.83 180.09,435.52 179.54,435.24 179,435 178.48,434.82 177.96,434.7 177.46,434.63 176.97,434.59 176.48,434.58 175.99,434.57 175.5,434.55 175,434.5Z" fill="#ff7f0e" fill-opacity="0.3"/><path d="M175,425.5 175.5,425.46 175.99,425.38 176.48,425.3 176.97,425.22 177.46,425.16 177.96,425.15 178.48,425.19 179,425.3 179.54,425.48 180.09,425.72 180.65,426 181.22,426.33 181.79,426.69 182.36,427.1 182.93,427.53 183.5,428 184.06,428.51 184.62,429.09 185.19,429.69 185.75,430.28 186.31,430.89 186.88,431.51 187.44,432.12 188,432.7 188.56,433.26 189.12,433.81 189.69,434.36 190.25,434.91 190.81,435.47 191.38,436.04 191.94,436.63 192.5,437.25 193.07,437.89 193.65,438.55 194.23,439.23 194.81,439.93 195.39,440.55 195.95,441.16 196.49,441.77 197,442.4 197.49,443.04 197.95,443.69 198.39,444.36 198.81,445.04 199.23,445.73 199.65,446.43 200.07,447.14 200.5,447.85 200.94,448.57 201.38,449.29 201.81,450.02 202.25,450.76 202.69,451.51 203.12,452.27 203.56,453.03 204,453.8 204.44,454.58 204.89,455.36 205.33,456.15 205.78,456.95 206.22,457.76 206.66,458.58 207.09,459.41 207.5,460.25 207.9,461.1 208.3,461.95 208.68,462.81 209.06,463.69 209.43,464.57 209.8,465.48 210.15,466.4 210.5,467.35 210.84,468.32 211.16,469.31 211.47,470.32 211.78,471.34 212.08,472.38 212.39,473.44 212.69,474.51 213,475.6 213.31,476.71 213.62,477.84 213.94,479 214.25,480.16 214.56,481.34 214.88,482.51 215.19,483.65 215.5,484.75 215.81,485.84 216.12,486.94 216.44,488.03 216.75,489.12 217.06,490.22 217.38,491.31 217.69,492.41 218,493.5 218.3,494.53 218.57,495.48 218.83,496.4 219.09,497.33 219.38,498.33 219.7,499.45 220.07,500.74 220.5,502.25 221,504.02 221.57,506.01 222.19,508.17 222.84,510.46 223.51,512.81 224.18,515.17 224.85,517.51 225.5,519.43 226.15,521.18 226.83,522.91 227.52,524.62 228.21,526.33 228.88,528.06 229.51,529.84 230.09,531.68 230.6,533.6 231.03,535.68 231.39,537.93 231.7,540.28 231.97,542.65 232.23,544.96 232.47,547.14 232.72,549.11 233,550.8 233.3,552.21 233.59,553.42 233.89,554.46 234.18,555.35 234.47,556.13 234.76,556.81 235.03,557.44 235.3,558.04 235.56,558.62 235.8,559.16 236.04,559.64 236.27,560.03 236.5,560.32 236.73,560.46 236.96,560.45 237.2,560.9 237.45,561.3 237.7,561.55 237.96,561.64 238.22,561.61 238.48,561.45 238.73,561.19 238.97,560.83 239.2,560.4 239.41,559.89 239.59,559.3 239.76,558.61 239.92,557.82 240.09,556.91 240.27,555.88 240.47,554.71 240.7,553.4 240.95,551.89 241.22,550.15 241.51,548.26 241.81,546.25 242.12,544.02 242.44,541.53 242.77,539.08 243.1,536.73 243.44,534.46 243.79,532.19 244.14,529.93 244.51,527.67 244.88,525.42 245.25,523.17 245.62,520.92 246,518.67 246.38,516.37 246.78,514.02 247.19,511.65 247.6,509.29 248,506.98 248.39,504.5 248.76,502.16 249.1,500 249.41,498.04 249.69,496.26 249.95,494.62 250.2,493.07 250.44,491.58 250.68,490.12 250.93,488.64 251.2,487.1 251.48,485.52 251.78,483.93 252.08,482.35 252.39,480.78 252.69,479.23 252.98,477.71 253.25,476.23 253.5,474.8 253.73,473.42 253.93,472.1 254.12,470.82 254.3,469.57 254.47,468.33 254.64,467.1 254.82,465.86 255,464.6 255,504.6 254.82,505.86 254.64,507.1 254.47,508.33 254.3,509.57 254.12,510.82 253.93,512.1 253.73,513.42 253.5,514.8 253.25,516.23 252.98,517.71 252.69,519.23 252.39,520.78 252.08,522.35 251.78,523.93 251.48,525.52 251.2,527.1 250.93,528.64 250.68,530.12 250.44,531.58 250.2,533.07 249.95,534.62 249.69,536.26 249.41,538.04 249.1,540 248.76,542.16 248.39,544.5 248,546.98 247.6,549.82 247.19,552.73 246.78,555.64 246.38,558.53 246,561.33 245.62,564.08 245.25,566.83 244.88,569.58 244.51,572.33 244.14,575.07 243.79,577.81 243.44,580.54 243.1,583.27 242.77,586.06 242.44,588.94 242.12,591.86 241.81,594.89 241.51,597.92 241.22,600.79 240.95,603.44 240.7,605.82 240.47,607.9 240.27,609.75 240.09,611.39 239.92,612.87 239.76,614.23 239.59,615.5 239.41,616.71 239.2,617.92 238.97,619.12 238.73,620.3 238.48,621.41 238.22,622.44 237.96,623.36 237.7,624.15 237.45,624.78 237.2,625.22 236.96,625.28 236.73,624.26 236.5,623.11 236.27,621.82 236.04,620.41 235.8,618.89 235.56,617.27 235.3,615.56 235.03,613.78 234.76,611.94 234.47,610 234.18,607.95 233.89,605.76 233.59,603.42 233.3,600.91 233,598.2 232.72,595.29 232.47,592.21 232.23,588.96 231.97,585.6 231.7,582.68 231.39,579.71 231.03,576.74 230.6,573.8 230.09,570.86 229.51,567.87 228.88,564.83 228.21,561.75 227.52,558.66 226.83,555.57 226.15,552.49 225.5,549.43 224.85,546.42 224.18,543.68 223.51,540.91 222.84,538.16 222.19,535.49 221.57,532.95 221,530.62 220.5,528.55 220.07,526.78 219.7,525.27 219.38,523.96 219.09,522.78 218.83,521.69 218.57,520.62 218.3,519.51 218,518.3 217.69,517.02 217.38,515.74 217.06,514.46 216.75,513.17 216.44,511.89 216.12,510.61 215.81,509.33 215.5,508.05 215.19,506.76 214.88,505.48 214.56,504.21 214.25,502.94 213.94,501.68 213.62,500.43 213.31,499.2 213,498 212.69,496.82 212.39,495.66 212.08,494.51 211.78,493.38 211.47,492.26 211.16,491.16 210.84,490.07 210.5,489 210.15,487.95 209.8,486.92 209.43,485.9 209.06,484.91 208.68,483.92 208.3,482.94 207.9,481.97 207.5,481 207.09,480.04 206.66,479.08 206.22,478.13 205.78,477.19 205.33,476.25 204.89,475.32 204.44,474.35 204,473.4 203.56,472.45 203.12,471.52 202.69,470.59 202.25,469.66 201.81,468.75 201.38,467.84 200.94,466.94 200.5,466.05 200.07,465.17 199.65,464.29 199.23,463.43 198.81,462.57 198.39,461.72 197.95,460.87 197.49,460.03 197,459.2 196.49,458.37 195.95,457.54 195.39,456.71 194.81,455.9 194.23,455.12 193.65,454.35 193.07,453.6 192.5,452.88 191.94,452.17 191.38,451.5 190.81,450.84 190.25,450.2 189.69,449.57 189.12,448.93 188.56,448.3 188,447.65 187.44,446.98 186.88,446.29 186.31,445.59 185.75,444.89 185.19,444.22 184.62,443.59 184.06,443.01 183.5,442.5 182.93,442.03 182.36,441.6 181.79,441.19 181.22,440.83 180.65,440.5 180.09,440.22 179.54,439.98 179,439.8 178.48,439.69 177.96,439.65 177.46,439.66 176.97,439.72 176.48,439.8 175.99,439.88 175.5,439.96 175,440Z" fill="#ff7f0e" fill-opacity="0.3"/><path d="M58.2,418.4 59.04,418.44 59.87,418.48 60.7,418.51 61.53,418.54 62.37,418.58 63.22,418.64 64.1,418.71 65,418.8 65.95,418.92 66.95,419.05 67.98,419.2 69.02,419.37 70.06,419.54 71.06,419.73 72.02,419.91 72.9,420.1 73.71,420.28 74.46,420.46 75.17,420.63 75.84,420.82 76.5,421.02 77.15,421.25 77.82,421.5 78.5,421.8 79.22,422.15 79.95,422.54 80.7,422.97 81.44,423.42 82.16,423.88 82.85,424.34 83.51,424.78 84.1,425.2 84.62,425.58 85.05,425.92 85.44,426.25 85.8,426.57 86.16,426.92 86.55,427.29 86.98,427.71 87.5,428.2 88.1,428.78 88.77,429.44 89.48,430.16 90.22,430.91 90.98,431.65 91.72,432.37 92.43,433.03 93.1,433.6 93.72,434.09 94.3,434.52 94.85,434.9 95.4,435.25 95.95,435.57 96.5,435.88 97.08,436.19 97.7,436.5 98.35,436.82 99.03,437.13 99.73,437.44 100.44,437.73 101.16,438.01 101.88,438.26 102.59,438.5 103.3,438.7 103.98,438.87 104.65,439.01 105.3,439.12 105.96,439.21 106.63,439.29 107.34,439.36 108.09,439.43 108.9,439.5 109.79,439.56 110.77,439.6 111.8,439.64 112.85,439.66 113.9,439.69 114.93,439.74 115.91,439.8 116.8,439.9 117.62,440.02 118.39,440.15 119.12,440.29 119.81,440.45 120.48,440.63 121.13,440.83 121.77,441.05 122.4,441.3 123.02,441.58 123.63,441.88 124.22,442.2 124.79,442.54 125.34,442.91 125.88,443.29 126.4,443.69 126.9,444.1 127.38,444.53 127.83,444.98 128.26,445.46 128.68,445.94 129.08,446.45 129.48,446.96 129.89,447.48 130.3,448 130.72,448.53 131.13,449.08 131.54,449.64 131.95,450.21 132.36,450.79 132.77,451.36 133.18,451.93 133.6,452.5 134.02,453.06 134.44,453.61 134.87,454.16 135.29,454.71 135.72,455.27 136.15,455.83 136.57,456.41 137,457 137.43,457.61 137.85,458.24 138.28,458.87 138.7,459.52 139.12,460.17 139.55,460.82 139.97,461.46 140.4,462.1 140.82,462.74 141.22,463.38 141.63,464.02 142.03,464.66 142.44,465.29 142.87,465.91 143.32,466.51 143.8,467.1 144.31,467.67 144.85,468.23 145.41,468.79 145.98,469.33 146.56,469.85 147.15,470.35 147.73,470.84 148.3,471.3 148.85,471.73 149.4,472.13 149.94,472.51 150.48,472.88 151.03,473.23 151.6,473.58 152.18,473.93 152.8,474.3 153.45,474.68 154.12,475.06 154.82,475.44 155.53,475.82 156.25,476.2 156.97,476.57 157.69,476.94 158.4,477.3 159.09,477.65 159.78,478 160.46,478.34 161.14,478.68 161.83,479.02 162.53,479.35 163.25,479.67 164,480 164.77,480.31 165.54,480.6 166.33,480.88 167.14,481.16 167.96,481.45 168.81,481.77 169.69,482.11 170.6,482.5 171.54,482.92 172.51,483.35 173.51,483.81 174.53,484.29 175.57,484.81 176.64,485.36 177.71,485.96 178.8,486.6 179.91,487.31 181.05,488.08 182.2,488.9 183.38,489.75 184.56,490.62 185.74,491.5 186.93,492.36 188.1,493.2 189.29,494.03 190.51,494.88 191.75,495.74 192.97,496.59 194.18,497.43 195.35,498.23 196.46,498.99 197.5,499.7 198.45,500.35 199.34,500.95 200.17,501.51 200.96,502.04 201.73,502.54 202.48,503.03 203.23,503.52 204,504 204.77,504.49 205.54,504.97 206.29,505.44 207.03,505.89 207.77,506.33 208.51,506.75 209.25,507.14 210,507.5 210.75,507.84 211.5,508.16 212.25,508.46 213,508.74 213.75,508.98 214.5,509.2 215.25,509.37 216,509.5 216.75,509.59 217.5,509.63 218.25,509.64 219,509.61 219.75,509.55 220.5,509.46 221.25,509.34 222,509.2 222.75,509.01 223.5,508.77 224.25,508.5 225,508.19 225.75,507.88 226.5,507.57 227.25,507.27 228,507 228.76,506.76 229.52,506.54 230.29,506.34 231.06,506.13 231.82,505.92 232.57,505.7 233.3,505.47 234,505.2 234.67,504.92 235.32,504.62 235.96,504.32 236.58,504 237.18,503.66 237.79,503.3 238.39,502.92 239,502.5 239.61,502.07 240.21,501.63 240.81,501.17 241.41,500.69 242,500.17 242.6,499.6 243.2,498.98 243.8,498.3 244.42,497.54 245.05,496.7 245.69,495.8 246.33,494.86 246.95,493.9 247.56,492.92 248.15,491.95 248.7,491 249.23,490.04 249.74,489.03 250.23,488.01 250.7,486.99 251.15,485.99 251.56,485.05 251.95,484.17 252.3,483.4 252.6,482.74 252.86,482.16 253.08,481.67 253.27,481.22 253.45,480.8 253.62,480.39 253.8,479.96 254,479.5" fill="none" stroke="#1f77b4" stroke-width="2.29" stroke-linejoin="round" stroke-linecap="butt"/><path d="M58.2,426.9 58.91,426.82 59.63,426.73 60.34,426.63 61.06,426.54 61.77,426.45 62.48,426.38 63.19,426.33 63.9,426.3 64.6,426.29 65.31,426.29 66.01,426.31 66.71,426.34 67.4,426.4 68.1,426.47 68.8,426.57 69.5,426.7 70.2,426.86 70.9,427.05 71.6,427.26 72.29,427.5 72.99,427.76 73.69,428.03 74.4,428.31 75.1,428.6 75.81,428.9 76.52,429.22 77.23,429.56 77.95,429.91 78.67,430.27 79.38,430.64 80.09,431.02 80.8,431.4 81.5,431.8 82.21,432.21 82.91,432.64 83.61,433.07 84.3,433.51 85,433.94 85.7,434.38 86.4,434.8 87.1,435.22 87.8,435.66 88.5,436.09 89.19,436.52 89.89,436.94 90.59,437.35 91.3,437.74 92,438.1 92.71,438.44 93.42,438.76 94.13,439.06 94.85,439.35 95.57,439.63 96.28,439.89 96.99,440.15 97.7,440.4 98.4,440.65 99.11,440.88 99.81,441.11 100.51,441.32 101.2,441.53 101.9,441.73 102.6,441.92 103.3,442.1 103.99,442.26 104.67,442.4 105.35,442.52 106.03,442.63 106.72,442.75 107.42,442.88 108.15,443.02 108.9,443.2 109.69,443.4 110.52,443.62 111.38,443.85 112.24,444.09 113.11,444.35 113.97,444.62 114.8,444.91 115.6,445.2 116.36,445.51 117.1,445.84 117.82,446.19 118.52,446.55 119.21,446.91 119.91,447.28 120.6,447.64 121.3,448 122,448.35 122.71,448.69 123.41,449.02 124.11,449.36 124.8,449.71 125.5,450.06 126.2,450.42 126.9,450.8 127.6,451.19 128.3,451.6 129,452.01 129.7,452.43 130.4,452.86 131.1,453.3 131.8,453.75 132.5,454.2 133.2,454.67 133.9,455.15 134.6,455.65 135.29,456.15 135.99,456.65 136.69,457.15 137.4,457.63 138.1,458.1 138.81,458.56 139.52,459.01 140.23,459.46 140.95,459.9 141.67,460.33 142.38,460.74 143.09,461.13 143.8,461.5 144.5,461.84 145.21,462.15 145.91,462.45 146.61,462.73 147.3,462.99 148,463.26 148.7,463.52 149.4,463.8 150.1,464.08 150.8,464.37 151.5,464.65 152.19,464.94 152.89,465.22 153.59,465.49 154.3,465.75 155,466 155.69,466.23 156.35,466.45 157,466.66 157.66,466.86 158.34,467.06 159.06,467.27 159.84,467.48 160.7,467.7 161.64,467.91 162.65,468.09 163.71,468.27 164.82,468.46 165.95,468.67 167.11,468.94 168.26,469.28 169.4,469.7 170.54,470.21 171.7,470.8 172.88,471.45 174.06,472.16 175.25,472.9 176.44,473.68 177.62,474.48 178.8,475.3 179.98,476.15 181.19,477.04 182.4,477.98 183.61,478.94 184.79,479.91 185.95,480.89 187.05,481.85 188.1,482.8 189.08,483.74 190.01,484.69 190.9,485.64 191.75,486.59 192.58,487.53 193.39,488.45 194.19,489.34 195,490.2 195.8,491.01 196.58,491.78 197.35,492.52 198.1,493.24 198.85,493.96 199.59,494.68 200.34,495.43 201.1,496.2 201.86,496.99 202.62,497.78 203.39,498.58 204.15,499.39 204.91,500.22 205.67,501.07 206.44,501.97 207.2,502.9 207.96,503.9 208.72,504.96 209.49,506.06 210.25,507.19 211.01,508.32 211.78,509.43 212.54,510.49 213.3,511.5 214.06,512.46 214.83,513.38 215.59,514.29 216.35,515.16 217.11,516.01 217.88,516.83 218.64,517.63 219.4,518.4 220.18,519.16 220.97,519.91 221.78,520.64 222.58,521.34 223.37,522 224.12,522.61 224.84,523.14 225.5,523.6 226.1,523.98 226.64,524.28 227.13,524.52 227.6,524.71 228.06,524.84 228.51,524.93 228.99,524.98 229.5,525 230.03,524.99 230.55,524.96 231.08,524.88 231.62,524.76 232.17,524.59 232.75,524.36 233.36,524.07 234,523.7 234.69,523.28 235.41,522.81 236.17,522.29 236.95,521.7 237.74,521.04 238.54,520.29 239.33,519.45 240.1,518.5 240.87,517.43 241.65,516.23 242.44,514.93 243.22,513.55 244,512.11 244.76,510.62 245.49,509.11 246.2,507.6 246.88,506.05 247.56,504.41 248.22,502.72 248.86,501.01 249.48,499.29 250.06,497.6 250.6,495.96 251.1,494.4 251.54,492.92 251.93,491.5 252.27,490.11 252.59,488.76 252.88,487.43 253.18,486.1 253.48,484.76 253.8,483.4" fill="none" stroke="#1f77b4" stroke-width="2.29" stroke-linejoin="round" stroke-linecap="butt"/><line x1="58.2" y1="445.55" x2="255.5" y2="445.55" stroke="#000" stroke-width="2.29" stroke-dasharray="8.48 3.67"/><path d="M175,428 175.5,428.05 175.99,428.07 176.48,428.08 176.97,428.09 177.46,428.13 177.96,428.2 178.48,428.32 179,428.5 179.54,428.74 180.09,429.02 180.65,429.33 181.22,429.69 181.79,430.08 182.36,430.52 182.93,430.99 183.5,431.5 184.06,432.06 184.62,432.68 185.19,433.34 185.75,434.03 186.31,434.75 186.88,435.5 187.44,436.25 188,437 188.56,437.76 189.12,438.54 189.69,439.34 190.25,440.16 190.81,440.98 191.38,441.82 191.94,442.66 192.5,443.5 193.06,444.35 193.62,445.21 194.19,446.09 194.75,446.97 195.31,447.85 195.88,448.74 196.44,449.62 197,450.5 197.57,451.38 198.15,452.26 198.73,453.15 199.31,454.03 199.89,454.91 200.45,455.79 200.99,456.65 201.5,457.5 201.99,458.33 202.45,459.15 202.89,459.95 203.31,460.75 203.73,461.55 204.15,462.35 204.57,463.17 205,464 205.44,464.84 205.88,465.69 206.31,466.54 206.75,467.41 207.19,468.28 207.62,469.17 208.06,470.07 208.5,471 208.94,471.93 209.38,472.86 209.81,473.79 210.25,474.75 210.69,475.74 211.12,476.77 211.56,477.85 212,479 212.44,480.24 212.89,481.56 213.34,482.95 213.79,484.38 214.24,485.82 214.67,487.25 215.1,488.65 215.5,490 215.89,491.3 216.26,492.57 216.61,493.82 216.96,495.06 217.3,496.29 217.64,497.52 217.97,498.76 218.3,500 218.63,501.25 218.95,502.5 219.26,503.75 219.57,505 219.88,506.25 220.19,507.5 220.49,508.75 220.8,510 221.09,511.18 221.36,512.27 221.61,513.31 221.87,514.38 222.14,515.52 222.45,516.8 222.8,518.27 223.2,520 223.67,522.02 224.19,524.3 224.76,526.77 225.35,529.38 225.96,532.06 226.58,534.77 227.2,537.43 227.8,540 228.41,542.53 229.04,545.12 229.68,547.72 230.32,550.31 230.95,552.87 231.55,555.35 232.1,557.74 232.6,560 233.04,562.17 233.44,564.29 233.79,566.34 234.12,568.31 234.42,570.18 234.69,571.93 234.95,573.54 235.2,575 235.43,576.27 235.63,577.37 235.8,578.32 235.96,579.16 236.11,579.91 236.24,580.61 236.37,581.3 236.5,582 236.62,582.74 236.73,583.51 236.83,584.27 236.93,584.97 237.01,585.58 237.1,586.07 237.2,586.39 237.3,586.5 237.41,586.39 237.52,586.07 237.63,585.58 237.74,584.97 237.85,584.27 237.97,583.51 238.08,582.74 238.2,582 238.32,581.3 238.43,580.61 238.55,579.91 238.66,579.16 238.78,578.32 238.91,577.37 239.05,576.27 239.2,575 239.36,573.54 239.52,571.93 239.69,570.18 239.87,568.31 240.06,566.34 240.26,564.29 240.47,562.17 240.7,560 240.95,557.74 241.21,555.35 241.5,552.87 241.79,550.31 242.09,547.72 242.39,545.12 242.7,542.53 243,540 243.3,537.44 243.6,534.81 243.91,532.14 244.21,529.48 244.52,526.89 244.84,524.42 245.17,522.1 245.5,520 245.84,518.15 246.19,516.53 246.54,515.08 246.89,513.74 247.26,512.45 247.63,511.16 248.01,509.79 248.4,508.3 248.81,506.7 249.24,505.05 249.69,503.37 250.14,501.66 250.59,499.94 251.02,498.22 251.43,496.5 251.8,494.8 252.14,493.05 252.47,491.21 252.77,489.34 253.06,487.49 253.33,485.7 253.58,484.04 253.8,482.56 254,481.3 254.17,480.31 254.3,479.54 254.4,478.95 254.49,478.49 254.56,478.09 254.63,477.71 254.71,477.3 254.8,476.8" fill="none" stroke="#ff7f0e" stroke-width="2.29" stroke-linejoin="round" stroke-linecap="butt"/><path d="M175,433.5 175.5,433.46 175.99,433.38 176.48,433.3 176.97,433.22 177.46,433.16 177.96,433.15 178.48,433.19 179,433.3 179.54,433.48 180.09,433.72 180.65,434 181.22,434.33 181.79,434.69 182.36,435.1 182.93,435.53 183.5,436 184.06,436.51 184.62,437.09 185.19,437.71 185.75,438.36 186.31,439.02 186.88,439.7 187.44,440.36 188,441 188.56,441.62 189.12,442.23 189.69,442.83 190.25,443.44 190.81,444.05 191.38,444.68 191.94,445.33 192.5,446 193.07,446.7 193.65,447.42 194.23,448.15 194.81,448.91 195.39,449.67 195.95,450.44 196.49,451.22 197,452 197.49,452.79 197.95,453.58 198.39,454.38 198.81,455.19 199.23,456 199.65,456.83 200.07,457.66 200.5,458.5 200.94,459.35 201.38,460.2 201.81,461.07 202.25,461.94 202.69,462.82 203.12,463.7 203.56,464.6 204,465.5 204.44,466.41 204.89,467.33 205.33,468.25 205.78,469.19 206.22,470.13 206.66,471.08 207.09,472.04 207.5,473 207.9,473.97 208.3,474.94 208.68,475.92 209.06,476.91 209.43,477.9 209.8,478.92 210.15,479.95 210.5,481 210.84,482.07 211.16,483.16 211.47,484.26 211.78,485.38 212.08,486.51 212.39,487.66 212.69,488.82 213,490 213.31,491.2 213.62,492.43 213.94,493.68 214.25,494.94 214.56,496.21 214.88,497.48 215.19,498.74 215.5,500 215.81,501.25 216.12,502.5 216.44,503.75 216.75,505 217.06,506.25 217.38,507.5 217.69,508.75 218,510 218.3,511.18 218.57,512.27 218.83,513.31 219.09,514.38 219.38,515.52 219.7,516.8 220.07,518.27 220.5,520 221,522.02 221.57,524.3 222.19,526.77 222.84,529.38 223.51,532.06 224.18,534.77 224.85,537.43 225.5,540 226.15,542.5 226.83,545 227.52,547.5 228.21,550 228.88,552.5 229.51,555 230.09,557.5 230.6,560 231.03,562.57 231.39,565.23 231.7,567.94 231.97,570.62 232.23,573.23 232.47,575.7 232.72,577.98 233,580 233.3,581.77 233.59,583.33 233.89,584.72 234.18,585.97 234.47,587.09 234.76,588.12 235.03,589.08 235.3,590 235.56,590.89 235.8,591.72 236.04,592.49 236.27,593.16 236.5,593.71 236.73,594.14 236.96,594.41 237.2,594.5 237.45,594.41 237.7,594.14 237.96,593.71 238.22,593.16 238.48,592.49 238.73,591.72 238.97,590.89 239.2,590 239.41,589.08 239.59,588.12 239.76,587.09 239.92,585.97 240.09,584.72 240.27,583.33 240.47,581.77 240.7,580 240.95,577.98 241.22,575.7 241.51,573.23 241.81,570.62 242.12,567.94 242.44,565.23 242.77,562.57 243.1,560 243.44,557.5 243.79,555 244.14,552.5 244.51,550 244.88,547.5 245.25,545 245.62,542.5 246,540 246.38,537.45 246.78,534.83 247.19,532.19 247.6,529.56 248,526.98 248.39,524.5 248.76,522.16 249.1,520 249.41,518.04 249.69,516.26 249.95,514.62 250.2,513.07 250.44,511.58 250.68,510.12 250.93,508.64 251.2,507.1 251.48,505.52 251.78,503.93 252.08,502.35 252.39,500.78 252.69,499.23 252.98,497.71 253.25,496.23 253.5,494.8 253.73,493.42 253.93,492.1 254.12,490.82 254.3,489.57 254.47,488.33 254.64,487.1 254.82,485.86 255,484.6" fill="none" stroke="#ff7f0e" stroke-width="2.29" stroke-linejoin="round" stroke-linecap="butt"/></g><rect x="58.2" y="412.8" width="197.3" height="212.2" fill="none" stroke="#000" stroke-width="1.22"/><line x1="52.85" y1="445.55" x2="58.2" y2="445.55" stroke="#000" stroke-width="1.22"/><text x="47.5" y="450.15" font-size="13.05" text-anchor="end" textLength="7.76" lengthAdjust="spacingAndGlyphs">0</text><line x1="52.85" y1="490.41" x2="58.2" y2="490.41" stroke="#000" stroke-width="1.22"/><text x="47.5" y="495.01" font-size="13.05" text-anchor="end" textLength="25.75" lengthAdjust="spacingAndGlyphs">−20</text><line x1="52.85" y1="535.28" x2="58.2" y2="535.28" stroke="#000" stroke-width="1.22"/><text x="47.5" y="539.88" font-size="13.05" text-anchor="end" textLength="25.75" lengthAdjust="spacingAndGlyphs">−40</text><line x1="52.85" y1="580.14" x2="58.2" y2="580.14" stroke="#000" stroke-width="1.22"/><text x="47.5" y="584.74" font-size="13.05" text-anchor="end" textLength="25.75" lengthAdjust="spacingAndGlyphs">−60</text><line x1="52.85" y1="625" x2="58.2" y2="625" stroke="#000" stroke-width="1.22"/><text x="47.5" y="629.6" font-size="13.05" text-anchor="end" textLength="25.75" lengthAdjust="spacingAndGlyphs">−80</text><line x1="109.5" y1="625" x2="109.5" y2="630.35" stroke="#000" stroke-width="1.22"/><text x="109.5" y="645" font-size="13.05" text-anchor="middle" textLength="27.16" lengthAdjust="spacingAndGlyphs">0.96</text><line x1="182.5" y1="625" x2="182.5" y2="630.35" stroke="#000" stroke-width="1.22"/><text x="182.5" y="645" font-size="13.05" text-anchor="middle" textLength="27.16" lengthAdjust="spacingAndGlyphs">0.98</text><line x1="255.5" y1="625" x2="255.5" y2="630.35" stroke="#000" stroke-width="1.22"/><text x="255.5" y="645" font-size="13.05" text-anchor="middle" textLength="27.16" lengthAdjust="spacingAndGlyphs">1.00</text><rect x="64.3" y="579.5" width="102" height="38.9" rx="2.5" fill="#fff" fill-opacity="0.8" stroke="#d0d0d0" stroke-width="1.1"/><line x1="68.4" y1="589.1" x2="94.7" y2="589.1" stroke="#1f77b4" stroke-width="2.29"/><line x1="68.4" y1="606.7" x2="94.7" y2="606.7" stroke="#ff7f0e" stroke-width="2.29"/><text x="103.3" y="593.4" font-size="13" textLength="50.6" lengthAdjust="spacingAndGlyphs"><tspan font-style="italic">α</tspan> = 0.0π</text><text x="103.3" y="611.0" font-size="13" textLength="57.4" lengthAdjust="spacingAndGlyphs"><tspan font-style="italic">α</tspan> = 0.46π</text><text x="17.2" y="400.8" font-size="16.37" text-anchor="start" textLength="21.65" lengthAdjust="spacingAndGlyphs">(b)</text><g transform="translate(12.2 519.3) rotate(-90)"><text x="-35" y="0" font-size="16.2" font-style="italic" textLength="9.7" lengthAdjust="spacingAndGlyphs">E</text><text x="-25.3" y="3" font-size="11.4" textLength="4.4" lengthAdjust="spacingAndGlyphs">r</text><text x="-16" y="0" font-size="16.2" textLength="51.3" lengthAdjust="spacingAndGlyphs">[kV/m]</text></g><text x="143.65" y="663.3" font-size="16.2" font-style="italic" textLength="9" lengthAdjust="spacingAndGlyphs">ρ</text><text x="153.25" y="666.2" font-size="11.4" textLength="15" lengthAdjust="spacingAndGlyphs">pol</text><g clip-path="url(#cpc)"><line x1="322.7" y1="518.8" x2="520.2" y2="518.8" stroke="#000" stroke-width="2.29" stroke-dasharray="8.48 3.67"/><path d="M322.7,513 329,516.5 336,520.5 343,524.4 349.5,528 349.5,529.6 343,526.6 336,523.4 329,520.2 322.7,517.2Z" fill="#1f77b4" fill-opacity="1"/><path d="M322.7,513 323.48,513.43 324.26,513.86 325.03,514.29 325.81,514.72 326.59,515.15 327.38,515.59 328.18,516.04 329,516.5 329.84,516.98 330.7,517.47 331.57,517.97 332.46,518.48 333.34,518.99 334.23,519.5 335.12,520 336,520.5 336.88,520.99 337.76,521.49 338.65,521.98 339.53,522.47 340.41,522.96 341.29,523.45 342.15,523.93 343,524.4 343.86,524.89 344.74,525.42 345.63,525.96 346.5,526.48 347.34,526.97 348.13,527.4 348.86,527.75 349.5,528 350.03,528.13 350.46,528.17 350.82,528.14 351.13,528.04 351.43,527.9 351.73,527.73 352.08,527.56 352.5,527.4 352.97,527.24 353.45,527.05 353.95,526.83 354.48,526.61 355.03,526.36 355.61,526.11 356.24,525.86 356.9,525.6 357.63,525.33 358.44,525.05 359.3,524.76 360.19,524.46 361.07,524.16 361.94,523.86 362.76,523.57 363.5,523.3 364.18,523.04 364.83,522.8 365.45,522.56 366.03,522.33 366.59,522.09 367.12,521.87 367.62,521.63 368.1,521.4 368.53,521.16 368.9,520.91 369.24,520.67 369.55,520.42 369.86,520.18 370.2,519.94 370.57,519.71 371,519.5 371.5,519.29 372.05,519.07 372.64,518.85 373.24,518.65 373.86,518.46 374.47,518.3 375.05,518.18 375.6,518.1 376.11,518.06 376.61,518.04 377.08,518.05 377.55,518.09 378.01,518.16 378.47,518.27 378.93,518.41 379.4,518.6 379.88,518.83 380.35,519.11 380.83,519.42 381.31,519.77 381.78,520.15 382.26,520.55 382.73,520.97 383.2,521.4 383.67,521.86 384.15,522.36 384.62,522.89 385.09,523.44 385.56,523.99 386.02,524.55 386.47,525.08 386.9,525.6 387.32,526.09 387.73,526.55 388.13,527.01 388.52,527.46 388.91,527.92 389.28,528.39 389.65,528.88 390,529.4 390.33,529.95 390.62,530.52 390.89,531.1 391.16,531.71 391.44,532.32 391.75,532.94 392.1,533.57 392.5,534.2 392.96,534.86 393.46,535.56 393.99,536.29 394.56,537.01 395.14,537.72 395.75,538.38 396.37,538.98 397,539.5 397.65,539.96 398.32,540.39 399.02,540.78 399.72,541.11 400.44,541.38 401.17,541.58 401.89,541.69 402.6,541.7 403.31,541.6 404.02,541.41 404.73,541.13 405.45,540.78 406.17,540.35 406.88,539.88 407.59,539.36 408.3,538.8 409.01,538.17 409.73,537.44 410.46,536.64 411.18,535.8 411.88,534.95 412.58,534.11 413.25,533.32 413.9,532.6 414.52,531.94 415.1,531.32 415.67,530.71 416.22,530.14 416.76,529.59 417.3,529.07 417.85,528.57 418.4,528.1 418.96,527.67 419.5,527.28 420.04,526.92 420.59,526.59 421.14,526.27 421.7,525.95 422.29,525.63 422.9,525.3 423.54,524.92 424.2,524.5 424.88,524.06 425.58,523.63 426.29,523.24 426.99,522.92 427.7,522.7 428.4,522.6 429.1,522.64 429.79,522.8 430.49,523.05 431.19,523.37 431.9,523.74 432.6,524.13 433.3,524.53 434,524.9 434.7,525.28 435.4,525.69 436.1,526.12 436.79,526.57 437.49,527.02 438.19,527.47 438.9,527.9 439.6,528.3 440.31,528.69 441.02,529.08 441.73,529.47 442.45,529.84 443.17,530.2 443.88,530.53 444.59,530.84 445.3,531.1 445.99,531.32 446.65,531.51 447.31,531.67 447.96,531.8 448.64,531.91 449.34,532.01 450.09,532.11 450.9,532.2 451.79,532.3 452.77,532.39 453.8,532.48 454.85,532.56 455.9,532.62 456.93,532.65 457.91,532.65 458.8,532.6 459.61,532.51 460.36,532.39 461.07,532.23 461.74,532.05 462.4,531.84 463.05,531.61 463.72,531.36 464.4,531.1 465.1,530.82 465.82,530.51 466.53,530.17 467.24,529.82 467.95,529.45 468.65,529.07 469.33,528.69 470,528.3 470.65,527.91 471.27,527.5 471.89,527.09 472.49,526.67 473.09,526.24 473.69,525.8 474.29,525.35 474.9,524.9 475.53,524.43 476.17,523.94 476.83,523.43 477.47,522.93 478.11,522.42 478.72,521.92 479.28,521.45 479.8,521 480.26,520.58 480.67,520.17 481.03,519.77 481.38,519.39 481.7,519.02 482.02,518.67 482.35,518.33 482.7,518 483.06,517.67 483.4,517.33 483.74,517 484.09,516.69 484.44,516.41 484.8,516.17 485.19,516 485.6,515.9 486.03,515.89 486.48,515.96 486.95,516.1 487.43,516.27 487.92,516.48 488.43,516.7 488.96,516.91 489.5,517.1 490.07,517.3 490.68,517.55 491.31,517.82 491.95,518.08 492.59,518.32 493.22,518.5 493.83,518.6 494.4,518.6 494.94,518.49 495.47,518.3 495.98,518.03 496.47,517.71 496.95,517.35 497.42,516.95 497.87,516.53 498.3,516.1 498.71,515.65 499.1,515.15 499.46,514.62 499.81,514.06 500.16,513.49 500.5,512.92 500.84,512.35 501.2,511.8 501.56,511.26 501.9,510.7 502.24,510.14 502.59,509.59 502.94,509.04 503.3,508.5 503.69,507.99 504.1,507.5 504.53,507.03 504.98,506.56 505.45,506.11 505.93,505.67 506.42,505.25 506.93,504.87 507.46,504.51 508,504.2 508.58,503.93 509.21,503.69 509.87,503.49 510.54,503.32 511.19,503.17 511.82,503.04 512.4,502.91 512.9,502.8 513.33,502.7 513.69,502.63 514.01,502.58 514.3,502.54 514.57,502.51 514.83,502.48 515.1,502.44 515.4,502.4" fill="none" stroke="#1f77b4" stroke-width="2.29" stroke-linejoin="round" stroke-linecap="butt"/><path d="M322.7,517.2 323.48,517.57 324.26,517.95 325.03,518.32 325.81,518.69 326.59,519.06 327.38,519.44 328.18,519.82 329,520.2 329.84,520.59 330.7,520.99 331.57,521.39 332.46,521.79 333.34,522.19 334.23,522.6 335.12,523 336,523.4 336.88,523.8 337.76,524.2 338.65,524.61 339.53,525.01 340.41,525.41 341.29,525.81 342.15,526.21 343,526.6 343.87,526.98 344.78,527.36 345.7,527.74 346.61,528.11 347.47,528.48 348.25,528.85 348.94,529.23 349.5,529.6 349.9,529.99 350.16,530.39 350.31,530.8 350.39,531.21 350.44,531.61 350.5,531.98 350.61,532.31 350.8,532.6 351.06,532.85 351.35,533.09 351.65,533.29 351.98,533.47 352.33,533.61 352.7,533.72 353.09,533.78 353.5,533.8 353.94,533.77 354.43,533.68 354.95,533.55 355.48,533.38 356.02,533.19 356.54,532.97 357.04,532.74 357.5,532.5 357.92,532.25 358.32,531.98 358.7,531.68 359.06,531.37 359.42,531.04 359.77,530.7 360.13,530.35 360.5,530 360.88,529.63 361.25,529.24 361.62,528.84 362,528.43 362.38,528.02 362.75,527.6 363.12,527.2 363.5,526.8 363.88,526.41 364.25,526.02 364.62,525.63 365,525.24 365.38,524.86 365.75,524.49 366.12,524.14 366.5,523.8 366.88,523.48 367.26,523.17 367.65,522.87 368.04,522.58 368.42,522.31 368.79,522.05 369.15,521.82 369.5,521.6 369.81,521.39 370.07,521.19 370.3,521 370.54,520.83 370.79,520.68 371.09,520.57 371.45,520.51 371.9,520.5 372.45,520.55 373.1,520.64 373.81,520.78 374.56,520.96 375.33,521.16 376.09,521.39 376.82,521.64 377.5,521.9 378.13,522.19 378.74,522.51 379.33,522.87 379.91,523.24 380.48,523.63 381.05,524 381.62,524.36 382.2,524.7 382.78,525.02 383.35,525.33 383.92,525.64 384.49,525.94 385.07,526.23 385.66,526.5 386.27,526.76 386.9,527 387.56,527.23 388.24,527.46 388.94,527.67 389.65,527.87 390.37,528.05 391.09,528.2 391.8,528.32 392.5,528.4 393.19,528.44 393.88,528.44 394.56,528.41 395.24,528.35 395.92,528.27 396.61,528.18 397.3,528.09 398,528 398.67,527.91 399.3,527.81 399.92,527.7 400.54,527.58 401.22,527.45 401.96,527.31 402.81,527.16 403.8,527 404.96,526.82 406.3,526.61 407.75,526.39 409.27,526.16 410.8,525.92 412.31,525.7 413.72,525.49 415,525.3 416.16,525.12 417.27,524.95 418.33,524.78 419.33,524.62 420.29,524.48 421.2,524.36 422.07,524.27 422.9,524.2 423.68,524.16 424.4,524.14 425.07,524.14 425.69,524.16 426.29,524.2 426.87,524.27 427.43,524.37 428,524.5 428.55,524.67 429.07,524.87 429.57,525.11 430.05,525.38 430.53,525.65 431,525.94 431.49,526.22 432,526.5 432.51,526.77 433.02,527.03 433.53,527.29 434.05,527.56 434.58,527.84 435.13,528.14 435.7,528.46 436.3,528.8 436.94,529.17 437.61,529.57 438.3,529.99 439.02,530.43 439.74,530.88 440.47,531.32 441.19,531.77 441.9,532.2 442.6,532.64 443.3,533.09 444,533.55 444.7,534.01 445.4,534.45 446.1,534.87 446.8,535.26 447.5,535.6 448.2,535.9 448.9,536.16 449.6,536.39 450.29,536.59 450.99,536.78 451.69,536.96 452.4,537.13 453.1,537.3 453.81,537.47 454.52,537.62 455.23,537.76 455.95,537.89 456.67,538.01 457.38,538.14 458.09,538.27 458.8,538.4 459.5,538.54 460.21,538.69 460.91,538.83 461.61,538.98 462.3,539.12 463,539.26 463.7,539.39 464.4,539.5 465.1,539.6 465.8,539.7 466.5,539.79 467.19,539.87 467.89,539.94 468.59,540 469.3,540.06 470,540.1 470.72,540.14 471.45,540.18 472.18,540.22 472.92,540.24 473.65,540.25 474.36,540.23 475.04,540.19 475.7,540.1 476.32,539.98 476.9,539.85 477.46,539.68 478.01,539.49 478.54,539.27 479.08,539.02 479.63,538.73 480.2,538.4 480.79,538.02 481.39,537.59 481.99,537.11 482.6,536.61 483.21,536.08 483.81,535.55 484.41,535.02 485,534.5 485.58,534 486.16,533.52 486.74,533.03 487.31,532.54 487.87,532.03 488.42,531.49 488.97,530.92 489.5,530.3 490.02,529.62 490.54,528.89 491.05,528.11 491.55,527.31 492.04,526.51 492.51,525.71 492.96,524.93 493.4,524.2 493.81,523.51 494.19,522.84 494.56,522.2 494.91,521.56 495.25,520.93 495.59,520.3 495.94,519.66 496.3,519 496.66,518.34 497.02,517.69 497.38,517.03 497.74,516.38 498.1,515.7 498.48,515 498.88,514.27 499.3,513.5 499.74,512.68 500.21,511.81 500.7,510.91 501.19,509.98 501.7,509.05 502.2,508.11 502.71,507.19 503.2,506.3 503.69,505.43 504.18,504.58 504.66,503.74 505.15,502.9 505.64,502.06 506.12,501.22 506.61,500.37 507.1,499.5 507.6,498.59 508.12,497.62 508.65,496.63 509.17,495.64 509.68,494.69 510.16,493.79 510.6,492.99 511,492.3 511.34,491.73 511.62,491.26 511.87,490.87 512.09,490.55 512.3,490.28 512.52,490.04 512.74,489.82 513,489.6 513.28,489.41 513.57,489.27 513.87,489.16 514.18,489.08 514.48,489.02 514.79,488.96 515.1,488.89 515.4,488.8" fill="none" stroke="#1f77b4" stroke-width="2.29" stroke-linejoin="round" stroke-linecap="butt"/><path d="M439.6,517 443,523.8 446.4,530.5 449.5,537.5 451,536.3 455,537.5 459.5,540.5 464,548 468.5,557 473,563 479.8,566 483.5,579.5 488,593 492.5,608 496.5,630" fill="none" stroke="#ff7f0e" stroke-width="2.29" stroke-linejoin="round" stroke-linecap="butt"/><path d="M439.6,517 443,523.8 446.4,530.5 449.5,537.5 452,536.7 458.8,538.4 465.5,542.9 472.3,550 476,557 481.3,561.5 485,576.5 491,593 495.5,608 498.3,625 499.3,630" fill="none" stroke="#ff7f0e" stroke-width="2.29" stroke-linejoin="round" stroke-linecap="butt"/><path d="M497.6,630 501,545 502.7,480 504,412.8 504.1,405" fill="none" stroke="#ff7f0e" stroke-width="2.29" stroke-linejoin="round" stroke-linecap="butt"/><path d="M499.3,630 501.9,545 503.6,480 505.3,430.2" fill="none" stroke="#ff7f0e" stroke-width="2.29" stroke-linejoin="round" stroke-linecap="butt"/></g><rect x="322.7" y="412.8" width="197.5" height="212.2" fill="none" stroke="#000" stroke-width="1.22"/><line x1="317.35" y1="412.7" x2="322.7" y2="412.7" stroke="#000" stroke-width="1.22"/><text x="312" y="417.3" font-size="13.05" text-anchor="end" textLength="15.52" lengthAdjust="spacingAndGlyphs">15</text><line x1="317.35" y1="448.07" x2="322.7" y2="448.07" stroke="#000" stroke-width="1.22"/><text x="312" y="452.67" font-size="13.05" text-anchor="end" textLength="15.52" lengthAdjust="spacingAndGlyphs">10</text><line x1="317.35" y1="483.43" x2="322.7" y2="483.43" stroke="#000" stroke-width="1.22"/><text x="312" y="488.03" font-size="13.05" text-anchor="end" textLength="7.76" lengthAdjust="spacingAndGlyphs">5</text><line x1="317.35" y1="518.8" x2="322.7" y2="518.8" stroke="#000" stroke-width="1.22"/><text x="312" y="523.4" font-size="13.05" text-anchor="end" textLength="7.76" lengthAdjust="spacingAndGlyphs">0</text><line x1="317.35" y1="554.16" x2="322.7" y2="554.16" stroke="#000" stroke-width="1.22"/><text x="312" y="558.76" font-size="13.05" text-anchor="end" textLength="17.99" lengthAdjust="spacingAndGlyphs">−5</text><line x1="317.35" y1="589.53" x2="322.7" y2="589.53" stroke="#000" stroke-width="1.22"/><text x="312" y="594.13" font-size="13.05" text-anchor="end" textLength="25.75" lengthAdjust="spacingAndGlyphs">−10</text><line x1="317.35" y1="624.89" x2="322.7" y2="624.89" stroke="#000" stroke-width="1.22"/><text x="312" y="629.5" font-size="13.05" text-anchor="end" textLength="25.75" lengthAdjust="spacingAndGlyphs">−15</text><line x1="374" y1="625" x2="374" y2="630.35" stroke="#000" stroke-width="1.22"/><text x="374" y="645" font-size="13.05" text-anchor="middle" textLength="27.16" lengthAdjust="spacingAndGlyphs">0.96</text><line x1="447.2" y1="625" x2="447.2" y2="630.35" stroke="#000" stroke-width="1.22"/><text x="447.2" y="645" font-size="13.05" text-anchor="middle" textLength="27.16" lengthAdjust="spacingAndGlyphs">0.98</text><line x1="520.2" y1="625" x2="520.2" y2="630.35" stroke="#000" stroke-width="1.22"/><text x="520.2" y="645" font-size="13.05" text-anchor="middle" textLength="27.16" lengthAdjust="spacingAndGlyphs">1.00</text><text x="520.2" y="403.4" font-size="13.05" text-anchor="end" textLength="79.64" lengthAdjust="spacingAndGlyphs">AUG #34548</text><text x="282" y="397.7" font-size="16.37" text-anchor="start" textLength="20.35" lengthAdjust="spacingAndGlyphs">(c)</text><text x="405.75" y="663.3" font-size="16.2" font-style="italic" textLength="9" lengthAdjust="spacingAndGlyphs">ρ</text><text x="415.35" y="666.2" font-size="11.4" textLength="15" lengthAdjust="spacingAndGlyphs">pol</text><g transform="translate(285.2 519.0) rotate(-90)"><text x="-43" y="0" font-size="16.2" font-style="italic" textLength="11" lengthAdjust="spacingAndGlyphs">ω</text><line x1="-31.4" y1="-6.4" x2="-28.4" y2="-11" stroke="#000" stroke-width="1.3" stroke-linecap="round"/><text x="-29" y="3" font-size="11.4" textLength="22" lengthAdjust="spacingAndGlyphs">ExB</text><text x="-3" y="0" font-size="16.2" textLength="46" lengthAdjust="spacingAndGlyphs">[MHz]</text></g></svg></body></html>
